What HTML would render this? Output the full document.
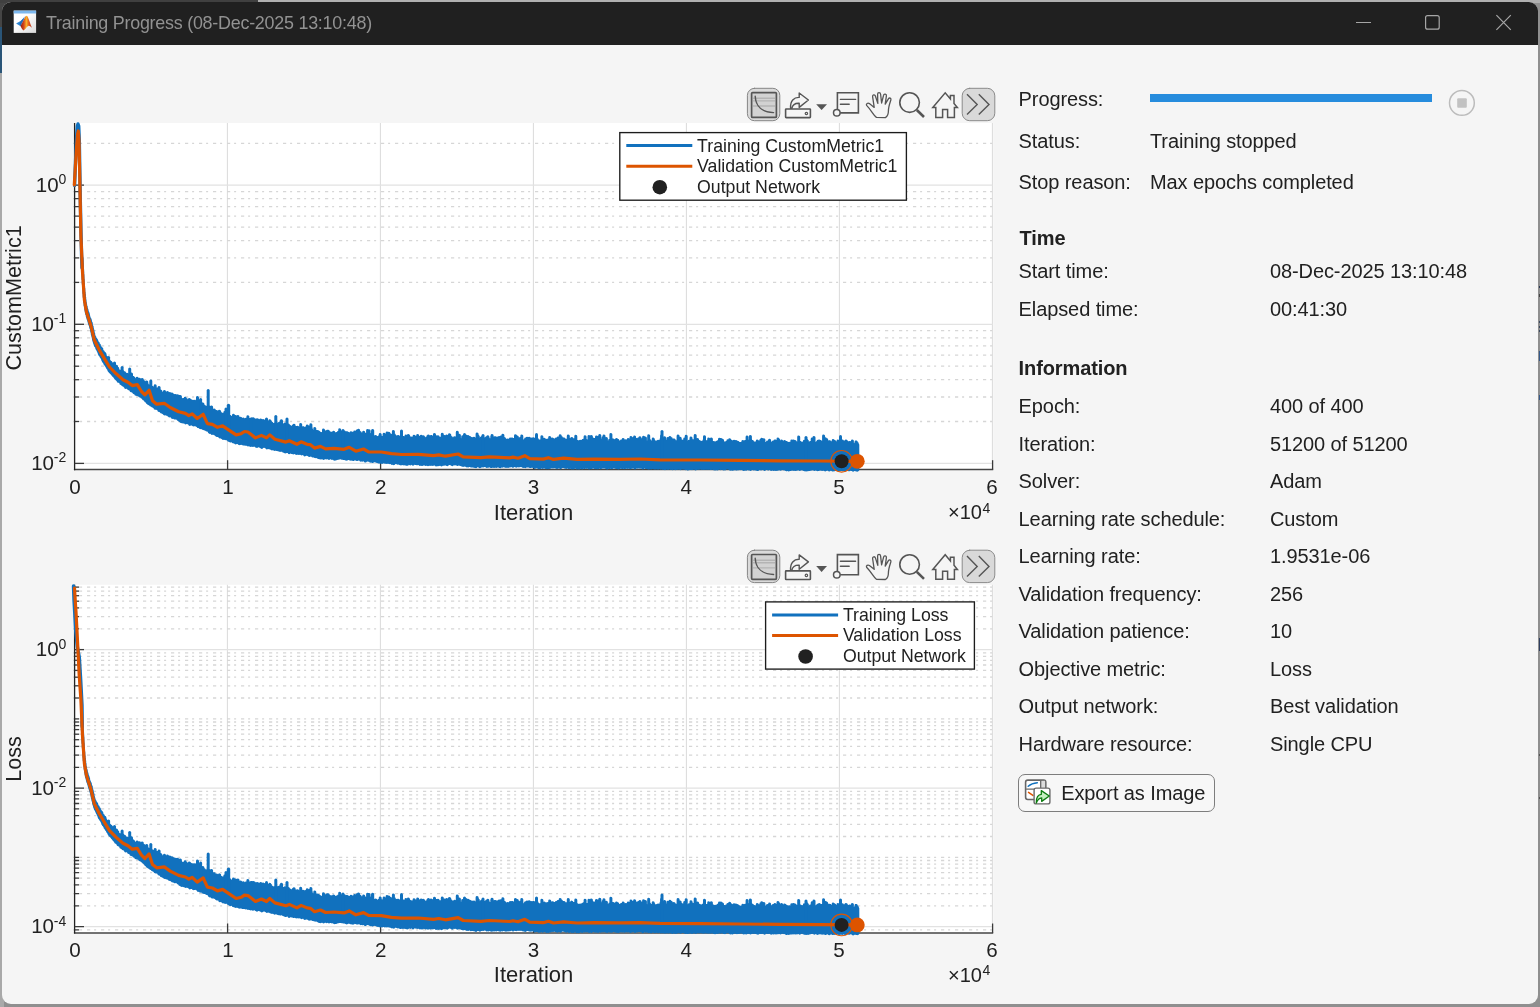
<!DOCTYPE html>
<html><head><meta charset="utf-8"><title>Training Progress</title>
<style>
html,body{margin:0;padding:0}
body{width:1540px;height:1007px;overflow:hidden;position:relative;background:#8f8f8f;font-family:"Liberation Sans",Arial,sans-serif;color:#212121}
.bgl{position:absolute;left:0;top:0;width:4px}
#win{position:absolute;left:2px;top:2px;width:1536px;height:1002px;border-radius:9px;background:#f5f5f5;overflow:hidden}
#tb{position:absolute;left:0;top:0;width:100%;height:42.8px;background:#202020}
#title{position:absolute;left:46px;top:13.3px;font-size:17.9px;letter-spacing:-0.24px;line-height:20px;color:#929292;white-space:pre}
.r{position:absolute;left:0;height:0;font-size:20px;letter-spacing:-0.1px;line-height:0;white-space:pre}
.r span{position:absolute;top:0;line-height:0}
.r .l{left:1018.6px}
.h{font-weight:700}
#bar{position:absolute;left:1150px;top:93.7px;width:282px;height:8.5px;background:#268cdd}
#stop{position:absolute;left:1449px;top:90px;width:23.6px;height:23.6px;border:1.5px solid #bdbdbd;border-radius:50%;box-sizing:content-box}
#stop i{position:absolute;left:7px;top:7px;width:9.6px;height:9.6px;background:#c3c3c3;border-radius:1px}
#btn{position:absolute;left:1018.3px;top:774.2px;width:195px;height:36px;border:1px solid #7d7d7d;border-radius:7px;background:#f7f7f7;box-sizing:content-box}
#btn span{position:absolute;left:41.9px;top:17.7px;line-height:0;font-size:20px;letter-spacing:-0.1px;white-space:pre}
</style></head><body>
<div class="bgl" style="top:0;height:27px;background:#454545"></div>
<div style="position:absolute;left:0;top:0;width:12px;height:12px;background:#454545"></div>
<div class="bgl" style="top:27px;height:46px;background:#2a5578"></div>
<div class="bgl" style="top:73px;height:940px;background:#a9a9a9"></div>
<div style="position:absolute;left:0;top:0;width:1540px;height:3px;background:#b0b0b0"></div>
<div style="position:absolute;left:0;top:0;width:258px;height:3px;background:#404040"></div>
<div id="win" style="left:2px;top:2px"><div style="position:absolute;left:-2px;top:-2px;width:1540px;height:1007px">
<div id="tb" style="left:2px;top:2px;width:1536px"></div>
<svg width="24" height="24" viewBox="0 0 24 24" style="position:absolute;left:13px;top:10px">
<defs><linearGradient id="mg" x1="0" y1="0" x2="1" y2="0"><stop offset="0" stop-color="#8e1a10"/><stop offset="0.3" stop-color="#d8481a"/><stop offset="0.52" stop-color="#f7b22a"/><stop offset="0.7" stop-color="#e8641a"/><stop offset="1" stop-color="#b4281a"/></linearGradient>
<linearGradient id="wg" x1="0" y1="0" x2="1" y2="1"><stop offset="0.4" stop-color="#ffffff"/><stop offset="1" stop-color="#d9d9d9"/></linearGradient></defs>
<rect x="0.7" y="0.6" width="22.4" height="22.3" fill="url(#wg)"/>
<rect x="0.7" y="0.6" width="22.4" height="2.9" fill="#7db8ee"/>
<path d="M3.1,13.5L8,10.8L11.8,6.6L10.6,10.4L8.6,13L7.6,16.2Z" fill="#2e86d2"/>
<path d="M8,10.8L10.4,8.4L9.6,12.4L7.6,16.2L6.6,13.4Z" fill="#1c5ca8" opacity="0.7"/>
<path d="M7.5,15.9L10.4,10.4L12.5,6.3L13.6,5.8L14.6,6.5C15.8,9 17,13.2 18.9,17.8C17.5,16.7 16.4,15.6 15.4,15.9C13.6,16.5 12.3,19.4 10.3,20.6C9.2,19.2 8.2,17.5 7.5,15.9Z" fill="url(#mg)"/>
<path d="M10.3,20.6C11.2,19.4 12,17.4 13.4,16.4L12,18.6Z" fill="#f7c12a"/>
</svg>
<div id="title">Training Progress (08-Dec-2025 13:10:48)</div>
<svg width="200" height="44" viewBox="1340 0 200 44" style="position:absolute;left:1340px;top:0" fill="none" stroke="#a6a6a6" stroke-width="1.2">
<path d="M1356,22.5h15"/><rect x="1425.6" y="15.6" width="13.6" height="13.6" rx="2"/><path d="M1496.4,15.2L1510.8,29.8M1510.8,15.2L1496.4,29.8"/>
</svg>
<svg width="1010" height="960" viewBox="0 46 1010 960" style="position:absolute;left:0;top:46px" font-family="Liberation Sans, Arial, sans-serif" fill="#212121">
<rect x="74.6" y="123.0" width="918.6" height="346.6" fill="#fff"/>
<path d="M227.4,123.0V469.6" stroke="#dcdcdc" stroke-width="1.05"/>
<path d="M380.4,123.0V469.6" stroke="#dcdcdc" stroke-width="1.05"/>
<path d="M533.4,123.0V469.6" stroke="#dcdcdc" stroke-width="1.05"/>
<path d="M686.4,123.0V469.6" stroke="#dcdcdc" stroke-width="1.05"/>
<path d="M839.4,123.0V469.6" stroke="#dcdcdc" stroke-width="1.05"/>
<path d="M992.4,123.0V469.6" stroke="#dcdcdc" stroke-width="1.05"/>
<path d="M74.6,185.2H992.6" stroke="#e2e2e2" stroke-width="1.3"/>
<path d="M74.6,324.3H992.6" stroke="#e2e2e2" stroke-width="1.3"/>
<path d="M74.6,463.4H992.6" stroke="#e2e2e2" stroke-width="1.3"/>
<path d="M73.0,421.5H992.6" stroke="#d6d6d6" stroke-width="1.3" stroke-dasharray="3.2 3.9 2 4.9"/>
<path d="M73.0,397.0H992.6" stroke="#d6d6d6" stroke-width="1.3" stroke-dasharray="3.2 3.9 2 4.9"/>
<path d="M73.0,379.7H992.6" stroke="#d6d6d6" stroke-width="1.3" stroke-dasharray="3.2 3.9 2 4.9"/>
<path d="M73.0,366.2H992.6" stroke="#d6d6d6" stroke-width="1.3" stroke-dasharray="3.2 3.9 2 4.9"/>
<path d="M73.0,355.2H992.6" stroke="#d6d6d6" stroke-width="1.3" stroke-dasharray="3.2 3.9 2 4.9"/>
<path d="M73.0,345.8H992.6" stroke="#d6d6d6" stroke-width="1.3" stroke-dasharray="3.2 3.9 2 4.9"/>
<path d="M73.0,337.8H992.6" stroke="#d6d6d6" stroke-width="1.3" stroke-dasharray="3.2 3.9 2 4.9"/>
<path d="M73.0,330.7H992.6" stroke="#d6d6d6" stroke-width="1.3" stroke-dasharray="3.2 3.9 2 4.9"/>
<path d="M73.0,282.4H992.6" stroke="#d6d6d6" stroke-width="1.3" stroke-dasharray="3.2 3.9 2 4.9"/>
<path d="M73.0,257.9H992.6" stroke="#d6d6d6" stroke-width="1.3" stroke-dasharray="3.2 3.9 2 4.9"/>
<path d="M73.0,240.6H992.6" stroke="#d6d6d6" stroke-width="1.3" stroke-dasharray="3.2 3.9 2 4.9"/>
<path d="M73.0,227.1H992.6" stroke="#d6d6d6" stroke-width="1.3" stroke-dasharray="3.2 3.9 2 4.9"/>
<path d="M73.0,216.1H992.6" stroke="#d6d6d6" stroke-width="1.3" stroke-dasharray="3.2 3.9 2 4.9"/>
<path d="M73.0,206.7H992.6" stroke="#d6d6d6" stroke-width="1.3" stroke-dasharray="3.2 3.9 2 4.9"/>
<path d="M73.0,198.7H992.6" stroke="#d6d6d6" stroke-width="1.3" stroke-dasharray="3.2 3.9 2 4.9"/>
<path d="M73.0,191.6H992.6" stroke="#d6d6d6" stroke-width="1.3" stroke-dasharray="3.2 3.9 2 4.9"/>
<path d="M73.0,143.3H992.6" stroke="#d6d6d6" stroke-width="1.3" stroke-dasharray="3.2 3.9 2 4.9"/>
<path d="M73.89999999999999,469.6H993.2" fill="none" stroke="#444" stroke-width="1.5"/><path d="M74.6,123.0V470.3" fill="none" stroke="#222" stroke-width="1.3"/>
<path d="M227.6,469.6v-9.4" stroke="#3a3a3a" stroke-width="1.3"/>
<path d="M380.6,469.6v-9.4" stroke="#3a3a3a" stroke-width="1.3"/>
<path d="M533.6,469.6v-9.4" stroke="#3a3a3a" stroke-width="1.3"/>
<path d="M686.6,469.6v-9.4" stroke="#3a3a3a" stroke-width="1.3"/>
<path d="M839.6,469.6v-9.4" stroke="#3a3a3a" stroke-width="1.3"/>
<path d="M992.6,469.6v-9.4" stroke="#3a3a3a" stroke-width="1.3"/>
<path d="M74.6,463.4h9.4" stroke="#3a3a3a" stroke-width="1.3"/>
<path d="M74.6,421.5h4.6" stroke="#3a3a3a" stroke-width="1.3"/>
<path d="M74.6,397.0h4.6" stroke="#3a3a3a" stroke-width="1.3"/>
<path d="M74.6,379.7h4.6" stroke="#3a3a3a" stroke-width="1.3"/>
<path d="M74.6,366.2h4.6" stroke="#3a3a3a" stroke-width="1.3"/>
<path d="M74.6,355.2h4.6" stroke="#3a3a3a" stroke-width="1.3"/>
<path d="M74.6,345.8h4.6" stroke="#3a3a3a" stroke-width="1.3"/>
<path d="M74.6,337.8h4.6" stroke="#3a3a3a" stroke-width="1.3"/>
<path d="M74.6,330.7h4.6" stroke="#3a3a3a" stroke-width="1.3"/>
<path d="M74.6,324.3h9.4" stroke="#3a3a3a" stroke-width="1.3"/>
<path d="M74.6,282.4h4.6" stroke="#3a3a3a" stroke-width="1.3"/>
<path d="M74.6,257.9h4.6" stroke="#3a3a3a" stroke-width="1.3"/>
<path d="M74.6,240.6h4.6" stroke="#3a3a3a" stroke-width="1.3"/>
<path d="M74.6,227.1h4.6" stroke="#3a3a3a" stroke-width="1.3"/>
<path d="M74.6,216.1h4.6" stroke="#3a3a3a" stroke-width="1.3"/>
<path d="M74.6,206.7h4.6" stroke="#3a3a3a" stroke-width="1.3"/>
<path d="M74.6,198.7h4.6" stroke="#3a3a3a" stroke-width="1.3"/>
<path d="M74.6,191.6h4.6" stroke="#3a3a3a" stroke-width="1.3"/>
<path d="M74.6,185.2h9.4" stroke="#3a3a3a" stroke-width="1.3"/>
<path d="M74.6,143.3h4.6" stroke="#3a3a3a" stroke-width="1.3"/>
<text x="75.1" y="493.8" text-anchor="middle" font-size="20.6">0</text>
<text x="227.9" y="493.8" text-anchor="middle" font-size="20.6">1</text>
<text x="380.7" y="493.8" text-anchor="middle" font-size="20.6">2</text>
<text x="533.5" y="493.8" text-anchor="middle" font-size="20.6">3</text>
<text x="686.3" y="493.8" text-anchor="middle" font-size="20.6">4</text>
<text x="839.1" y="493.8" text-anchor="middle" font-size="20.6">5</text>
<text x="991.9" y="493.8" text-anchor="middle" font-size="20.6">6</text>
<text x="533.6" y="519.9" text-anchor="middle" font-size="22">Iteration</text>
<text x="982.0" y="519.3" text-anchor="end" font-size="20">×10</text><text x="982.4" y="512.8" font-size="14">4</text>
<text x="58.6" y="192.0" text-anchor="end" font-size="20.5">10</text><text x="66.2" y="184.2" text-anchor="end" font-size="14">0</text>
<text x="54.0" y="331.1" text-anchor="end" font-size="20.5">10</text><text x="66.2" y="323.3" text-anchor="end" font-size="14">-1</text>
<text x="54.0" y="470.2" text-anchor="end" font-size="20.5">10</text><text x="66.2" y="462.4" text-anchor="end" font-size="14">-2</text>
<text transform="translate(21 297.9) rotate(-90)" text-anchor="middle" font-size="21.6">CustomMetric1</text>
<g clip-path="none"><path d="M74.6,185.5 75.2,170.0 76.0,150.0 76.8,134.0 77.4,126.0 78.0,124.0 78.7,126.0 79.3,140.0 79.8,170.0 80.4,205.0 81.0,232.0 81.6,256.0 82.0,268.0" fill="none" stroke="#1171be" stroke-width="3.4" stroke-linejoin="round" stroke-linecap="round"/>
<path d="M82.0,258.1 82.2,262.6 82.3,263.3 82.5,268.1 82.6,269.4 82.8,273.9 82.9,274.8 83.0,279.5 83.2,279.6 83.3,284.3 83.5,283.7 83.6,288.8 83.8,288.5 83.9,293.5 84.1,292.2 84.2,297.1 84.4,294.6 84.5,299.8 84.7,297.2 84.8,302.8 85.0,299.8 85.1,305.6 85.3,302.6 85.4,307.3 85.6,304.0 85.7,309.4 85.9,306.6 86.0,310.9 86.2,306.5 86.3,312.5 86.5,308.3 86.6,314.0 86.8,309.2 86.9,314.8 87.1,310.1 87.2,316.2 87.4,311.5 87.5,317.3 87.7,312.7 87.8,318.3 88.0,312.8 88.1,319.2 88.3,313.8 88.4,320.1 88.6,314.9 88.7,321.0 88.9,316.6 89.0,321.9 89.2,317.7 89.3,323.2 89.5,318.2 89.6,324.2 89.8,318.9 89.9,325.1 90.1,319.3 90.2,325.8 90.4,320.2 90.5,327.0 90.7,321.8 90.8,328.0 91.0,322.7 91.1,328.8 91.3,323.0 91.4,330.0 91.6,325.2 91.7,331.5 91.9,326.2 92.0,332.8 92.2,326.8 92.3,334.4 92.5,328.5 92.6,335.4 92.8,329.7 92.9,336.8 93.1,330.7 93.2,337.9 93.4,332.9 93.5,339.7 93.7,333.6 93.8,340.8 94.0,335.3 94.1,341.7 94.3,336.2 94.4,342.7 94.6,337.1 94.7,343.8 94.9,337.2 95.0,344.5 95.2,338.2 95.3,345.4 95.5,339.3 95.6,345.9 95.8,339.0 95.9,346.3 96.1,339.5 96.2,346.7 96.4,340.6 96.5,347.6 96.7,340.2 96.8,348.4 97.0,341.3 97.1,349.1 97.3,342.1 97.4,349.5 97.6,343.2 97.7,350.0 97.9,343.3 98.0,350.8 98.2,343.1 98.3,351.2 98.5,344.1 98.6,352.1 98.8,345.4 98.9,352.6 99.1,346.1 99.2,353.8 99.4,345.1 99.5,354.4 99.7,347.4 99.8,354.3 100.0,346.9 100.1,355.1 100.3,348.2 100.4,355.6 100.6,347.6 100.7,356.2 100.9,348.0 101.0,356.1 101.2,349.1 101.3,357.0 101.5,348.8 101.6,357.5 101.8,348.8 101.9,358.0 102.1,350.8 102.2,358.8 102.4,350.9 102.5,359.0 102.7,351.8 102.8,360.2 103.0,352.2 103.1,360.5 103.3,351.8 103.4,361.4 103.6,352.7 103.7,361.1 103.9,353.3 104.0,361.7 104.2,354.8 104.3,362.3 104.5,354.1 104.6,363.2 104.8,353.6 104.9,364.0 105.1,354.3 105.2,363.8 105.4,355.7 105.5,364.3 105.7,356.4 105.8,365.1 106.0,357.1 106.1,365.3 106.3,357.5 106.4,366.1 106.6,357.3 106.7,366.4 106.9,357.8 107.0,366.6 107.2,358.5 107.3,367.4 107.5,359.0 107.6,368.1 107.8,360.3 107.9,368.5 108.1,360.4 108.2,368.7 108.4,360.6 108.5,369.5 108.7,361.6 108.8,370.2 109.0,360.8 109.1,370.7 109.3,361.8 109.4,370.7 109.6,361.3 109.7,371.3 109.9,362.7 110.0,372.0 110.2,362.6 110.3,371.8 110.5,363.3 110.6,372.1 110.8,362.3 110.9,372.4 111.1,363.0 111.2,373.0 111.4,363.2 111.5,373.0 111.7,364.6 111.8,373.5 112.0,363.8 112.1,374.1 112.3,363.9 112.4,374.0 112.6,364.1 112.7,374.7 112.9,364.7 113.0,374.8 113.2,366.1 113.3,375.6 113.5,365.9 113.6,375.4 113.8,367.1 113.9,376.0 114.1,367.0 114.2,376.3 114.4,367.2 114.5,376.8 114.7,367.5 114.8,377.1 115.0,366.9 115.1,377.6 115.3,367.6 115.4,378.1 115.6,368.0 115.7,378.6 115.9,368.2 116.0,378.3 116.2,368.5 116.3,378.6 116.5,366.3 116.6,378.9 116.8,369.9 116.9,379.5 117.1,370.1 117.2,379.5 117.4,369.2 117.5,380.0 117.7,368.2 117.8,380.6 118.0,370.0 118.1,381.2 118.3,370.2 118.4,380.9 118.6,370.6 118.7,381.3 118.9,370.9 119.0,381.1 119.2,370.9 119.3,381.4 119.5,371.0 119.6,381.8 119.8,371.7 119.9,381.8 120.1,371.2 120.2,382.1 120.4,371.7 120.5,382.7 120.7,372.3 120.8,383.6 121.0,371.3 121.1,382.6 121.3,372.9 121.4,383.2 121.6,373.2 121.7,383.4 121.9,372.4 122.0,383.9 122.2,373.4 122.3,384.4 122.5,372.5 122.6,384.7 122.8,371.5 122.9,385.1 123.1,373.4 123.2,384.6 123.4,373.0 123.5,385.2 123.7,372.9 123.8,385.4 124.0,374.7 124.1,385.4 124.3,374.1 124.4,385.5 124.6,372.7 124.7,385.5 124.9,373.9 125.0,386.4 125.2,374.0 125.3,386.5 125.5,374.3 125.6,387.4 125.8,375.4 125.9,386.6 126.1,375.3 126.2,387.2 126.4,374.6 126.5,386.8 126.7,375.7 126.8,387.2 127.0,374.3 127.1,387.5 127.3,375.0 127.4,387.1 127.6,375.7 127.7,387.3 127.9,375.2 128.0,388.0 128.2,374.9 128.3,388.0 128.5,376.7 128.6,388.8 128.8,375.3 128.9,388.5 129.1,376.6 129.2,389.1 129.4,377.4 129.5,388.6 129.7,377.1 129.8,389.1 130.0,376.6 130.1,389.1 130.3,376.2 130.4,389.5 130.6,377.1 130.7,390.0 130.9,377.1 131.0,390.8 131.2,377.9 131.3,389.9 131.5,374.1 131.6,390.7 131.8,378.3 131.9,391.1 132.1,377.1 132.2,390.8 132.4,377.7 132.5,390.8 132.7,377.2 132.8,391.0 133.0,379.3 133.1,391.5 133.3,377.4 133.4,391.9 133.6,378.9 133.7,391.5 133.9,378.1 134.0,392.7 134.2,379.6 134.3,391.9 134.5,379.8 134.6,392.4 134.8,379.7 134.9,392.8 135.1,379.9 135.2,392.9 135.4,380.2 135.5,393.1 135.7,380.4 135.8,394.2 136.0,379.6 136.1,393.5 136.3,379.9 136.4,394.0 136.6,380.9 136.7,394.4 136.9,380.6 137.0,394.5 137.2,378.3 137.3,394.4 137.5,379.5 137.6,394.7 137.8,380.8 137.9,394.3 138.1,382.3 138.2,394.6 138.4,381.0 138.5,394.9 138.7,380.7 138.8,394.8 139.0,381.4 139.1,395.2 139.3,380.8 139.4,395.2 139.6,379.2 139.7,396.1 139.9,379.9 140.0,395.7 140.2,381.0 140.3,396.2 140.5,380.9 140.6,395.5 140.8,382.4 140.9,395.9 141.1,381.3 141.2,396.4 141.4,381.3 141.5,396.8 141.7,380.9 141.8,397.3 142.0,380.5 142.1,396.3 142.3,379.4 142.4,396.8 142.6,383.7 142.7,397.5 142.9,381.9 143.0,397.6 143.2,382.0 143.3,398.4 143.5,382.6 143.6,398.9 143.8,383.3 143.9,398.7 144.1,381.8 144.2,398.7 144.4,383.0 144.5,399.1 144.7,385.4 144.8,399.4 145.0,383.4 145.1,400.1 145.3,384.7 145.4,400.4 145.6,385.9 145.7,401.1 145.9,383.2 146.0,400.7 146.2,385.4 146.3,400.8 146.5,386.3 146.6,401.0 146.8,381.9 146.9,401.2 147.1,383.8 147.2,402.6 147.4,386.7 147.5,402.1 147.7,386.8 147.8,403.0 148.0,387.5 148.1,402.4 148.3,385.5 148.4,403.5 148.6,387.0 148.7,403.7 148.9,388.9 149.0,403.2 149.2,386.4 149.3,403.2 149.5,388.6 149.6,404.1 149.8,388.6 149.9,404.1 150.1,387.5 150.2,403.7 150.4,387.8 150.5,405.0 150.7,385.7 150.8,403.7 151.0,388.0 151.1,404.5 151.3,388.3 151.4,405.2 151.6,388.5 151.7,405.1 151.9,388.6 152.0,405.5 152.2,389.7 152.3,406.1 152.5,387.5 152.6,405.8 152.8,388.4 152.9,405.2 153.1,390.2 153.2,406.2 153.4,389.1 153.5,405.8 153.7,389.7 153.8,406.8 154.0,389.4 154.1,406.6 154.3,390.8 154.4,406.5 154.6,388.6 154.7,407.3 154.9,388.8 155.0,408.2 155.2,385.8 155.3,407.6 155.5,389.7 155.6,408.3 155.8,390.8 155.9,408.1 156.1,389.4 156.2,407.5 156.4,391.8 156.5,408.3 156.7,390.5 156.8,407.7 157.0,390.0 157.1,408.4 157.3,388.9 157.4,408.1 157.6,391.9 157.7,408.9 157.9,391.4 158.0,408.6 158.2,392.7 158.3,408.7 158.5,392.0 158.6,409.5 158.8,390.6 158.9,410.4 159.1,387.5 159.2,410.0 159.4,393.0 159.5,410.5 159.7,390.5 159.8,410.1 160.0,390.5 160.1,410.8 160.3,392.0 160.4,410.9 160.6,393.1 160.7,411.2 160.9,391.2 161.0,411.5 161.2,392.2 161.3,412.1 161.5,393.5 161.6,411.5 161.8,394.3 161.9,411.9 162.1,392.9 162.2,411.8 162.4,394.6 162.5,412.0 162.7,393.8 162.8,411.9 163.0,395.5 163.1,412.8 163.3,393.5 163.4,412.2 163.6,393.8 163.7,413.1 163.9,395.0 164.0,413.4 164.2,395.0 164.3,413.1 164.5,391.6 164.6,413.9 164.8,394.1 164.9,412.9 165.1,393.8 165.2,413.0 165.4,394.8 165.5,413.3 165.7,393.6 165.8,413.6 166.0,395.7 166.1,413.2 166.3,394.8 166.4,414.3 166.6,396.0 166.7,413.6 166.9,394.1 167.0,414.1 167.2,396.9 167.3,414.2 167.5,392.5 167.6,414.2 167.8,394.6 167.9,414.4 168.1,398.1 168.2,414.5 168.4,394.8 168.5,415.2 168.7,394.3 168.8,415.2 169.0,393.9 169.1,413.9 169.3,395.4 169.4,415.9 169.6,395.8 169.7,415.7 169.9,393.5 170.0,415.3 170.2,395.3 170.3,415.3 170.5,394.7 170.6,415.8 170.8,395.1 170.9,415.4 171.1,396.5 171.2,416.3 171.4,394.7 171.5,416.3 171.7,395.6 171.8,415.5 172.0,394.1 172.1,416.1 172.3,396.3 172.4,417.4 172.6,397.4 172.7,416.1 172.9,395.4 173.0,416.7 173.2,396.0 173.3,416.5 173.5,396.2 173.6,416.8 173.8,395.2 173.9,417.2 174.1,397.3 174.2,417.5 174.4,396.3 174.5,418.1 174.7,399.1 174.8,418.0 175.0,396.7 175.1,418.1 175.3,397.6 175.4,418.1 175.6,395.6 175.7,418.0 175.9,397.6 176.0,417.4 176.2,397.3 176.3,417.7 176.5,399.9 176.6,418.0 176.8,397.3 176.9,418.1 177.1,397.2 177.2,418.5 177.4,395.7 177.5,418.7 177.7,400.3 177.8,419.1 178.0,398.2 178.1,419.5 178.3,399.9 178.4,419.3 178.6,400.4 178.7,419.4 178.9,396.3 179.0,419.4 179.2,398.1 179.3,419.4 179.5,401.0 179.6,420.5 179.8,398.7 179.9,420.8 180.1,400.7 180.2,419.8 180.4,396.5 180.5,420.9 180.7,399.7 180.8,421.5 181.0,398.7 181.1,419.9 181.3,399.1 181.4,419.9 181.6,401.2 181.7,421.8 181.9,399.8 182.0,420.6 182.2,402.0 182.3,421.0 182.5,400.0 182.6,421.2 182.8,402.1 182.9,422.0 183.1,401.3 183.2,419.9 183.4,400.5 183.5,420.9 183.7,399.6 183.8,422.1 184.0,401.0 184.1,421.1 184.3,401.7 184.4,421.2 184.6,402.5 184.7,422.2 184.9,402.7 185.0,421.0 185.2,398.2 185.3,421.2 185.5,402.2 185.6,422.9 185.8,399.8 185.9,421.2 186.1,401.3 186.2,422.1 186.4,399.6 186.5,422.2 186.7,402.5 186.8,422.6 187.0,401.3 187.1,422.1 187.3,404.1 187.4,422.6 187.6,401.9 187.7,422.8 187.9,403.1 188.0,422.8 188.2,401.3 188.3,422.5 188.5,402.5 188.6,422.4 188.8,403.1 188.9,423.5 189.1,402.5 189.2,423.4 189.4,399.4 189.5,423.5 189.7,402.2 189.8,424.5 190.0,404.1 190.1,423.9 190.3,405.4 190.4,423.3 190.6,403.4 190.7,423.9 190.9,403.9 191.0,423.2 191.2,401.1 191.3,424.0 191.5,404.2 191.6,423.6 191.8,402.4 191.9,423.6 192.1,403.1 192.2,423.9 192.4,405.0 192.5,423.6 192.7,402.5 192.8,423.1 193.0,401.2 193.1,424.7 193.3,405.6 193.4,425.1 193.6,403.7 193.7,423.4 193.9,404.8 194.0,423.0 194.2,404.6 194.3,424.4 194.5,401.2 194.6,424.8 194.8,401.8 194.9,424.8 195.1,401.7 195.2,424.3 195.4,402.0 195.5,424.4 195.7,401.7 195.8,424.2 196.0,403.7 196.1,423.8 196.3,404.8 196.4,424.1 196.6,404.4 196.7,425.4 196.9,400.7 197.0,425.3 197.2,405.2 197.3,425.1 197.5,397.4 197.6,425.5 197.8,402.5 197.9,425.3 198.1,405.3 198.2,426.8 198.4,402.6 198.5,426.4 198.7,400.8 198.8,426.5 199.0,405.5 199.1,425.8 199.3,404.1 199.4,426.8 199.6,404.2 199.7,426.2 199.9,407.2 200.0,427.0 200.2,405.0 200.3,427.7 200.5,406.9 200.6,426.5 200.8,406.5 200.9,427.4 201.1,406.7 201.2,427.4 201.4,407.6 201.5,427.4 201.7,403.8 201.8,426.3 202.0,408.6 202.1,427.9 202.3,408.3 202.4,427.9 202.6,406.9 202.7,428.0 202.9,403.9 203.0,428.6 203.2,405.5 203.3,428.1 203.5,407.3 203.6,428.1 203.8,406.6 203.9,428.8 204.1,405.9 204.2,428.7 204.4,408.2 204.5,429.0 204.7,406.6 204.8,428.8 205.0,406.8 205.1,429.0 205.3,408.1 205.4,429.2 205.6,410.4 205.7,429.0 205.9,408.2 206.0,429.4 206.2,409.3 206.3,428.8 206.5,407.4 206.6,430.0 206.8,407.2 206.9,429.9 207.1,408.0 207.2,429.4 207.4,408.9 207.5,429.4 207.7,408.1 207.8,430.1 208.0,410.3 208.1,430.4 208.3,409.9 208.4,429.9 208.6,412.0 208.7,430.7 208.9,410.9 209.0,430.7 209.2,407.0 209.3,431.9 209.5,411.6 209.6,431.7 209.8,410.7 209.9,432.4 210.1,409.3 210.2,431.1 210.4,410.1 210.5,431.1 210.7,409.5 210.8,431.2 211.0,413.3 211.1,431.1 211.3,410.0 211.4,431.9 211.6,407.0 211.7,433.0 211.9,412.8 212.0,433.5 212.2,411.3 212.3,432.1 212.5,412.7 212.6,433.0 212.8,411.9 212.9,433.3 213.1,412.5 213.2,433.0 213.4,410.8 213.5,433.0 213.7,411.4 213.8,433.4 214.0,410.2 214.1,433.3 214.3,410.1 214.4,433.7 214.6,412.6 214.7,434.0 214.9,413.0 215.0,433.7 215.2,414.5 215.3,433.6 215.5,414.2 215.6,433.5 215.8,411.6 215.9,434.1 216.1,412.5 216.2,435.0 216.4,413.4 216.5,434.2 216.7,411.4 216.8,435.4 217.0,414.6 217.1,435.4 217.3,414.1 217.4,434.9 217.6,415.3 217.7,435.0 217.9,414.7 218.0,435.2 218.2,413.9 218.3,435.5 218.5,414.5 218.6,435.7 218.8,414.0 218.9,435.0 219.1,416.9 219.2,435.4 219.4,411.3 219.5,436.0 219.7,411.5 219.8,437.1 220.0,416.1 220.1,436.1 220.3,414.5 220.4,436.0 220.6,414.8 220.7,435.7 220.9,415.7 221.0,436.1 221.2,414.2 221.3,437.0 221.5,413.8 221.6,437.4 221.8,414.2 221.9,436.2 222.1,415.5 222.2,436.1 222.4,415.1 222.5,436.7 222.7,416.1 222.8,437.8 223.0,418.2 223.1,438.4 223.3,415.9 223.4,437.7 223.6,414.2 223.7,437.5 223.9,415.6 224.0,437.7 224.2,415.0 224.3,437.7 224.5,419.1 224.6,437.8 224.8,412.4 224.9,437.8 225.1,418.4 225.2,438.8 225.4,414.7 225.5,438.2 225.7,415.7 225.8,437.5 226.0,416.1 226.1,438.3 226.3,417.4 226.4,438.2 226.6,416.5 226.7,438.4 226.9,417.2 227.0,438.9 227.2,416.3 227.3,438.7 227.5,416.4 227.6,438.4 227.8,420.1 227.9,438.8 228.1,418.6 228.2,439.2 228.4,418.4 228.5,440.2 228.7,415.5 228.8,439.2 229.0,416.1 229.1,439.4 229.3,419.3 229.4,439.6 229.6,419.6 229.7,440.7 229.9,416.2 230.0,440.4 230.2,419.6 230.3,441.1 230.5,418.5 230.6,441.0 230.8,417.1 230.9,440.1 231.1,418.5 231.2,440.2 231.4,420.3 231.5,440.1 231.7,418.4 231.8,440.6 232.0,418.0 232.1,440.6 232.3,418.8 232.4,440.0 232.6,420.5 232.7,441.4 232.9,417.7 233.0,440.9 233.2,417.4 233.3,442.1 233.5,415.3 233.6,441.7 233.8,416.5 233.9,440.9 234.1,420.0 234.2,440.7 234.4,417.7 234.5,441.6 234.7,416.7 234.8,441.6 235.0,418.1 235.1,442.6 235.3,419.0 235.4,441.6 235.6,416.4 235.7,443.0 235.9,419.3 236.0,441.5 236.2,420.8 236.3,441.8 236.5,421.2 236.6,441.5 236.8,421.0 236.9,441.5 237.1,419.6 237.2,442.0 237.4,421.7 237.5,442.5 237.7,420.5 237.8,442.8 238.0,416.5 238.1,441.7 238.3,419.2 238.4,441.8 238.6,418.6 238.7,442.4 238.9,420.4 239.0,442.7 239.2,420.5 239.3,443.7 239.5,420.8 239.6,442.3 239.8,419.8 239.9,441.8 240.1,420.8 240.2,442.6 240.4,420.6 240.5,443.4 240.7,418.3 240.8,443.3 241.0,421.0 241.1,442.8 241.3,421.7 241.4,442.7 241.6,422.6 241.7,443.1 241.9,422.6 242.0,441.9 242.2,420.9 242.3,443.8 242.5,423.2 242.6,442.6 242.8,420.2 242.9,443.0 243.1,423.8 243.2,444.0 243.4,419.1 243.5,443.9 243.7,420.4 243.8,443.2 244.0,420.8 244.1,443.1 244.3,421.0 244.4,442.9 244.6,421.4 244.7,443.1 244.9,420.7 245.0,444.2 245.2,420.6 245.3,443.2 245.5,422.3 245.6,444.3 245.8,421.3 245.9,442.9 246.1,419.3 246.2,443.1 246.4,420.3 246.5,443.6 246.7,422.9 246.8,443.5 247.0,422.5 247.1,444.2 247.3,420.5 247.4,444.7 247.6,423.7 247.7,443.9 247.9,416.8 248.0,444.9 248.2,420.5 248.3,442.8 248.5,418.9 248.6,443.4 248.8,418.9 248.9,444.4 249.1,424.0 249.2,445.0 249.4,421.8 249.5,443.7 249.7,424.2 249.8,444.6 250.0,422.2 250.1,444.9 250.3,421.7 250.4,444.1 250.6,421.3 250.7,445.4 250.9,422.9 251.0,444.2 251.2,421.1 251.3,444.3 251.5,418.9 251.6,444.7 251.8,421.7 251.9,444.0 252.1,423.9 252.2,444.3 252.4,423.3 252.5,444.9 252.7,422.7 252.8,445.6 253.0,420.6 253.1,445.6 253.3,418.8 253.4,445.1 253.6,421.9 253.7,443.8 253.9,422.3 254.0,444.5 254.2,421.5 254.3,444.9 254.5,419.5 254.6,445.0 254.8,421.0 254.9,445.2 255.1,420.7 255.2,444.2 255.4,425.1 255.5,445.7 255.7,424.8 255.8,444.9 256.0,422.0 256.1,446.2 256.3,423.8 256.4,444.9 256.6,425.3 256.7,445.5 256.9,420.7 257.0,446.6 257.2,419.8 257.3,445.5 257.5,422.2 257.6,445.1 257.8,422.8 257.9,445.6 258.1,423.4 258.2,444.7 258.4,420.3 258.5,445.4 258.7,423.2 258.8,445.1 259.0,424.4 259.1,445.9 259.3,424.1 259.4,446.1 259.6,424.2 259.7,446.1 259.9,423.8 260.0,445.7 260.2,423.3 260.3,445.6 260.5,423.1 260.6,446.7 260.8,420.0 260.9,444.9 261.1,423.6 261.2,445.4 261.4,422.8 261.5,446.3 261.7,422.7 261.8,447.4 262.0,424.1 262.1,446.1 262.3,422.8 262.4,445.6 262.6,421.5 262.7,446.5 262.9,424.2 263.0,445.8 263.2,420.5 263.3,446.6 263.5,423.4 263.6,446.0 263.8,422.8 263.9,446.1 264.1,423.6 264.2,446.2 264.4,425.8 264.5,446.2 264.7,423.8 264.8,446.5 265.0,424.4 265.1,445.7 265.3,420.9 265.4,446.8 265.6,424.3 265.7,446.4 265.9,421.4 266.0,446.0 266.2,421.2 266.3,446.4 266.5,424.7 266.6,446.7 266.8,423.6 266.9,447.9 267.1,423.7 267.2,446.4 267.4,422.7 267.5,447.6 267.7,424.3 267.8,446.0 268.0,421.9 268.1,446.6 268.3,424.0 268.4,446.4 268.6,422.3 268.7,447.7 268.9,425.2 269.0,446.2 269.2,424.8 269.3,446.7 269.5,423.0 269.6,447.5 269.8,420.7 269.9,447.9 270.1,424.0 270.2,447.6 270.4,421.4 270.5,448.3 270.7,426.0 270.8,447.8 271.0,430.0 271.1,447.2 271.3,426.4 271.4,446.6 271.6,425.5 271.7,448.7 271.9,423.3 272.0,448.9 272.2,425.0 272.3,447.0 272.5,424.8 272.6,448.1 272.8,425.3 272.9,447.7 273.1,427.4 273.2,447.9 273.4,427.2 273.5,448.9 273.7,424.5 273.8,448.5 274.0,424.5 274.1,448.9 274.3,428.6 274.4,447.9 274.6,425.5 274.7,449.6 274.9,427.4 275.0,449.3 275.2,423.9 275.3,448.3 275.5,426.5 275.6,447.8 275.8,424.7 275.9,449.0 276.1,424.0 276.2,448.0 276.4,423.5 276.5,449.4 276.7,424.3 276.8,449.1 277.0,423.9 277.1,448.3 277.3,428.3 277.4,449.0 277.6,425.8 277.7,449.8 277.9,426.3 278.0,448.2 278.2,425.0 278.3,449.0 278.5,426.6 278.6,450.1 278.8,425.8 278.9,448.6 279.1,423.6 279.2,448.5 279.4,428.2 279.5,449.6 279.7,428.8 279.8,449.3 280.0,428.8 280.1,450.4 280.3,425.2 280.4,449.5 280.6,428.3 280.7,449.3 280.9,421.6 281.0,450.3 281.2,425.9 281.3,450.0 281.5,420.7 281.6,450.2 281.8,426.4 281.9,449.9 282.1,426.3 282.2,449.8 282.4,428.1 282.5,449.9 282.7,426.5 282.8,449.7 283.0,424.7 283.1,450.8 283.3,428.0 283.4,451.2 283.6,426.1 283.7,450.0 283.9,427.5 284.0,450.2 284.2,425.5 284.3,450.5 284.5,426.8 284.6,451.1 284.8,429.9 284.9,450.8 285.1,424.1 285.2,452.0 285.4,427.2 285.5,450.3 285.7,427.0 285.8,450.8 286.0,428.4 286.1,451.8 286.3,426.8 286.4,450.9 286.6,429.2 286.7,451.6 286.9,427.0 287.0,451.4 287.2,429.0 287.3,450.3 287.5,427.6 287.6,451.5 287.8,428.1 287.9,451.6 288.1,427.5 288.2,451.3 288.4,424.9 288.5,451.3 288.7,428.2 288.8,451.9 289.0,426.1 289.1,452.8 289.3,426.0 289.4,452.2 289.6,429.9 289.7,452.3 289.9,429.9 290.0,451.7 290.2,428.8 290.3,451.5 290.5,430.3 290.6,451.7 290.8,426.9 290.9,451.9 291.1,428.8 291.2,451.7 291.4,427.5 291.5,452.4 291.7,428.4 291.8,451.9 292.0,430.6 292.1,451.7 292.3,428.7 292.4,452.4 292.6,428.4 292.7,451.9 292.9,430.6 293.0,451.5 293.2,426.0 293.3,452.9 293.5,430.0 293.6,451.3 293.8,427.1 293.9,451.1 294.1,425.2 294.2,452.8 294.4,429.0 294.5,452.6 294.7,429.4 294.8,451.3 295.0,429.3 295.1,452.0 295.3,428.3 295.4,451.4 295.6,428.6 295.7,452.5 295.9,427.8 296.0,451.4 296.2,427.5 296.3,453.5 296.5,428.1 296.6,452.8 296.8,428.7 296.9,453.2 297.1,431.3 297.2,451.7 297.4,427.8 297.5,451.8 297.7,427.2 297.8,452.8 298.0,427.7 298.1,452.3 298.3,429.9 298.4,453.5 298.6,430.2 298.7,452.6 298.9,431.0 299.0,452.1 299.2,429.6 299.3,452.2 299.5,431.9 299.6,452.4 299.8,428.1 299.9,453.4 300.1,430.7 300.2,452.8 300.4,429.3 300.5,452.2 300.7,424.6 300.8,452.9 301.0,427.1 301.1,453.2 301.3,427.5 301.4,452.4 301.6,428.1 301.7,454.1 301.9,430.1 302.0,452.7 302.2,428.1 302.3,452.8 302.5,430.3 302.6,453.4 302.8,428.6 302.9,452.5 303.1,427.7 303.2,453.2 303.4,429.5 303.5,453.2 303.7,428.0 303.8,453.5 304.0,430.3 304.1,453.2 304.3,428.5 304.4,454.4 304.6,429.0 304.7,455.0 304.9,429.0 305.0,453.6 305.2,432.8 305.3,453.7 305.5,432.0 305.6,453.9 305.8,427.9 305.9,454.6 306.1,430.7 306.2,453.8 306.4,430.5 306.5,452.8 306.7,431.5 306.8,453.5 307.0,431.3 307.1,453.6 307.3,426.1 307.4,453.7 307.6,431.9 307.7,454.4 307.9,427.9 308.0,454.8 308.2,432.5 308.3,453.4 308.5,428.6 308.6,453.7 308.8,431.4 308.9,453.8 309.1,430.5 309.2,455.6 309.4,427.0 309.5,455.5 309.7,433.4 309.8,454.5 310.0,431.3 310.1,454.7 310.3,434.0 310.4,455.3 310.6,427.2 310.7,454.2 310.9,424.8 311.0,453.5 311.2,428.1 311.3,454.4 311.5,429.6 311.6,455.1 311.8,434.5 311.9,455.0 312.1,432.3 312.2,454.4 312.4,434.0 312.5,455.9 312.7,434.5 312.8,455.1 313.0,431.9 313.1,455.3 313.3,431.2 313.4,455.9 313.6,433.8 313.7,456.1 313.9,433.1 314.0,455.7 314.2,433.8 314.3,455.1 314.5,433.8 314.6,455.9 314.8,428.5 314.9,455.8 315.1,432.2 315.2,456.7 315.4,431.2 315.5,455.7 315.7,431.0 315.8,456.0 316.0,433.0 316.1,455.5 316.3,433.2 316.4,455.7 316.6,431.7 316.7,456.7 316.9,432.6 317.0,456.3 317.2,435.0 317.3,455.7 317.5,431.5 317.6,456.1 317.8,432.3 317.9,455.7 318.1,434.6 318.2,457.4 318.4,433.6 318.5,455.4 318.7,432.0 318.8,456.7 319.0,435.6 319.1,457.8 319.3,432.6 319.4,457.4 319.6,436.2 319.7,457.3 319.9,433.0 320.0,457.0 320.2,434.4 320.3,456.3 320.5,434.2 320.6,458.1 320.8,435.3 320.9,456.6 321.1,434.0 321.2,457.9 321.4,433.6 321.5,456.6 321.7,436.9 321.8,457.7 322.0,434.4 322.1,457.1 322.3,435.6 322.4,457.4 322.6,434.9 322.7,457.0 322.9,435.2 323.0,456.2 323.2,434.4 323.3,456.6 323.5,430.1 323.6,458.5 323.8,435.1 323.9,457.4 324.1,431.3 324.2,457.5 324.4,435.3 324.5,458.0 324.7,434.4 324.8,457.0 325.0,434.9 325.1,457.1 325.3,435.4 325.4,457.3 325.6,434.8 325.7,457.4 325.9,434.5 326.0,456.7 326.2,434.7 326.3,456.4 326.5,431.8 326.6,458.1 326.8,432.0 326.9,456.3 327.1,436.0 327.2,456.0 327.4,431.2 327.5,457.6 327.7,434.2 327.8,457.2 328.0,432.9 328.1,456.7 328.3,431.2 328.4,457.1 328.6,436.6 328.7,457.8 328.9,434.1 329.0,458.5 329.2,432.8 329.3,456.9 329.5,434.3 329.6,457.9 329.8,433.3 329.9,457.3 330.1,433.0 330.2,457.2 330.4,436.4 330.5,457.8 330.7,435.4 330.8,457.6 331.0,433.3 331.1,457.3 331.3,433.6 331.4,457.2 331.6,435.1 331.7,457.8 331.9,434.4 332.0,458.4 332.2,435.2 332.3,458.1 332.5,432.9 332.6,457.2 332.8,437.4 332.9,458.1 333.1,434.7 333.2,457.9 333.4,436.3 333.5,458.1 333.7,432.3 333.8,457.7 334.0,434.6 334.1,457.4 334.3,433.7 334.4,459.2 334.6,436.5 334.7,458.5 334.9,435.2 335.0,458.0 335.2,435.2 335.3,457.6 335.5,433.7 335.6,457.1 335.8,437.6 335.9,458.9 336.1,438.0 336.2,458.8 336.4,435.0 336.5,458.0 336.7,435.4 336.8,457.4 337.0,434.3 337.1,457.9 337.3,433.2 337.4,458.5 337.6,434.4 337.7,456.7 337.9,433.4 338.0,457.8 338.2,436.1 338.3,458.0 338.5,432.3 338.6,458.2 338.8,435.5 338.9,458.0 339.1,436.1 339.2,458.0 339.4,434.6 339.5,457.3 339.7,429.7 339.8,457.9 340.0,432.7 340.1,457.8 340.3,434.8 340.4,457.2 340.6,435.1 340.7,457.7 340.9,433.7 341.0,457.9 341.2,436.8 341.3,457.2 341.5,432.1 341.6,458.2 341.8,434.2 341.9,456.8 342.1,435.4 342.2,457.6 342.4,436.7 342.5,457.3 342.7,435.7 342.8,457.2 343.0,434.7 343.1,458.5 343.3,435.4 343.4,458.4 343.6,437.2 343.7,457.7 343.9,433.8 344.0,458.4 344.2,436.0 344.3,457.3 344.5,432.1 344.6,457.8 344.8,435.4 344.9,457.5 345.1,436.4 345.2,457.5 345.4,433.1 345.5,459.0 345.7,436.0 345.8,458.8 346.0,435.6 346.1,458.2 346.3,434.4 346.4,457.9 346.6,434.0 346.7,459.3 346.9,432.8 347.0,459.1 347.2,432.8 347.3,458.6 347.5,435.7 347.6,456.9 347.8,433.8 347.9,458.8 348.1,437.0 348.2,458.6 348.4,436.7 348.5,458.0 348.7,433.6 348.8,457.7 349.0,434.1 349.1,457.8 349.3,435.5 349.4,457.7 349.6,433.9 349.7,458.3 349.9,435.1 350.0,458.5 350.2,436.9 350.3,459.2 350.5,434.0 350.6,458.5 350.8,436.9 350.9,458.4 351.1,432.7 351.2,458.5 351.4,433.5 351.5,458.2 351.7,438.8 351.8,459.3 352.0,438.0 352.1,458.1 352.3,434.4 352.4,458.6 352.6,436.0 352.7,458.9 352.9,433.3 353.0,459.6 353.2,433.6 353.3,458.0 353.5,435.5 353.6,459.4 353.8,437.3 353.9,458.1 354.1,437.5 354.2,458.3 354.4,435.9 354.5,458.4 354.7,431.9 354.8,457.7 355.0,434.0 355.1,457.9 355.3,435.3 355.4,458.9 355.6,433.7 355.7,458.5 355.9,434.5 356.0,458.0 356.2,435.4 356.3,458.1 356.5,435.1 356.6,459.4 356.8,435.1 356.9,459.5 357.1,431.1 357.2,458.9 357.4,435.7 357.5,459.4 357.7,433.1 357.8,459.0 358.0,435.4 358.1,459.3 358.3,436.1 358.4,458.5 358.6,430.3 358.7,458.7 358.9,437.4 359.0,458.7 359.2,435.0 359.3,458.3 359.5,437.5 359.6,458.5 359.8,438.8 359.9,459.4 360.1,432.6 360.2,458.8 360.4,437.7 360.5,459.0 360.7,436.1 360.8,460.2 361.0,438.1 361.1,459.1 361.3,435.9 361.4,458.8 361.6,438.3 361.7,459.8 361.9,437.4 362.0,459.3 362.2,434.1 362.3,460.2 362.5,434.9 362.6,460.1 362.8,436.2 362.9,459.7 363.1,434.3 363.2,459.3 363.4,437.3 363.5,459.2 363.7,432.3 363.8,459.5 364.0,437.3 364.1,459.9 364.3,438.3 364.4,459.6 364.6,436.0 364.7,459.9 364.9,434.1 365.0,460.9 365.2,436.3 365.3,460.3 365.5,438.1 365.6,461.0 365.8,435.7 365.9,459.9 366.1,437.6 366.2,459.3 366.4,437.1 366.5,459.8 366.7,435.3 366.8,458.9 367.0,439.3 367.1,459.3 367.3,434.9 367.4,459.8 367.6,430.6 367.7,459.4 367.9,434.2 368.0,460.2 368.2,431.6 368.3,460.2 368.5,436.6 368.6,458.5 368.8,435.8 368.9,459.8 369.1,430.8 369.2,460.3 369.4,437.2 369.5,459.9 369.7,434.0 369.8,460.0 370.0,437.6 370.1,460.6 370.3,437.4 370.4,461.2 370.6,435.7 370.7,460.3 370.9,436.0 371.0,460.6 371.2,436.9 371.3,460.4 371.5,437.4 371.6,459.7 371.8,436.0 371.9,460.1 372.1,438.7 372.2,461.4 372.4,435.7 372.5,460.3 372.7,430.6 372.8,461.5 373.0,435.8 373.1,460.2 373.3,440.6 373.4,460.2 373.6,439.0 373.7,459.6 373.9,438.3 374.0,460.7 374.2,437.9 374.3,460.4 374.5,437.5 374.6,460.2 374.8,438.2 374.9,460.5 375.1,438.3 375.2,461.1 375.4,438.0 375.5,460.1 375.7,436.5 375.8,460.2 376.0,439.0 376.1,460.7 376.3,437.6 376.4,461.2 376.6,438.4 376.7,461.1 376.9,441.1 377.0,460.5 377.2,439.5 377.3,461.8 377.5,438.3 377.6,460.8 377.8,437.5 377.9,460.4 378.1,438.9 378.2,460.7 378.4,439.7 378.5,461.0 378.7,437.7 378.8,460.4 379.0,439.0 379.1,462.2 379.3,436.7 379.4,460.3 379.6,439.5 379.7,461.5 379.9,437.8 380.0,460.6 380.2,434.4 380.3,461.9 380.5,437.2 380.6,462.3 380.8,440.9 380.9,461.4 381.1,439.8 381.2,461.4 381.4,438.7 381.5,460.8 381.7,437.2 381.8,460.9 382.0,440.0 382.1,462.4 382.3,439.2 382.4,462.0 382.6,437.7 382.7,461.7 382.9,440.5 383.0,461.2 383.2,438.5 383.3,461.4 383.5,439.1 383.6,461.8 383.8,436.5 383.9,461.9 384.1,434.3 384.2,461.1 384.4,439.0 384.5,461.6 384.7,439.0 384.8,462.3 385.0,437.5 385.1,461.8 385.3,439.8 385.4,460.5 385.6,436.8 385.7,461.6 385.9,438.6 386.0,461.3 386.2,439.4 386.3,462.5 386.5,438.1 386.6,461.7 386.8,438.2 386.9,462.1 387.1,433.0 387.2,460.9 387.4,436.3 387.5,461.4 387.7,436.9 387.8,461.7 388.0,436.3 388.1,462.5 388.3,434.2 388.4,461.8 388.6,441.1 388.7,461.4 388.9,433.3 389.0,461.4 389.2,437.6 389.3,461.6 389.5,436.1 389.6,461.0 389.8,438.0 389.9,462.7 390.1,437.9 390.2,462.2 390.4,437.6 390.5,462.6 390.7,434.9 390.8,462.2 391.0,436.2 391.1,462.8 391.3,439.0 391.4,462.1 391.6,438.6 391.7,462.2 391.9,441.5 392.0,463.5 392.2,438.0 392.3,461.9 392.5,437.0 392.6,461.5 392.8,438.9 392.9,463.0 393.1,439.6 393.2,463.2 393.4,431.5 393.5,463.0 393.7,440.8 393.8,463.7 394.0,438.2 394.1,462.0 394.3,434.8 394.4,462.7 394.6,436.6 394.7,463.0 394.9,438.6 395.0,462.5 395.2,440.3 395.3,462.2 395.5,438.8 395.6,462.0 395.8,440.5 395.9,462.6 396.1,437.0 396.2,462.1 396.4,440.8 396.5,462.6 396.7,437.0 396.8,462.5 397.0,440.4 397.1,463.1 397.3,436.7 397.4,462.5 397.6,441.2 397.7,463.3 397.9,441.8 398.0,463.0 398.2,437.7 398.3,462.4 398.5,436.6 398.6,462.7 398.8,440.3 398.9,463.3 399.1,437.7 399.2,463.2 399.4,439.6 399.5,463.6 399.7,437.8 399.8,463.2 400.0,441.3 400.1,463.8 400.3,437.8 400.4,463.0 400.6,439.4 400.7,462.9 400.9,441.6 401.0,464.0 401.2,439.6 401.3,462.9 401.5,438.1 401.6,463.6 401.8,436.4 401.9,463.3 402.1,440.7 402.2,463.1 402.4,438.8 402.5,462.8 402.7,438.6 402.8,463.8 403.0,438.9 403.1,462.5 403.3,438.9 403.4,462.8 403.6,437.5 403.7,463.3 403.9,439.0 404.0,464.0 404.2,442.0 404.3,462.7 404.5,440.5 404.6,463.1 404.8,439.1 404.9,463.0 405.1,441.4 405.2,462.7 405.4,442.2 405.5,464.0 405.7,437.2 405.8,463.1 406.0,435.9 406.1,464.2 406.3,440.9 406.4,463.6 406.6,439.6 406.7,464.2 406.9,439.1 407.0,463.7 407.2,440.9 407.3,463.3 407.5,439.6 407.6,464.3 407.8,441.7 407.9,462.5 408.1,436.9 408.2,463.4 408.4,435.4 408.5,462.8 408.7,436.1 408.8,462.9 409.0,440.7 409.1,463.1 409.3,442.6 409.4,463.3 409.6,437.5 409.7,463.0 409.9,441.1 410.0,463.0 410.2,442.2 410.3,464.0 410.5,442.1 410.6,462.3 410.8,441.3 410.9,463.3 411.1,439.7 411.2,463.1 411.4,438.1 411.5,462.5 411.7,442.4 411.8,462.8 412.0,438.9 412.1,462.7 412.3,439.7 412.4,463.5 412.6,439.4 412.7,462.4 412.9,440.0 413.0,464.3 413.2,438.1 413.3,463.0 413.5,439.2 413.6,461.9 413.8,440.0 413.9,462.7 414.1,436.2 414.2,463.1 414.4,438.7 414.5,462.9 414.7,439.5 414.8,462.6 415.0,439.5 415.1,463.4 415.3,437.1 415.4,463.0 415.6,439.1 415.7,463.0 415.9,441.3 416.0,463.6 416.2,438.9 416.3,463.0 416.5,439.0 416.6,463.7 416.8,438.2 416.9,462.7 417.1,441.9 417.2,462.8 417.4,440.2 417.5,463.8 417.7,435.4 417.8,463.0 418.0,438.6 418.1,462.7 418.3,438.3 418.4,463.1 418.6,437.2 418.7,463.4 418.9,440.9 419.0,463.4 419.2,437.2 419.3,463.0 419.5,437.8 419.6,461.7 419.8,441.3 419.9,464.4 420.1,440.5 420.2,462.7 420.4,442.2 420.5,463.4 420.7,441.1 420.8,463.5 421.0,441.9 421.1,463.5 421.3,436.3 421.4,464.5 421.6,438.9 421.7,463.3 421.9,439.7 422.0,463.9 422.2,439.1 422.3,463.2 422.5,441.5 422.6,464.5 422.8,442.1 422.9,463.5 423.1,439.0 423.2,463.0 423.4,436.7 423.5,462.9 423.7,439.1 423.8,462.6 424.0,437.6 424.1,463.0 424.3,438.3 424.4,463.3 424.6,439.6 424.7,463.4 424.9,439.4 425.0,464.2 425.2,438.6 425.3,463.1 425.5,439.6 425.6,464.4 425.8,438.7 425.9,464.4 426.1,439.8 426.2,463.2 426.4,441.5 426.5,462.2 426.7,440.6 426.8,463.0 427.0,438.1 427.1,463.3 427.3,439.2 427.4,462.9 427.6,442.8 427.7,463.4 427.9,436.6 428.0,464.7 428.2,440.8 428.3,463.4 428.5,436.0 428.6,463.1 428.8,439.0 428.9,462.9 429.1,438.2 429.2,463.8 429.4,440.4 429.5,463.7 429.7,438.4 429.8,463.3 430.0,439.9 430.1,464.4 430.3,439.8 430.4,463.8 430.6,440.0 430.7,464.3 430.9,439.4 431.0,464.2 431.2,436.4 431.3,463.2 431.5,436.8 431.6,463.5 431.8,436.8 431.9,463.3 432.1,440.1 432.2,464.5 432.4,439.0 432.5,463.4 432.7,440.1 432.8,462.7 433.0,439.9 433.1,463.9 433.3,439.2 433.4,463.7 433.6,441.1 433.7,464.2 433.9,436.7 434.0,463.2 434.2,439.4 434.3,463.6 434.5,434.6 434.6,463.9 434.8,440.2 434.9,463.7 435.1,437.4 435.2,464.0 435.4,440.0 435.5,463.6 435.7,440.3 435.8,464.2 436.0,437.0 436.1,465.0 436.3,436.8 436.4,463.6 436.6,438.4 436.7,464.2 436.9,440.5 437.0,463.8 437.2,441.7 437.3,463.6 437.5,441.1 437.6,464.7 437.8,440.8 437.9,464.2 438.1,436.7 438.2,464.5 438.4,440.8 438.5,463.7 438.7,438.9 438.8,464.8 439.0,439.9 439.1,463.5 439.3,439.3 439.4,463.6 439.6,440.6 439.7,463.7 439.9,439.0 440.0,464.3 440.2,442.9 440.3,463.5 440.5,438.5 440.6,464.3 440.8,437.9 440.9,464.1 441.1,440.5 441.2,464.1 441.4,438.8 441.5,465.1 441.7,438.8 441.8,464.3 442.0,441.1 442.1,463.4 442.3,434.3 442.4,463.4 442.6,439.0 442.7,464.3 442.9,436.1 443.0,463.0 443.2,441.7 443.3,463.8 443.5,439.6 443.6,464.2 443.8,441.2 443.9,463.3 444.1,440.0 444.2,464.2 444.4,439.9 444.5,463.7 444.7,436.4 444.8,463.8 445.0,440.3 445.1,463.4 445.3,438.7 445.4,464.0 445.6,441.2 445.7,464.1 445.9,441.4 446.0,463.3 446.2,438.3 446.3,463.6 446.5,437.6 446.6,463.8 446.8,435.9 446.9,463.5 447.1,441.1 447.2,464.7 447.4,438.3 447.5,463.3 447.7,438.2 447.8,463.7 448.0,441.4 448.1,463.7 448.3,441.5 448.4,464.0 448.6,437.9 448.7,463.7 448.9,439.4 449.0,463.1 449.2,439.3 449.3,462.9 449.5,434.8 449.6,463.0 449.8,435.1 449.9,463.1 450.1,438.5 450.2,463.3 450.4,441.0 450.5,463.4 450.7,440.1 450.8,463.7 451.0,439.6 451.1,463.6 451.3,437.4 451.4,464.2 451.6,439.3 451.7,463.6 451.9,441.4 452.0,463.8 452.2,441.4 452.3,464.7 452.5,440.1 452.6,464.0 452.8,439.4 452.9,463.6 453.1,438.8 453.2,463.3 453.4,441.2 453.5,463.3 453.7,438.6 453.8,463.5 454.0,439.0 454.1,463.6 454.3,440.3 454.4,463.9 454.6,437.7 454.7,463.3 454.9,439.0 455.0,463.4 455.2,440.7 455.3,463.5 455.5,440.3 455.6,463.4 455.8,438.2 455.9,463.9 456.1,441.9 456.2,463.5 456.4,440.8 456.5,463.4 456.7,441.7 456.8,463.4 457.0,436.8 457.1,463.7 457.3,432.3 457.4,464.6 457.6,437.4 457.7,464.5 457.9,439.6 458.0,463.8 458.2,435.9 458.3,464.1 458.5,439.2 458.6,463.5 458.8,438.3 458.9,463.7 459.1,436.2 459.2,464.1 459.4,435.3 459.5,464.2 459.7,442.7 459.8,464.1 460.0,441.7 460.1,464.4 460.3,441.5 460.4,463.7 460.6,440.8 460.7,464.1 460.9,439.9 461.0,462.9 461.2,440.6 461.3,464.2 461.5,440.0 461.6,465.0 461.8,439.5 461.9,463.9 462.1,440.0 462.2,464.5 462.4,442.8 462.5,464.6 462.7,436.8 462.8,464.2 463.0,441.9 463.1,465.5 463.3,439.0 463.4,464.0 463.6,437.4 463.7,464.4 463.9,442.2 464.0,463.9 464.2,441.7 464.3,464.6 464.5,440.8 464.6,464.3 464.8,436.1 464.9,465.2 465.1,442.1 465.2,465.2 465.4,438.3 465.5,464.3 465.7,442.7 465.8,464.3 466.0,435.9 466.1,464.9 466.3,438.9 466.4,464.9 466.6,440.1 466.7,465.1 466.9,440.7 467.0,466.0 467.2,440.8 467.3,465.0 467.5,440.2 467.6,464.4 467.8,438.7 467.9,464.9 468.1,436.6 468.2,465.9 468.4,440.9 468.5,465.3 468.7,443.6 468.8,464.9 469.0,443.2 469.1,464.7 469.3,438.9 469.4,464.9 469.6,443.4 469.7,465.4 469.9,437.6 470.0,465.0 470.2,439.2 470.3,465.0 470.5,443.2 470.6,465.6 470.8,442.8 470.9,466.1 471.1,441.1 471.2,464.8 471.4,439.9 471.5,464.9 471.7,440.4 471.8,466.0 472.0,438.4 472.1,465.3 472.3,441.1 472.4,464.8 472.6,442.2 472.7,466.0 472.9,441.9 473.0,465.5 473.2,441.6 473.3,465.0 473.5,441.5 473.6,466.2 473.8,440.3 473.9,466.2 474.1,438.3 474.2,465.4 474.4,442.6 474.5,465.7 474.7,445.4 474.8,466.4 475.0,441.7 475.1,464.9 475.3,444.2 475.4,466.0 475.6,443.2 475.7,465.7 475.9,444.0 476.0,466.8 476.2,440.6 476.3,466.3 476.5,440.8 476.6,465.3 476.8,439.8 476.9,465.9 477.1,434.0 477.2,465.7 477.4,440.5 477.5,465.8 477.7,435.7 477.8,465.6 478.0,444.6 478.1,465.8 478.3,436.5 478.4,464.5 478.6,440.4 478.7,465.5 478.9,442.9 479.0,466.2 479.2,442.1 479.3,466.0 479.5,441.9 479.6,466.4 479.8,445.7 479.9,466.7 480.1,440.1 480.2,466.1 480.4,445.3 480.5,465.6 480.7,442.9 480.8,465.8 481.0,439.1 481.1,465.7 481.3,438.0 481.4,465.9 481.6,441.9 481.7,464.9 481.9,438.6 482.0,464.8 482.2,437.5 482.3,466.0 482.5,441.1 482.6,465.6 482.8,439.2 482.9,465.5 483.1,439.4 483.2,465.3 483.4,439.8 483.5,465.9 483.7,438.4 483.8,465.0 484.0,440.3 484.1,465.5 484.3,444.9 484.4,465.1 484.6,443.9 484.7,464.9 484.9,444.4 485.0,465.5 485.2,439.6 485.3,465.2 485.5,442.7 485.6,465.7 485.8,443.0 485.9,465.5 486.1,438.6 486.2,465.2 486.4,438.0 486.5,465.8 486.7,443.4 486.8,466.5 487.0,437.4 487.1,465.2 487.3,439.8 487.4,465.7 487.6,438.8 487.7,465.3 487.9,436.7 488.0,465.0 488.2,441.9 488.3,466.3 488.5,438.6 488.6,465.2 488.8,441.5 488.9,465.4 489.1,439.9 489.2,465.1 489.4,442.3 489.5,464.9 489.7,443.0 489.8,465.6 490.0,442.9 490.1,464.9 490.3,440.0 490.4,465.6 490.6,441.9 490.7,466.4 490.9,439.7 491.0,465.6 491.2,439.6 491.3,465.4 491.5,440.8 491.6,466.6 491.8,436.4 491.9,465.3 492.1,435.6 492.2,465.1 492.4,440.6 492.5,466.2 492.7,439.5 492.8,465.0 493.0,442.5 493.1,466.4 493.3,442.5 493.4,464.5 493.6,440.0 493.7,465.3 493.9,441.7 494.0,465.9 494.2,439.2 494.3,466.5 494.5,439.3 494.6,465.9 494.8,437.8 494.9,465.2 495.1,441.2 495.2,465.3 495.4,439.2 495.5,466.2 495.7,437.8 495.8,465.9 496.0,442.4 496.1,465.6 496.3,442.1 496.4,466.5 496.6,441.4 496.7,465.8 496.9,441.2 497.0,465.8 497.2,441.3 497.3,465.5 497.5,440.4 497.6,465.6 497.8,441.7 497.9,466.0 498.1,442.5 498.2,464.8 498.4,437.8 498.5,465.6 498.7,440.2 498.8,465.3 499.0,441.4 499.1,466.3 499.3,437.5 499.4,466.5 499.6,442.3 499.7,464.7 499.9,440.7 500.0,465.4 500.2,440.8 500.3,466.7 500.5,439.8 500.6,464.8 500.8,441.4 500.9,466.2 501.1,437.1 501.2,465.5 501.4,437.8 501.5,465.4 501.7,442.6 501.8,465.3 502.0,437.3 502.1,465.2 502.3,439.0 502.4,466.3 502.6,437.4 502.7,465.9 502.9,435.2 503.0,465.2 503.2,438.8 503.3,465.0 503.5,439.2 503.6,465.1 503.8,439.0 503.9,465.2 504.1,443.5 504.2,466.1 504.4,438.6 504.5,466.1 504.7,443.1 504.8,465.5 505.0,442.0 505.1,465.9 505.3,443.2 505.4,465.3 505.6,441.9 505.7,465.5 505.9,442.1 506.0,466.6 506.2,440.3 506.3,465.9 506.5,443.1 506.6,465.9 506.8,442.5 506.9,465.7 507.1,442.0 507.2,465.7 507.4,441.2 507.5,465.5 507.7,439.9 507.8,466.3 508.0,441.5 508.1,466.5 508.3,443.3 508.4,465.7 508.6,440.5 508.7,465.6 508.9,442.2 509.0,465.8 509.2,441.5 509.3,466.0 509.5,439.9 509.6,466.1 509.8,441.7 509.9,465.3 510.1,442.2 510.2,466.1 510.4,439.0 510.5,465.6 510.7,443.8 510.8,465.2 511.0,441.9 511.1,465.3 511.3,443.9 511.4,465.6 511.6,440.8 511.7,465.5 511.9,438.9 512.0,465.1 512.2,442.5 512.3,465.4 512.5,441.5 512.6,466.2 512.8,439.2 512.9,466.3 513.1,442.8 513.2,466.3 513.4,439.5 513.5,464.9 513.7,440.6 513.8,465.2 514.0,445.5 514.1,465.0 514.3,439.8 514.4,465.2 514.6,440.8 514.7,465.5 514.9,440.2 515.0,464.9 515.2,442.7 515.3,465.8 515.5,435.8 515.6,465.0 515.8,440.3 515.9,464.6 516.1,441.8 516.2,466.2 516.4,440.9 516.5,465.4 516.7,442.6 516.8,464.2 517.0,439.1 517.1,465.8 517.3,436.9 517.4,465.4 517.6,437.9 517.7,465.7 517.9,440.8 518.0,465.7 518.2,439.6 518.3,465.2 518.5,439.0 518.6,465.5 518.8,442.1 518.9,466.0 519.1,444.2 519.2,465.4 519.4,441.2 519.5,465.2 519.7,440.3 519.8,465.7 520.0,441.6 520.1,465.8 520.3,440.1 520.4,465.2 520.6,438.3 520.7,465.0 520.9,440.4 521.0,465.2 521.2,442.4 521.3,464.6 521.5,440.9 521.6,465.7 521.8,436.0 521.9,465.1 522.1,443.6 522.2,465.5 522.4,441.8 522.5,466.1 522.7,441.2 522.8,465.8 523.0,442.6 523.1,466.4 523.3,441.9 523.4,466.4 523.6,444.4 523.7,466.0 523.9,444.8 524.0,465.8 524.2,442.7 524.3,464.5 524.5,440.8 524.6,465.1 524.8,443.8 524.9,465.2 525.1,440.0 525.2,466.8 525.4,442.0 525.5,464.8 525.7,439.1 525.8,465.5 526.0,443.2 526.1,465.2 526.3,442.0 526.4,465.7 526.6,441.7 526.7,466.1 526.9,439.4 527.0,465.5 527.2,438.3 527.3,465.7 527.5,442.2 527.6,466.0 527.8,444.2 527.9,466.0 528.1,441.8 528.2,465.5 528.4,441.8 528.5,465.8 528.7,441.5 528.8,465.6 529.0,443.4 529.1,466.3 529.3,438.2 529.4,465.5 529.6,438.5 529.7,466.4 529.9,441.2 530.0,465.5 530.2,441.1 530.3,466.6 530.5,443.9 530.6,466.3 530.8,439.6 530.9,466.4 531.1,440.4 531.2,465.7 531.4,442.2 531.5,465.9 531.7,439.5 531.8,466.3 532.0,439.0 532.1,466.4 532.3,439.4 532.4,465.8 532.6,443.9 532.7,465.5 532.9,442.1 533.0,466.0 533.2,441.3 533.3,466.5 533.5,438.8 533.6,466.2 533.8,439.0 533.9,465.6 534.1,445.3 534.2,466.1 534.4,441.7 534.5,466.7 534.7,440.7 534.8,467.4 535.0,444.0 535.1,466.4 535.3,440.6 535.4,465.8 535.6,442.3 535.7,467.0 535.9,439.0 536.0,466.6 536.2,444.2 536.3,466.4 536.5,438.2 536.6,466.8 536.8,440.8 536.9,466.9 537.1,438.9 537.2,466.3 537.4,442.0 537.5,466.5 537.7,444.7 537.8,466.7 538.0,440.3 538.1,466.9 538.3,440.6 538.4,466.2 538.6,441.4 538.7,467.7 538.9,443.5 539.0,466.7 539.2,441.1 539.3,465.8 539.5,443.4 539.6,466.8 539.8,443.2 539.9,467.7 540.1,443.1 540.2,466.3 540.4,444.6 540.5,466.6 540.7,443.3 540.8,466.8 541.0,440.8 541.1,466.3 541.3,442.9 541.4,465.8 541.6,442.3 541.7,466.5 541.9,436.7 542.0,467.2 542.2,442.1 542.3,465.7 542.5,442.0 542.6,467.6 542.8,444.8 542.9,467.2 543.1,441.0 543.2,467.1 543.4,443.4 543.5,466.8 543.7,442.5 543.8,467.1 544.0,443.4 544.1,466.4 544.3,439.3 544.4,466.9 544.6,443.4 544.7,467.0 544.9,443.7 545.0,467.0 545.2,444.6 545.3,467.1 545.5,443.2 545.6,467.4 545.8,445.2 545.9,467.0 546.1,442.7 546.2,466.1 546.4,440.2 546.5,466.5 546.7,441.4 546.8,467.8 547.0,441.3 547.1,466.8 547.3,444.0 547.4,466.2 547.6,442.4 547.7,466.7 547.9,440.9 548.0,466.7 548.2,439.9 548.3,467.8 548.5,442.7 548.6,466.5 548.8,442.4 548.9,466.6 549.1,443.2 549.2,466.7 549.4,440.8 549.5,467.4 549.7,437.4 549.8,466.1 550.0,444.3 550.1,467.0 550.3,446.4 550.4,466.3 550.6,443.5 550.7,467.3 550.9,441.1 551.0,465.8 551.2,442.4 551.3,466.3 551.5,441.4 551.6,466.4 551.8,442.7 551.9,466.4 552.1,439.6 552.2,466.1 552.4,439.1 552.5,467.0 552.7,443.3 552.8,466.7 553.0,443.6 553.1,466.5 553.3,439.5 553.4,467.0 553.6,441.8 553.7,466.4 553.9,440.2 554.0,466.5 554.2,441.2 554.3,466.5 554.5,445.2 554.6,466.0 554.8,440.9 554.9,466.5 555.1,442.6 555.2,467.0 555.4,439.7 555.5,466.8 555.7,440.3 555.8,466.9 556.0,442.8 556.1,466.8 556.3,439.0 556.4,466.0 556.6,442.4 556.7,467.4 556.9,442.2 557.0,466.8 557.2,444.8 557.3,467.6 557.5,443.2 557.6,466.8 557.8,440.5 557.9,466.9 558.1,438.0 558.2,466.7 558.4,442.9 558.5,467.1 558.7,438.5 558.8,465.9 559.0,445.0 559.1,466.9 559.3,442.2 559.4,466.6 559.6,440.8 559.7,466.1 559.9,444.6 560.0,466.2 560.2,435.8 560.3,466.2 560.5,438.4 560.6,467.7 560.8,437.7 560.9,467.2 561.1,441.3 561.2,467.0 561.4,437.4 561.5,466.9 561.7,443.3 561.8,466.7 562.0,445.8 562.1,466.5 562.3,443.0 562.4,466.3 562.6,441.6 562.7,466.4 562.9,443.4 563.0,466.4 563.2,443.1 563.3,466.6 563.5,440.4 563.6,466.2 563.8,439.0 563.9,466.3 564.1,439.0 564.2,465.8 564.4,443.2 564.5,467.0 564.7,441.3 564.8,466.3 565.0,443.3 565.1,467.2 565.3,440.3 565.4,466.5 565.6,442.4 565.7,466.9 565.9,444.7 566.0,467.1 566.2,440.2 566.3,467.6 566.5,441.0 566.6,465.8 566.8,442.3 566.9,466.9 567.1,444.5 567.2,466.6 567.4,442.5 567.5,466.8 567.7,440.0 567.8,466.6 568.0,441.6 568.1,466.3 568.3,436.0 568.4,466.6 568.6,442.1 568.7,467.4 568.9,440.5 569.0,467.8 569.2,442.1 569.3,466.0 569.5,440.9 569.6,467.1 569.8,443.1 569.9,466.7 570.1,440.0 570.2,467.2 570.4,441.6 570.5,466.2 570.7,443.4 570.8,467.0 571.0,443.1 571.1,466.9 571.3,441.4 571.4,466.7 571.6,438.7 571.7,467.9 571.9,438.6 572.0,467.9 572.2,443.2 572.3,466.1 572.5,440.7 572.6,466.5 572.8,442.1 572.9,466.3 573.1,442.5 573.2,467.1 573.4,441.8 573.5,467.9 573.7,442.7 573.8,466.4 574.0,444.8 574.1,467.2 574.3,443.6 574.4,466.1 574.6,439.6 574.7,467.2 574.9,440.3 575.0,466.7 575.2,439.7 575.3,466.9 575.5,441.4 575.6,466.9 575.8,436.3 575.9,467.2 576.1,441.5 576.2,466.8 576.4,444.2 576.5,467.8 576.7,444.7 576.8,468.1 577.0,441.2 577.1,466.6 577.3,442.5 577.4,467.1 577.6,442.6 577.7,467.0 577.9,441.4 578.0,467.2 578.2,444.8 578.3,466.6 578.5,442.5 578.6,468.1 578.8,442.4 578.9,466.4 579.1,443.6 579.2,466.3 579.4,446.0 579.5,467.9 579.7,442.0 579.8,467.6 580.0,442.8 580.1,467.1 580.3,441.3 580.4,467.2 580.6,444.5 580.7,466.4 580.9,447.8 581.0,467.2 581.2,443.5 581.3,466.9 581.5,441.5 581.6,466.4 581.8,441.6 581.9,467.3 582.1,444.4 582.2,467.9 582.4,441.0 582.5,467.0 582.7,440.9 582.8,467.3 583.0,443.3 583.1,467.5 583.3,440.3 583.4,466.3 583.6,441.1 583.7,466.7 583.9,444.4 584.0,467.2 584.2,439.9 584.3,467.4 584.5,442.8 584.6,467.0 584.8,442.8 584.9,467.5 585.1,436.7 585.2,466.8 585.4,443.0 585.5,467.0 585.7,444.3 585.8,466.7 586.0,445.6 586.1,466.2 586.3,441.2 586.4,467.1 586.6,441.6 586.7,467.5 586.9,441.1 587.0,467.3 587.2,440.9 587.3,467.2 587.5,442.7 587.6,466.8 587.8,441.0 587.9,466.3 588.1,443.9 588.2,466.2 588.4,441.8 588.5,467.1 588.7,442.4 588.8,465.9 589.0,436.6 589.1,467.9 589.3,445.3 589.4,466.7 589.6,443.7 589.7,467.3 589.9,439.4 590.0,467.4 590.2,440.9 590.3,466.8 590.5,444.9 590.6,466.9 590.8,444.0 590.9,466.3 591.1,443.0 591.2,467.2 591.4,436.5 591.5,467.8 591.7,443.7 591.8,466.6 592.0,441.4 592.1,466.9 592.3,443.6 592.4,466.5 592.6,439.1 592.7,467.0 592.9,443.1 593.0,466.4 593.2,446.2 593.3,466.9 593.5,439.3 593.6,466.9 593.8,445.9 593.9,467.2 594.1,441.3 594.2,466.2 594.4,444.5 594.5,467.4 594.7,439.4 594.8,466.6 595.0,442.1 595.1,466.9 595.3,444.9 595.4,466.9 595.6,442.9 595.7,467.3 595.9,439.3 596.0,467.7 596.2,444.3 596.3,467.0 596.5,437.0 596.6,466.3 596.8,441.0 596.9,466.8 597.1,440.0 597.2,466.7 597.4,440.8 597.5,467.7 597.7,441.8 597.8,467.1 598.0,442.3 598.1,467.8 598.3,437.3 598.4,467.6 598.6,443.1 598.7,466.3 598.9,442.0 599.0,466.4 599.2,439.6 599.3,467.1 599.5,439.6 599.6,466.6 599.8,435.6 599.9,466.9 600.1,439.5 600.2,467.4 600.4,443.7 600.5,466.6 600.7,443.9 600.8,467.7 601.0,442.7 601.1,466.6 601.3,442.3 601.4,466.5 601.6,446.1 601.7,466.7 601.9,439.9 602.0,466.2 602.2,441.9 602.3,466.9 602.5,439.9 602.6,467.1 602.8,443.7 602.9,467.3 603.1,437.8 603.2,466.8 603.4,442.0 603.5,466.6 603.7,445.6 603.8,467.1 604.0,436.1 604.1,466.5 604.3,443.8 604.4,467.1 604.6,441.7 604.7,466.9 604.9,442.2 605.0,467.2 605.2,441.3 605.3,466.7 605.5,441.2 605.6,467.2 605.8,442.2 605.9,467.6 606.1,443.9 606.2,467.3 606.4,438.6 606.5,467.7 606.7,442.3 606.8,466.6 607.0,442.2 607.1,467.0 607.3,441.4 607.4,468.0 607.6,444.7 607.7,467.0 607.9,445.9 608.0,466.5 608.2,443.9 608.3,466.9 608.5,443.9 608.6,467.1 608.8,445.1 608.9,467.0 609.1,447.6 609.2,467.5 609.4,442.0 609.5,466.8 609.7,440.3 609.8,467.0 610.0,444.8 610.1,467.6 610.3,443.0 610.4,466.6 610.6,444.5 610.7,466.9 610.9,434.6 611.0,466.7 611.2,442.0 611.3,466.5 611.5,439.3 611.6,466.8 611.8,443.7 611.9,467.7 612.1,444.3 612.2,467.1 612.4,443.4 612.5,466.8 612.7,442.5 612.8,466.9 613.0,443.6 613.1,466.7 613.3,440.0 613.4,466.9 613.6,442.6 613.7,466.9 613.9,445.4 614.0,466.7 614.2,442.8 614.3,466.9 614.5,441.5 614.6,466.9 614.8,444.1 614.9,467.3 615.1,440.7 615.2,467.2 615.4,441.8 615.5,466.4 615.7,442.1 615.8,467.4 616.0,442.5 616.1,467.6 616.3,440.7 616.4,467.3 616.6,439.5 616.7,467.6 616.9,443.0 617.0,467.1 617.2,444.3 617.3,466.5 617.5,444.7 617.6,466.3 617.8,440.2 617.9,467.8 618.1,443.8 618.2,466.9 618.4,445.1 618.5,467.9 618.7,441.8 618.8,466.6 619.0,443.7 619.1,467.1 619.3,442.5 619.4,466.8 619.6,444.7 619.7,467.4 619.9,443.0 620.0,466.8 620.2,442.8 620.3,467.3 620.5,441.7 620.6,467.1 620.8,444.3 620.9,467.2 621.1,443.4 621.2,466.5 621.4,440.9 621.5,466.7 621.7,442.4 621.8,467.4 622.0,444.1 622.1,467.3 622.3,441.0 622.4,467.4 622.6,443.0 622.7,467.5 622.9,441.8 623.0,466.7 623.2,439.5 623.3,467.2 623.5,442.5 623.6,467.2 623.8,442.6 623.9,466.2 624.1,443.3 624.2,466.5 624.4,441.5 624.5,467.7 624.7,443.8 624.8,466.5 625.0,444.2 625.1,467.1 625.3,444.3 625.4,467.5 625.6,441.3 625.7,466.7 625.9,440.8 626.0,466.6 626.2,441.4 626.3,466.3 626.5,442.9 626.6,467.1 626.8,441.8 626.9,467.1 627.1,444.2 627.2,467.3 627.4,441.7 627.5,467.4 627.7,441.0 627.8,466.9 628.0,444.3 628.1,465.9 628.3,439.5 628.4,466.9 628.6,442.5 628.7,466.1 628.9,442.4 629.0,467.3 629.2,443.6 629.3,466.9 629.5,441.8 629.6,467.4 629.8,440.8 629.9,466.8 630.1,440.0 630.2,467.4 630.4,445.0 630.5,467.8 630.7,442.3 630.8,467.5 631.0,437.5 631.1,466.4 631.3,443.8 631.4,466.5 631.6,444.3 631.7,466.9 631.9,441.4 632.0,467.3 632.2,443.9 632.3,467.3 632.5,441.6 632.6,466.9 632.8,438.8 632.9,466.6 633.1,440.7 633.2,466.0 633.4,439.8 633.5,467.1 633.7,443.0 633.8,466.2 634.0,441.0 634.1,466.9 634.3,443.2 634.4,466.7 634.6,437.1 634.7,466.7 634.9,441.3 635.0,468.0 635.2,439.0 635.3,467.8 635.5,439.8 635.6,467.6 635.8,442.4 635.9,467.3 636.1,441.1 636.2,467.1 636.4,441.4 636.5,467.1 636.7,439.6 636.8,466.2 637.0,442.2 637.1,466.8 637.3,440.7 637.4,466.8 637.6,445.2 637.7,467.3 637.9,443.0 638.0,466.3 638.2,443.5 638.3,466.2 638.5,439.0 638.6,466.8 638.8,443.5 638.9,465.8 639.1,444.4 639.2,466.8 639.4,440.7 639.5,466.8 639.7,442.2 639.8,467.2 640.0,437.8 640.1,467.2 640.3,439.9 640.4,467.2 640.6,441.6 640.7,466.7 640.9,441.8 641.0,466.9 641.2,442.6 641.3,467.0 641.5,444.3 641.6,467.3 641.8,444.6 641.9,466.7 642.1,439.7 642.2,467.3 642.4,441.7 642.5,467.7 642.7,440.3 642.8,468.1 643.0,445.4 643.1,467.2 643.3,440.1 643.4,467.0 643.6,437.2 643.7,466.9 643.9,439.6 644.0,467.1 644.2,441.7 644.3,467.0 644.5,442.6 644.6,466.4 644.8,437.9 644.9,466.6 645.1,441.7 645.2,467.0 645.4,437.9 645.5,467.6 645.7,444.8 645.8,467.6 646.0,441.7 646.1,467.3 646.3,441.8 646.4,467.0 646.6,443.7 646.7,467.4 646.9,443.7 647.0,466.7 647.2,441.8 647.3,467.4 647.5,444.4 647.6,466.8 647.8,443.0 647.9,466.8 648.1,442.1 648.2,467.9 648.4,443.7 648.5,467.2 648.7,435.7 648.8,466.8 649.0,441.9 649.1,467.9 649.3,439.9 649.4,467.6 649.6,440.5 649.7,466.7 649.9,441.0 650.0,467.1 650.2,444.6 650.3,466.7 650.5,443.0 650.6,467.2 650.8,443.7 650.9,468.1 651.1,444.0 651.2,466.7 651.4,444.3 651.5,468.1 651.7,443.8 651.8,466.7 652.0,441.7 652.1,467.5 652.3,443.9 652.4,467.0 652.6,443.0 652.7,467.1 652.9,442.4 653.0,467.0 653.2,439.1 653.3,467.7 653.5,441.2 653.6,467.2 653.8,440.6 653.9,467.5 654.1,441.3 654.2,468.0 654.4,444.3 654.5,467.8 654.7,444.9 654.8,467.1 655.0,443.3 655.1,468.1 655.3,442.6 655.4,466.6 655.6,443.3 655.7,467.1 655.9,445.4 656.0,468.0 656.2,442.1 656.3,467.2 656.5,443.6 656.6,467.3 656.8,443.5 656.9,467.2 657.1,446.1 657.2,467.5 657.4,442.5 657.5,467.8 657.7,441.7 657.8,467.3 658.0,445.6 658.1,468.2 658.3,441.3 658.4,467.9 658.6,445.6 658.7,467.4 658.9,444.7 659.0,467.0 659.2,443.9 659.3,467.3 659.5,443.5 659.6,467.7 659.8,441.6 659.9,467.3 660.1,441.3 660.2,467.9 660.4,442.6 660.5,467.6 660.7,446.0 660.8,468.3 661.0,439.5 661.1,467.3 661.3,441.2 661.4,467.6 661.6,435.9 661.7,467.3 661.9,443.7 662.0,467.8 662.2,442.1 662.3,467.8 662.5,443.6 662.6,467.6 662.8,441.8 662.9,468.5 663.1,445.2 663.2,467.1 663.4,439.9 663.5,467.8 663.7,445.0 663.8,467.7 664.0,441.5 664.1,467.9 664.3,444.2 664.4,467.0 664.6,437.8 664.7,468.2 664.9,444.1 665.0,468.7 665.2,444.2 665.3,467.9 665.5,443.2 665.6,467.9 665.8,441.2 665.9,467.5 666.1,441.7 666.2,468.0 666.4,444.2 666.5,467.7 666.7,442.6 666.8,468.3 667.0,442.6 667.1,467.7 667.3,441.1 667.4,467.2 667.6,443.9 667.7,467.8 667.9,438.6 668.0,468.4 668.2,441.6 668.3,468.5 668.5,446.3 668.6,468.3 668.8,443.6 668.9,467.4 669.1,445.2 669.2,467.8 669.4,442.7 669.5,468.0 669.7,441.9 669.8,467.3 670.0,437.6 670.1,468.2 670.3,444.5 670.4,468.1 670.6,443.1 670.7,468.4 670.9,442.7 671.0,468.0 671.2,438.6 671.3,467.6 671.5,444.5 671.6,467.7 671.8,444.1 671.9,467.5 672.1,442.8 672.2,468.6 672.4,447.0 672.5,468.8 672.7,444.5 672.8,467.8 673.0,443.1 673.1,467.5 673.3,442.3 673.4,467.3 673.6,445.5 673.7,467.7 673.9,440.0 674.0,467.9 674.2,440.1 674.3,467.7 674.5,441.0 674.6,467.0 674.8,443.6 674.9,467.4 675.1,443.6 675.2,468.8 675.4,444.8 675.5,467.8 675.7,444.4 675.8,467.5 676.0,444.6 676.1,468.6 676.3,441.7 676.4,468.6 676.6,442.0 676.7,467.8 676.9,443.4 677.0,468.3 677.2,448.5 677.3,467.8 677.5,443.5 677.6,467.5 677.8,448.2 677.9,468.4 678.1,435.9 678.2,468.0 678.4,442.2 678.5,467.3 678.7,442.6 678.8,467.3 679.0,444.5 679.1,467.5 679.3,443.6 679.4,468.0 679.6,440.6 679.7,468.1 679.9,442.6 680.0,467.6 680.2,438.3 680.3,468.7 680.5,441.2 680.6,468.0 680.8,442.3 680.9,467.2 681.1,440.4 681.2,468.3 681.4,443.3 681.5,466.7 681.7,444.5 681.8,468.0 682.0,443.2 682.1,467.9 682.3,441.7 682.4,467.4 682.6,443.7 682.7,466.8 682.9,441.3 683.0,467.2 683.2,442.7 683.3,467.7 683.5,444.7 683.6,468.2 683.8,446.1 683.9,467.7 684.1,444.2 684.2,467.6 684.4,443.4 684.5,467.5 684.7,439.0 684.8,466.9 685.0,442.2 685.1,467.9 685.3,444.3 685.4,468.8 685.6,440.0 685.7,467.7 685.9,446.0 686.0,467.2 686.2,436.2 686.3,466.8 686.5,441.3 686.6,467.8 686.8,443.8 686.9,467.2 687.1,443.1 687.2,467.8 687.4,443.9 687.5,468.9 687.7,444.6 687.8,468.3 688.0,447.0 688.1,468.9 688.3,443.9 688.4,468.3 688.6,444.0 688.7,467.9 688.9,443.5 689.0,468.0 689.2,441.2 689.3,467.6 689.5,443.8 689.6,467.6 689.8,444.2 689.9,468.7 690.1,443.9 690.2,466.9 690.4,444.6 690.5,467.9 690.7,443.9 690.8,467.1 691.0,438.1 691.1,468.0 691.3,439.4 691.4,467.1 691.6,446.2 691.7,467.6 691.9,445.5 692.0,468.8 692.2,440.4 692.3,467.7 692.5,448.7 692.6,468.0 692.8,445.6 692.9,468.6 693.1,446.1 693.2,467.7 693.4,444.4 693.5,468.3 693.7,444.9 693.8,467.7 694.0,443.6 694.1,467.7 694.3,441.3 694.4,467.6 694.6,440.3 694.7,467.4 694.9,444.7 695.0,467.2 695.2,435.4 695.3,468.2 695.5,443.0 695.6,468.9 695.8,444.6 695.9,468.1 696.1,444.5 696.2,467.5 696.4,445.1 696.5,467.5 696.7,444.3 696.8,467.2 697.0,443.7 697.1,468.5 697.3,441.1 697.4,468.0 697.6,439.5 697.7,467.9 697.9,443.6 698.0,467.0 698.2,443.6 698.3,467.8 698.5,447.3 698.6,467.6 698.8,443.9 698.9,468.4 699.1,443.7 699.2,468.3 699.4,441.6 699.5,468.1 699.7,445.3 699.8,468.1 700.0,444.1 700.1,467.5 700.3,444.2 700.4,467.2 700.6,442.8 700.7,468.1 700.9,442.7 701.0,468.2 701.2,442.2 701.3,467.7 701.5,443.3 701.6,467.2 701.8,444.7 701.9,468.4 702.1,444.1 702.2,468.2 702.4,442.3 702.5,468.0 702.7,443.2 702.8,467.2 703.0,442.6 703.1,468.0 703.3,441.7 703.4,468.6 703.6,447.4 703.7,467.8 703.9,445.8 704.0,467.5 704.2,440.0 704.3,467.5 704.5,436.7 704.6,467.3 704.8,443.3 704.9,468.4 705.1,445.9 705.2,468.3 705.4,442.8 705.5,468.1 705.7,442.7 705.8,467.5 706.0,441.6 706.1,467.4 706.3,442.6 706.4,468.2 706.6,442.3 706.7,468.2 706.9,446.9 707.0,468.6 707.2,441.8 707.3,467.8 707.5,441.8 707.6,467.6 707.8,441.8 707.9,468.0 708.1,444.5 708.2,468.3 708.4,443.6 708.5,467.8 708.7,439.1 708.8,468.6 709.0,443.6 709.1,467.3 709.3,442.3 709.4,468.0 709.6,444.5 709.7,468.0 709.9,442.6 710.0,467.3 710.2,444.7 710.3,468.6 710.5,443.4 710.6,466.9 710.8,444.9 710.9,468.3 711.1,444.7 711.2,468.4 711.4,439.1 711.5,468.4 711.7,442.7 711.8,468.1 712.0,446.7 712.1,468.3 712.3,444.2 712.4,467.6 712.6,445.8 712.7,468.2 712.9,446.9 713.0,468.2 713.2,444.6 713.3,468.6 713.5,442.4 713.6,467.3 713.8,445.6 713.9,467.4 714.1,443.9 714.2,469.1 714.4,444.6 714.5,468.4 714.7,442.9 714.8,467.7 715.0,444.3 715.1,467.5 715.3,444.1 715.4,469.1 715.6,445.7 715.7,468.0 715.9,442.7 716.0,467.8 716.2,443.6 716.3,467.6 716.5,444.7 716.6,467.1 716.8,443.2 716.9,468.3 717.1,444.0 717.2,467.2 717.4,442.1 717.5,469.0 717.7,444.4 717.8,468.3 718.0,442.8 718.1,468.4 718.3,441.4 718.4,468.6 718.6,443.1 718.7,467.8 718.9,443.5 719.0,468.3 719.2,444.5 719.3,468.3 719.5,439.3 719.6,468.2 719.8,445.5 719.9,467.7 720.1,446.0 720.2,468.2 720.4,444.6 720.5,468.3 720.7,441.4 720.8,468.7 721.0,439.4 721.1,468.4 721.3,442.3 721.4,468.1 721.6,442.1 721.7,468.0 721.9,444.5 722.0,468.2 722.2,445.5 722.3,468.1 722.5,440.3 722.6,468.1 722.8,443.6 722.9,467.8 723.1,445.0 723.2,468.2 723.4,446.3 723.5,469.0 723.7,442.7 723.8,467.7 724.0,444.1 724.1,468.1 724.3,445.2 724.4,468.4 724.6,443.0 724.7,467.8 724.9,446.0 725.0,469.1 725.2,445.1 725.3,468.5 725.5,444.7 725.6,467.6 725.8,445.2 725.9,468.2 726.1,447.0 726.2,468.3 726.4,443.6 726.5,467.3 726.7,442.2 726.8,467.7 727.0,444.7 727.1,468.1 727.3,444.2 727.4,468.1 727.6,442.2 727.7,468.0 727.9,440.8 728.0,467.8 728.2,442.6 728.3,468.1 728.5,445.4 728.6,467.6 728.8,442.2 728.9,467.7 729.1,444.5 729.2,468.5 729.4,444.3 729.5,467.4 729.7,439.7 729.8,468.9 730.0,445.2 730.1,468.2 730.3,441.5 730.4,469.3 730.6,445.0 730.7,468.2 730.9,445.5 731.0,467.9 731.2,444.1 731.3,467.9 731.5,441.3 731.6,467.5 731.8,446.2 731.9,468.4 732.1,444.4 732.2,469.3 732.4,444.5 732.5,469.3 732.7,443.1 732.8,467.8 733.0,444.6 733.1,468.1 733.3,445.8 733.4,468.1 733.6,442.5 733.7,469.0 733.9,442.3 734.0,468.3 734.2,441.2 734.3,468.3 734.5,444.5 734.6,468.2 734.8,444.7 734.9,468.1 735.1,442.5 735.2,468.7 735.4,444.6 735.5,468.6 735.7,446.7 735.8,468.1 736.0,441.4 736.1,468.9 736.3,444.4 736.4,468.0 736.6,446.0 736.7,468.3 736.9,447.0 737.0,469.1 737.2,446.8 737.3,468.1 737.5,442.2 737.6,468.1 737.8,443.4 737.9,468.2 738.1,442.4 738.2,468.0 738.4,444.1 738.5,468.8 738.7,445.6 738.8,468.0 739.0,446.2 739.1,468.8 739.3,445.5 739.4,467.9 739.6,445.0 739.7,467.5 739.9,443.4 740.0,467.8 740.2,445.2 740.3,468.0 740.5,444.5 740.6,467.9 740.8,446.7 740.9,468.7 741.1,445.2 741.2,468.1 741.4,444.0 741.5,467.9 741.7,443.3 741.8,467.7 742.0,443.3 742.1,468.4 742.3,443.1 742.4,468.7 742.6,443.1 742.7,468.2 742.9,441.6 743.0,468.9 743.2,442.7 743.3,467.3 743.5,444.9 743.6,469.4 743.8,445.1 743.9,469.2 744.1,446.1 744.2,467.9 744.4,441.8 744.5,468.7 744.7,444.3 744.8,468.2 745.0,442.5 745.1,469.2 745.3,441.6 745.4,467.5 745.6,442.7 745.7,467.4 745.9,443.4 746.0,467.9 746.2,444.8 746.3,469.3 746.5,445.9 746.6,467.8 746.8,449.0 746.9,468.7 747.1,436.9 747.2,468.6 747.4,442.8 747.5,468.4 747.7,445.4 747.8,468.3 748.0,445.8 748.1,468.5 748.3,440.9 748.4,468.5 748.6,443.0 748.7,468.9 748.9,442.8 749.0,468.2 749.2,441.6 749.3,468.5 749.5,446.1 749.6,468.5 749.8,444.3 749.9,468.4 750.1,443.9 750.2,467.9 750.4,436.4 750.5,469.4 750.7,440.0 750.8,468.6 751.0,444.7 751.1,468.7 751.3,445.1 751.4,468.3 751.6,442.6 751.7,468.8 751.9,444.6 752.0,468.3 752.2,444.1 752.3,468.5 752.5,441.6 752.6,467.9 752.8,443.6 752.9,468.1 753.1,443.9 753.2,468.0 753.4,443.2 753.5,468.9 753.7,442.7 753.8,468.1 754.0,444.0 754.1,468.6 754.3,444.5 754.4,468.3 754.6,447.8 754.7,467.7 754.9,443.3 755.0,468.9 755.2,443.1 755.3,468.5 755.5,444.8 755.6,467.9 755.8,446.1 755.9,468.9 756.1,444.6 756.2,468.5 756.4,444.8 756.5,468.5 756.7,444.4 756.8,467.5 757.0,444.5 757.1,469.5 757.3,440.9 757.4,468.2 757.6,443.1 757.7,468.5 757.9,443.5 758.0,469.6 758.2,441.9 758.3,468.4 758.5,445.0 758.6,468.2 758.8,446.0 758.9,467.9 759.1,443.8 759.2,468.7 759.4,443.7 759.5,467.6 759.7,441.8 759.8,467.7 760.0,443.6 760.1,468.6 760.3,442.3 760.4,468.8 760.6,446.2 760.7,467.9 760.9,440.2 761.0,468.9 761.2,443.4 761.3,468.7 761.5,444.8 761.6,468.4 761.8,439.2 761.9,468.8 762.1,446.3 762.2,468.4 762.4,443.7 762.5,468.3 762.7,444.7 762.8,467.8 763.0,441.9 763.1,468.6 763.3,444.9 763.4,468.5 763.6,442.8 763.7,468.2 763.9,439.8 764.0,468.0 764.2,446.3 764.3,468.7 764.5,446.3 764.6,469.6 764.8,444.1 764.9,467.8 765.1,444.2 765.2,468.2 765.4,445.0 765.5,468.3 765.7,443.4 765.8,467.7 766.0,445.3 766.1,468.5 766.3,443.2 766.4,468.0 766.6,443.8 766.7,468.4 766.9,445.3 767.0,468.0 767.2,442.7 767.3,468.8 767.5,441.9 767.6,468.3 767.8,444.1 767.9,468.0 768.1,444.3 768.2,469.0 768.4,442.5 768.5,469.0 768.7,444.2 768.8,468.5 769.0,443.3 769.1,468.6 769.3,443.9 769.4,468.3 769.6,440.3 769.7,468.2 769.9,445.2 770.0,468.4 770.2,446.6 770.3,468.8 770.5,442.8 770.6,468.7 770.8,443.5 770.9,468.5 771.1,443.9 771.2,469.6 771.4,445.1 771.5,468.0 771.7,442.9 771.8,468.5 772.0,444.8 772.1,468.4 772.3,443.7 772.4,467.7 772.6,446.0 772.7,468.8 772.9,442.4 773.0,468.8 773.2,442.0 773.3,469.3 773.5,445.3 773.6,469.5 773.8,443.7 773.9,469.1 774.1,441.7 774.2,468.5 774.4,443.9 774.5,467.8 774.7,444.8 774.8,468.3 775.0,441.0 775.1,468.2 775.3,443.9 775.4,469.0 775.6,441.3 775.7,469.5 775.9,445.3 776.0,468.5 776.2,443.9 776.3,468.2 776.5,444.2 776.6,468.3 776.8,445.2 776.9,469.5 777.1,446.5 777.2,468.6 777.4,443.7 777.5,468.8 777.7,443.5 777.8,469.0 778.0,439.0 778.1,468.3 778.3,444.9 778.4,468.5 778.6,439.8 778.7,469.1 778.9,444.5 779.0,468.7 779.2,443.3 779.3,468.4 779.5,443.7 779.6,468.6 779.8,443.9 779.9,468.7 780.1,445.5 780.2,468.8 780.4,445.3 780.5,469.3 780.7,446.8 780.8,468.5 781.0,445.5 781.1,468.8 781.3,447.4 781.4,468.7 781.6,440.9 781.7,468.6 781.9,446.3 782.0,468.7 782.2,445.8 782.3,468.0 782.5,443.3 782.6,468.6 782.8,444.7 782.9,468.5 783.1,444.5 783.2,468.7 783.4,444.6 783.5,468.4 783.7,445.5 783.8,468.4 784.0,444.8 784.1,469.1 784.3,445.9 784.4,468.7 784.6,441.4 784.7,468.7 784.9,444.6 785.0,468.6 785.2,446.1 785.3,468.2 785.5,445.0 785.6,468.7 785.8,442.3 785.9,469.4 786.1,442.4 786.2,469.8 786.4,444.7 786.5,468.5 786.7,445.6 786.8,469.8 787.0,442.8 787.1,468.4 787.3,447.9 787.4,468.4 787.6,444.7 787.7,468.7 787.9,445.6 788.0,468.4 788.2,445.1 788.3,468.9 788.5,445.6 788.6,469.9 788.8,445.1 788.9,467.8 789.1,444.1 789.2,468.4 789.4,443.2 789.5,469.7 789.7,444.0 789.8,468.9 790.0,445.8 790.1,468.6 790.3,444.5 790.4,467.8 790.6,445.4 790.7,469.4 790.9,445.2 791.0,469.1 791.2,445.0 791.3,468.5 791.5,442.9 791.6,469.3 791.8,441.1 791.9,468.9 792.1,444.7 792.2,469.0 792.4,444.9 792.5,469.1 792.7,443.5 792.8,469.3 793.0,447.1 793.1,469.0 793.3,443.9 793.4,469.0 793.6,441.0 793.7,468.7 793.9,446.8 794.0,469.4 794.2,442.8 794.3,468.5 794.5,443.9 794.6,468.2 794.8,449.1 794.9,468.7 795.1,441.5 795.2,468.4 795.4,443.9 795.5,469.4 795.7,448.0 795.8,469.4 796.0,442.4 796.1,469.0 796.3,445.6 796.4,468.7 796.6,444.8 796.7,468.9 796.9,444.6 797.0,469.3 797.2,442.9 797.3,468.6 797.5,443.6 797.6,467.9 797.8,445.9 797.9,467.9 798.1,446.0 798.2,468.7 798.4,445.5 798.5,468.2 798.7,436.9 798.8,468.6 799.0,448.3 799.1,468.1 799.3,446.2 799.4,469.3 799.6,447.0 799.7,469.6 799.9,444.0 800.0,469.3 800.2,446.8 800.3,468.4 800.5,442.5 800.6,468.9 800.8,445.4 800.9,468.9 801.1,446.4 801.2,467.7 801.4,444.2 801.5,468.3 801.7,446.6 801.8,468.7 802.0,443.6 802.1,468.7 802.3,446.4 802.4,468.4 802.6,446.3 802.7,468.5 802.9,444.5 803.0,468.7 803.2,447.5 803.3,468.6 803.5,442.7 803.6,469.5 803.8,446.5 803.9,468.8 804.1,445.2 804.2,469.4 804.4,441.2 804.5,469.1 804.7,446.1 804.8,468.7 805.0,441.6 805.1,469.9 805.3,442.6 805.4,468.4 805.6,444.2 805.7,468.5 805.9,445.9 806.0,469.6 806.2,444.9 806.3,468.5 806.5,439.9 806.6,470.0 806.8,448.0 806.9,469.5 807.1,444.3 807.2,469.7 807.4,441.0 807.5,469.0 807.7,444.3 807.8,468.9 808.0,446.7 808.1,469.8 808.3,447.6 808.4,468.4 808.6,443.4 808.7,469.5 808.9,447.1 809.0,468.6 809.2,444.5 809.3,468.8 809.5,445.0 809.6,469.4 809.8,446.2 809.9,468.4 810.1,445.1 810.2,468.7 810.4,442.4 810.5,469.0 810.7,444.3 810.8,469.2 811.0,443.4 811.1,468.5 811.3,443.6 811.4,469.0 811.6,443.9 811.7,468.8 811.9,443.8 812.0,469.0 812.2,439.1 812.3,468.7 812.5,445.7 812.6,468.6 812.8,446.9 812.9,468.7 813.1,445.9 813.2,468.6 813.4,445.0 813.5,468.4 813.7,446.0 813.8,468.8 814.0,437.5 814.1,468.7 814.3,444.4 814.4,469.6 814.6,446.5 814.7,468.5 814.9,443.7 815.0,468.4 815.2,443.1 815.3,468.4 815.5,443.0 815.6,468.9 815.8,446.5 815.9,468.4 816.1,445.4 816.2,468.9 816.4,443.7 816.5,468.9 816.7,443.7 816.8,468.8 817.0,445.7 817.1,469.4 817.3,444.4 817.4,469.8 817.6,441.9 817.7,468.8 817.9,444.4 818.0,468.7 818.2,441.3 818.3,469.3 818.5,444.2 818.6,468.3 818.8,448.9 818.9,469.5 819.1,444.0 819.2,468.6 819.4,440.9 819.5,469.2 819.7,448.8 819.8,468.5 820.0,446.1 820.1,468.9 820.3,443.9 820.4,468.7 820.6,441.6 820.7,468.6 820.9,446.9 821.0,469.3 821.2,441.9 821.3,469.1 821.5,443.4 821.6,468.8 821.8,445.7 821.9,468.8 822.1,447.2 822.2,469.6 822.4,443.2 822.5,469.1 822.7,445.0 822.8,469.0 823.0,442.8 823.1,468.8 823.3,445.0 823.4,469.0 823.6,436.1 823.7,469.3 823.9,444.6 824.0,469.2 824.2,443.3 824.3,468.8 824.5,445.7 824.6,468.4 824.8,444.5 824.9,468.7 825.1,444.7 825.2,470.0 825.4,438.8 825.5,468.6 825.7,447.2 825.8,469.8 826.0,445.8 826.1,468.7 826.3,447.1 826.4,468.9 826.6,439.5 826.7,468.6 826.9,440.2 827.0,468.3 827.2,444.4 827.3,468.3 827.5,444.3 827.6,469.2 827.8,444.8 827.9,469.3 828.1,444.9 828.2,468.1 828.4,444.2 828.5,469.3 828.7,445.1 828.8,469.5 829.0,443.4 829.1,470.1 829.3,442.7 829.4,470.1 829.6,441.7 829.7,469.0 829.9,445.1 830.0,469.6 830.2,441.9 830.3,468.8 830.5,443.9 830.6,468.6 830.8,444.3 830.9,468.7 831.1,445.4 831.2,468.8 831.4,443.1 831.5,469.1 831.7,444.1 831.8,468.1 832.0,447.3 832.1,469.2 832.3,446.3 832.4,469.9 832.6,442.7 832.7,468.2 832.9,445.1 833.0,469.4 833.2,440.5 833.3,470.0 833.5,442.2 833.6,469.3 833.8,444.8 833.9,468.8 834.1,443.2 834.2,469.0 834.4,444.0 834.5,469.1 834.7,441.5 834.8,469.8 835.0,447.8 835.1,468.4 835.3,443.8 835.4,469.2 835.6,443.1 835.7,469.1 835.9,446.8 836.0,469.2 836.2,446.4 836.3,468.5 836.5,443.0 836.6,469.2 836.8,443.6 836.9,468.8 837.1,445.4 837.2,468.9 837.4,443.3 837.5,469.2 837.7,446.2 837.8,469.2 838.0,440.9 838.1,469.5 838.3,446.5 838.4,470.0 838.6,443.5 838.7,468.4 838.9,443.2 839.0,468.7 839.2,446.1 839.3,468.7 839.5,444.5 839.6,470.0 839.8,443.2 839.9,469.3 840.1,443.2 840.2,468.8 840.4,447.9 840.5,468.8 840.7,445.9 840.8,468.5 841.0,445.7 841.1,469.6 841.3,447.9 841.4,468.9 841.6,446.1 841.7,468.9 841.9,444.7 842.0,469.1 842.2,445.6 842.3,469.8 842.5,441.1 842.6,469.5 842.8,445.4 842.9,469.1 843.1,447.2 843.2,469.1 843.4,444.6 843.5,469.5 843.7,444.6 843.8,469.3 844.0,445.2 844.1,469.4 844.3,443.4 844.4,469.0 844.6,444.5 844.7,468.9 844.9,443.7 845.0,468.6 845.2,445.2 845.3,470.1 845.5,441.4 845.6,468.2 845.8,441.6 845.9,468.5 846.1,441.0 846.2,468.4 846.4,441.2 846.5,469.0 846.7,445.9 846.8,468.6 847.0,446.3 847.1,469.2 847.3,442.3 847.4,468.9 847.6,447.0 847.7,468.9 847.9,445.9 848.0,468.4 848.2,448.7 848.3,468.8 848.5,445.1 848.6,469.7 848.8,445.6 848.9,469.4 849.1,444.2 849.2,469.5 849.4,444.2 849.5,469.7 849.7,442.4 849.8,469.5 850.0,447.0 850.1,468.6 850.3,443.6 850.4,469.2 850.6,442.7 850.7,469.2 850.9,444.4 851.0,468.9 851.2,447.1 851.3,469.4 851.5,446.0 851.6,469.3 851.8,444.9 851.9,469.2 852.1,444.6 852.2,468.7 852.4,441.0 852.5,469.3 852.7,445.1 852.8,469.5 853.0,445.9 853.1,470.3 853.3,448.6 853.4,469.4 853.6,448.5 853.7,469.3 853.9,446.1 854.0,469.5 854.2,444.6 854.3,469.5 854.5,445.3 854.6,469.6 854.8,445.5 854.9,469.3 855.1,445.9 855.2,469.2 855.4,443.9 855.5,468.8 855.7,444.0 855.8,468.8 856.0,442.0 856.1,469.9 856.3,441.9 856.4,468.5 856.6,445.1 856.7,469.3 856.9,443.3 857.0,468.9 857.2,443.2 857.3,470.2 857.5,445.2 857.6,468.7 857.8,444.7 857.9,469.8" fill="none" stroke="#1171be" stroke-width="3" stroke-linejoin="round" stroke-linecap="round"/>
<path d="M108.6,365.6V357.5" stroke="#1171be" stroke-width="3" stroke-linecap="round"/>
<path d="M114.5,372.1V363.0" stroke="#1171be" stroke-width="3" stroke-linecap="round"/>
<path d="M122.1,378.9V367.5" stroke="#1171be" stroke-width="3" stroke-linecap="round"/>
<path d="M129.7,383.5V369.0" stroke="#1171be" stroke-width="3" stroke-linecap="round"/>
<path d="M150.8,395.5V381.0" stroke="#1171be" stroke-width="3" stroke-linecap="round"/>
<path d="M208.2,423.7V390.5" stroke="#1171be" stroke-width="3" stroke-linecap="round"/>
<path d="M200.6,416.1V399.5" stroke="#1171be" stroke-width="3" stroke-linecap="round"/>
<path d="M190.5,414.7V400.5" stroke="#1171be" stroke-width="3" stroke-linecap="round"/>
<path d="M228.5,429.8V405.5" stroke="#1171be" stroke-width="3.4" stroke-linecap="round"/>
<path d="M226.0,428.1V409.0" stroke="#1171be" stroke-width="3" stroke-linecap="round"/>
<path d="M251.3,434.7V419.0" stroke="#1171be" stroke-width="3" stroke-linecap="round"/>
<path d="M266.5,437.9V419.0" stroke="#1171be" stroke-width="3" stroke-linecap="round"/>
<path d="M275.8,439.5V416.5" stroke="#1171be" stroke-width="3" stroke-linecap="round"/>
<path d="M287.0,441.7V419.0" stroke="#1171be" stroke-width="3" stroke-linecap="round"/>
<path d="M343.0,449.2V430.5" stroke="#1171be" stroke-width="3" stroke-linecap="round"/>
<path d="M401.5,454.5V431.0" stroke="#1171be" stroke-width="3" stroke-linecap="round"/>
<path d="M372.5,451.9V431.5" stroke="#1171be" stroke-width="3" stroke-linecap="round"/>
<path d="M662.0,459.8V431.5" stroke="#1171be" stroke-width="3" stroke-linecap="round"/>
<path d="M840.5,461.2V436.5" stroke="#1171be" stroke-width="3" stroke-linecap="round"/>
<path d="M806.0,460.9V437.5" stroke="#1171be" stroke-width="3" stroke-linecap="round"/>
<path d="M464.5,457.0V434.5" stroke="#1171be" stroke-width="3" stroke-linecap="round"/>
<path d="M483.0,457.5V435.5" stroke="#1171be" stroke-width="3" stroke-linecap="round"/>
<path d="M536.5,458.8V434.5" stroke="#1171be" stroke-width="3" stroke-linecap="round"/>
<path d="M74.3,185.0 75.3,168.0 76.5,148.0 77.6,134.0 78.3,131.0 79.0,140.0 80.0,190.0 80.9,236.0 82.5,272.0 84.4,300.0 86.5,312.0 91.0,326.0 94.3,340.0 99.3,350.1 104.4,358.6 109.5,367.0 116.2,373.8 123.0,379.7 128.0,382.2 132.2,385.6 137.3,384.7 141.5,391.5 144.9,394.9 149.1,390.3 152.5,400.8 156.7,404.2 164.3,403.3 170.2,407.5 178.7,411.8 185.4,413.4 188.8,415.6 192.2,413.8 197.2,418.5 203.2,414.3 207.4,423.6 212.4,424.4 217.5,427.3 222.6,425.8 229.3,430.3 236.1,434.9 241.1,433.7 244.5,431.5 247.9,432.0 255.5,437.9 261.4,435.4 266.5,437.9 269.8,434.9 274.9,439.3 285.9,442.1 289.3,440.8 296.9,444.3 301.1,441.8 307.0,444.3 310.4,444.7 314.6,448.1 320.5,446.4 325.6,448.9 334.0,448.4 344.1,449.3 349.2,447.3 355.9,451.2 363.5,449.0 368.6,451.8 381.3,452.0 391.4,453.7 401.5,454.5 418.4,454.4 433.6,455.7 438.7,454.9 445.4,456.2 458.1,454.0 463.2,456.9 480.9,457.7 489.3,456.9 509.6,457.9 513.0,457.1 518.0,458.2 524.8,455.7 529.8,458.6 543.4,459.1 548.4,457.7 553.5,459.4 563.6,458.2 577.1,459.4 594.0,459.1 620.0,459.3 640.0,459.0 660.0,459.8 700.0,460.0 740.0,460.4 780.0,460.8 820.0,461.0 857.4,461.3" fill="none" stroke="#dd5400" stroke-width="3.2" stroke-linejoin="round" stroke-linecap="round"/>
<circle cx="841.6" cy="461.3" r="10.8" fill="none" stroke="#dd5400" stroke-width="1.1"/><circle cx="857.3" cy="461.3" r="7.4" fill="#dd5400"/><circle cx="841.6" cy="461.3" r="7" fill="#212121"/>
</g><rect x="619.8" y="132.6" width="286.6" height="67.6" fill="#fff" stroke="#1c1c1c" stroke-width="1.35"/>
<path d="M626.3,145.6h66" stroke="#1171be" stroke-width="3"/><path d="M626.3,166.2h66" stroke="#dd5400" stroke-width="3"/><circle cx="659.8" cy="187.2" r="7.3" fill="#212121"/>
<text x="697.0999999999999" y="151.7" font-size="17.7">Training CustomMetric1</text>
<text x="697.0999999999999" y="172.1" font-size="17.7">Validation CustomMetric1</text>
<text x="697.0999999999999" y="192.5" font-size="17.7">Output Network</text>
<g transform="translate(0 0)" fill="none" stroke="#555" stroke-width="1.5" stroke-linejoin="round" stroke-linecap="round">
<rect x="747.4" y="88.3" width="32.4" height="32.4" rx="7" fill="#dadada" stroke="#858585" stroke-width="1"/><rect x="751.6" y="92.6" width="24.8" height="24.8" rx="1" fill="#d2d2d2" stroke-width="1.7" stroke-linejoin="miter"/><path d="M753,98.3h22M753,100.9h22M753,106h22" stroke="#b4b4b4" stroke-width="1.4" stroke-linecap="butt"/><path d="M755.2,96.3C755.6,106 762,112.2 773.6,112.6" stroke-width="1.4"/><rect x="785.6" y="109" width="24.8" height="8.6" rx="0.6" stroke-width="1.6"/><circle cx="806.4" cy="113.5" r="1.2" stroke-width="1.2"/><path d="M790.6,108.4C790,101 794,97.2 799.2,97.4V93L808.4,100L799.2,107.4V103.2C795.4,103 792.6,104.6 791.8,108.4" stroke-width="1.4"/><path d="M816.2,104.2h10.8l-5.4,5.8z" fill="#555" stroke="none"/><path d="M837.4,109V92.7h21v20.2H840.6" stroke-width="1.6" stroke-linejoin="miter"/><circle cx="836.8" cy="112.8" r="3.3" fill="#f5f5f5" stroke-width="1.5"/><path d="M840.4,99.4h15.2M840.4,104.3h8.8" stroke-width="1.4"/><path d="M876.4,117.4C873.6,115.4 871.6,110.6 866.6,105.4C865.8,103.8 867.8,102.6 869.4,103.6L874.2,107.4L872.6,96.6C872.4,94.6 874.8,94.2 875.4,96L877.8,103.4L877.6,94.2C877.6,92 880.4,92 880.6,94.2L881.6,103L883.6,95.2C884,93.4 886.6,93.8 886.4,95.8L885.2,104.2L888.4,98.8C889.4,97.2 891.6,98.2 890.8,100.2C889.4,104.4 888.4,107.2 888.4,111C888.4,114 887.6,116.4 885.4,117.6Z" stroke-width="1.3"/><circle cx="909.6" cy="102.6" r="9.8" stroke-width="1.6"/><path d="M916.8,110L924,117" stroke-width="2.6" stroke-linecap="butt"/><path d="M932.8,107.6L945.2,92.8L950.4,99V95.4H954V103.4L957.4,107.6H954.4V117.4H947.6V109.4H942.6V117.4H935.8V107.6Z" stroke-width="1.5" stroke-linejoin="miter"/><rect x="962.2" y="88.3" width="32.6" height="32.4" rx="7.5" fill="#d9d9d9" stroke="#8a8a8a" stroke-width="1"/><path d="M967,94.2L977.2,104.5L967,114.6M978.8,94.2L989,104.5L978.8,114.6" stroke-width="1.4" stroke-linejoin="miter" stroke-linecap="butt"/></g>
<rect x="74.6" y="584.8" width="918.6" height="348.1" fill="#fff"/>
<path d="M227.4,584.8V932.9" stroke="#dcdcdc" stroke-width="1.05"/>
<path d="M380.4,584.8V932.9" stroke="#dcdcdc" stroke-width="1.05"/>
<path d="M533.4,584.8V932.9" stroke="#dcdcdc" stroke-width="1.05"/>
<path d="M686.4,584.8V932.9" stroke="#dcdcdc" stroke-width="1.05"/>
<path d="M839.4,584.8V932.9" stroke="#dcdcdc" stroke-width="1.05"/>
<path d="M992.4,584.8V932.9" stroke="#dcdcdc" stroke-width="1.05"/>
<path d="M74.6,649.6H992.6" stroke="#e2e2e2" stroke-width="1.3"/>
<path d="M74.6,788.1H992.6" stroke="#e2e2e2" stroke-width="1.3"/>
<path d="M74.6,926.6H992.6" stroke="#e2e2e2" stroke-width="1.3"/>
<path d="M73.0,929.8H992.6" stroke="#d6d6d6" stroke-width="1.3" stroke-dasharray="3.2 3.9 2 4.9"/>
<path d="M73.0,905.8H992.6" stroke="#d6d6d6" stroke-width="1.3" stroke-dasharray="3.2 3.9 2 4.9"/>
<path d="M73.0,893.6H992.6" stroke="#d6d6d6" stroke-width="1.3" stroke-dasharray="3.2 3.9 2 4.9"/>
<path d="M73.0,884.9H992.6" stroke="#d6d6d6" stroke-width="1.3" stroke-dasharray="3.2 3.9 2 4.9"/>
<path d="M73.0,878.2H992.6" stroke="#d6d6d6" stroke-width="1.3" stroke-dasharray="3.2 3.9 2 4.9"/>
<path d="M73.0,872.7H992.6" stroke="#d6d6d6" stroke-width="1.3" stroke-dasharray="3.2 3.9 2 4.9"/>
<path d="M73.0,868.1H992.6" stroke="#d6d6d6" stroke-width="1.3" stroke-dasharray="3.2 3.9 2 4.9"/>
<path d="M73.0,864.1H992.6" stroke="#d6d6d6" stroke-width="1.3" stroke-dasharray="3.2 3.9 2 4.9"/>
<path d="M73.0,860.5H992.6" stroke="#d6d6d6" stroke-width="1.3" stroke-dasharray="3.2 3.9 2 4.9"/>
<path d="M73.0,836.5H992.6" stroke="#d6d6d6" stroke-width="1.3" stroke-dasharray="3.2 3.9 2 4.9"/>
<path d="M73.0,824.3H992.6" stroke="#d6d6d6" stroke-width="1.3" stroke-dasharray="3.2 3.9 2 4.9"/>
<path d="M73.0,815.7H992.6" stroke="#d6d6d6" stroke-width="1.3" stroke-dasharray="3.2 3.9 2 4.9"/>
<path d="M73.0,808.9H992.6" stroke="#d6d6d6" stroke-width="1.3" stroke-dasharray="3.2 3.9 2 4.9"/>
<path d="M73.0,803.5H992.6" stroke="#d6d6d6" stroke-width="1.3" stroke-dasharray="3.2 3.9 2 4.9"/>
<path d="M73.0,798.8H992.6" stroke="#d6d6d6" stroke-width="1.3" stroke-dasharray="3.2 3.9 2 4.9"/>
<path d="M73.0,794.8H992.6" stroke="#d6d6d6" stroke-width="1.3" stroke-dasharray="3.2 3.9 2 4.9"/>
<path d="M73.0,791.3H992.6" stroke="#d6d6d6" stroke-width="1.3" stroke-dasharray="3.2 3.9 2 4.9"/>
<path d="M73.0,857.4H992.6" stroke="#d6d6d6" stroke-width="1.3" stroke-dasharray="3.2 3.9 2 4.9"/>
<path d="M73.0,767.3H992.6" stroke="#d6d6d6" stroke-width="1.3" stroke-dasharray="3.2 3.9 2 4.9"/>
<path d="M73.0,755.1H992.6" stroke="#d6d6d6" stroke-width="1.3" stroke-dasharray="3.2 3.9 2 4.9"/>
<path d="M73.0,746.4H992.6" stroke="#d6d6d6" stroke-width="1.3" stroke-dasharray="3.2 3.9 2 4.9"/>
<path d="M73.0,739.7H992.6" stroke="#d6d6d6" stroke-width="1.3" stroke-dasharray="3.2 3.9 2 4.9"/>
<path d="M73.0,734.2H992.6" stroke="#d6d6d6" stroke-width="1.3" stroke-dasharray="3.2 3.9 2 4.9"/>
<path d="M73.0,729.6H992.6" stroke="#d6d6d6" stroke-width="1.3" stroke-dasharray="3.2 3.9 2 4.9"/>
<path d="M73.0,725.6H992.6" stroke="#d6d6d6" stroke-width="1.3" stroke-dasharray="3.2 3.9 2 4.9"/>
<path d="M73.0,722.0H992.6" stroke="#d6d6d6" stroke-width="1.3" stroke-dasharray="3.2 3.9 2 4.9"/>
<path d="M73.0,698.0H992.6" stroke="#d6d6d6" stroke-width="1.3" stroke-dasharray="3.2 3.9 2 4.9"/>
<path d="M73.0,685.8H992.6" stroke="#d6d6d6" stroke-width="1.3" stroke-dasharray="3.2 3.9 2 4.9"/>
<path d="M73.0,677.2H992.6" stroke="#d6d6d6" stroke-width="1.3" stroke-dasharray="3.2 3.9 2 4.9"/>
<path d="M73.0,670.4H992.6" stroke="#d6d6d6" stroke-width="1.3" stroke-dasharray="3.2 3.9 2 4.9"/>
<path d="M73.0,665.0H992.6" stroke="#d6d6d6" stroke-width="1.3" stroke-dasharray="3.2 3.9 2 4.9"/>
<path d="M73.0,660.3H992.6" stroke="#d6d6d6" stroke-width="1.3" stroke-dasharray="3.2 3.9 2 4.9"/>
<path d="M73.0,656.3H992.6" stroke="#d6d6d6" stroke-width="1.3" stroke-dasharray="3.2 3.9 2 4.9"/>
<path d="M73.0,652.8H992.6" stroke="#d6d6d6" stroke-width="1.3" stroke-dasharray="3.2 3.9 2 4.9"/>
<path d="M73.0,718.9H992.6" stroke="#d6d6d6" stroke-width="1.3" stroke-dasharray="3.2 3.9 2 4.9"/>
<path d="M73.0,628.8H992.6" stroke="#d6d6d6" stroke-width="1.3" stroke-dasharray="3.2 3.9 2 4.9"/>
<path d="M73.0,616.6H992.6" stroke="#d6d6d6" stroke-width="1.3" stroke-dasharray="3.2 3.9 2 4.9"/>
<path d="M73.0,607.9H992.6" stroke="#d6d6d6" stroke-width="1.3" stroke-dasharray="3.2 3.9 2 4.9"/>
<path d="M73.0,601.2H992.6" stroke="#d6d6d6" stroke-width="1.3" stroke-dasharray="3.2 3.9 2 4.9"/>
<path d="M73.0,595.7H992.6" stroke="#d6d6d6" stroke-width="1.3" stroke-dasharray="3.2 3.9 2 4.9"/>
<path d="M73.0,591.1H992.6" stroke="#d6d6d6" stroke-width="1.3" stroke-dasharray="3.2 3.9 2 4.9"/>
<path d="M73.0,587.1H992.6" stroke="#d6d6d6" stroke-width="1.3" stroke-dasharray="3.2 3.9 2 4.9"/>
<path d="M73.89999999999999,932.9H993.2" fill="none" stroke="#444" stroke-width="1.5"/><path d="M74.6,584.8V933.6" fill="none" stroke="#222" stroke-width="1.3"/>
<path d="M227.6,932.9v-9.4" stroke="#3a3a3a" stroke-width="1.3"/>
<path d="M380.6,932.9v-9.4" stroke="#3a3a3a" stroke-width="1.3"/>
<path d="M533.6,932.9v-9.4" stroke="#3a3a3a" stroke-width="1.3"/>
<path d="M686.6,932.9v-9.4" stroke="#3a3a3a" stroke-width="1.3"/>
<path d="M839.6,932.9v-9.4" stroke="#3a3a3a" stroke-width="1.3"/>
<path d="M992.6,932.9v-9.4" stroke="#3a3a3a" stroke-width="1.3"/>
<path d="M74.6,929.8h4.6" stroke="#3a3a3a" stroke-width="1.3"/>
<path d="M74.6,926.6h9.4" stroke="#3a3a3a" stroke-width="1.3"/>
<path d="M74.6,905.8h4.6" stroke="#3a3a3a" stroke-width="1.3"/>
<path d="M74.6,893.6h4.6" stroke="#3a3a3a" stroke-width="1.3"/>
<path d="M74.6,884.9h4.6" stroke="#3a3a3a" stroke-width="1.3"/>
<path d="M74.6,878.2h4.6" stroke="#3a3a3a" stroke-width="1.3"/>
<path d="M74.6,872.7h4.6" stroke="#3a3a3a" stroke-width="1.3"/>
<path d="M74.6,868.1h4.6" stroke="#3a3a3a" stroke-width="1.3"/>
<path d="M74.6,864.1h4.6" stroke="#3a3a3a" stroke-width="1.3"/>
<path d="M74.6,860.5h4.6" stroke="#3a3a3a" stroke-width="1.3"/>
<path d="M74.6,857.4h4.6" stroke="#3a3a3a" stroke-width="1.3"/>
<path d="M74.6,836.5h4.6" stroke="#3a3a3a" stroke-width="1.3"/>
<path d="M74.6,824.3h4.6" stroke="#3a3a3a" stroke-width="1.3"/>
<path d="M74.6,815.7h4.6" stroke="#3a3a3a" stroke-width="1.3"/>
<path d="M74.6,808.9h4.6" stroke="#3a3a3a" stroke-width="1.3"/>
<path d="M74.6,803.5h4.6" stroke="#3a3a3a" stroke-width="1.3"/>
<path d="M74.6,798.8h4.6" stroke="#3a3a3a" stroke-width="1.3"/>
<path d="M74.6,794.8h4.6" stroke="#3a3a3a" stroke-width="1.3"/>
<path d="M74.6,791.3h4.6" stroke="#3a3a3a" stroke-width="1.3"/>
<path d="M74.6,788.1h9.4" stroke="#3a3a3a" stroke-width="1.3"/>
<path d="M74.6,767.3h4.6" stroke="#3a3a3a" stroke-width="1.3"/>
<path d="M74.6,755.1h4.6" stroke="#3a3a3a" stroke-width="1.3"/>
<path d="M74.6,746.4h4.6" stroke="#3a3a3a" stroke-width="1.3"/>
<path d="M74.6,739.7h4.6" stroke="#3a3a3a" stroke-width="1.3"/>
<path d="M74.6,734.2h4.6" stroke="#3a3a3a" stroke-width="1.3"/>
<path d="M74.6,729.6h4.6" stroke="#3a3a3a" stroke-width="1.3"/>
<path d="M74.6,725.6h4.6" stroke="#3a3a3a" stroke-width="1.3"/>
<path d="M74.6,722.0h4.6" stroke="#3a3a3a" stroke-width="1.3"/>
<path d="M74.6,718.9h4.6" stroke="#3a3a3a" stroke-width="1.3"/>
<path d="M74.6,698.0h4.6" stroke="#3a3a3a" stroke-width="1.3"/>
<path d="M74.6,685.8h4.6" stroke="#3a3a3a" stroke-width="1.3"/>
<path d="M74.6,677.2h4.6" stroke="#3a3a3a" stroke-width="1.3"/>
<path d="M74.6,670.4h4.6" stroke="#3a3a3a" stroke-width="1.3"/>
<path d="M74.6,665.0h4.6" stroke="#3a3a3a" stroke-width="1.3"/>
<path d="M74.6,660.3h4.6" stroke="#3a3a3a" stroke-width="1.3"/>
<path d="M74.6,656.3h4.6" stroke="#3a3a3a" stroke-width="1.3"/>
<path d="M74.6,652.8h4.6" stroke="#3a3a3a" stroke-width="1.3"/>
<path d="M74.6,649.6h9.4" stroke="#3a3a3a" stroke-width="1.3"/>
<path d="M74.6,628.8h4.6" stroke="#3a3a3a" stroke-width="1.3"/>
<path d="M74.6,616.6h4.6" stroke="#3a3a3a" stroke-width="1.3"/>
<path d="M74.6,607.9h4.6" stroke="#3a3a3a" stroke-width="1.3"/>
<path d="M74.6,601.2h4.6" stroke="#3a3a3a" stroke-width="1.3"/>
<path d="M74.6,595.7h4.6" stroke="#3a3a3a" stroke-width="1.3"/>
<path d="M74.6,591.1h4.6" stroke="#3a3a3a" stroke-width="1.3"/>
<path d="M74.6,587.1h4.6" stroke="#3a3a3a" stroke-width="1.3"/>
<text x="75.1" y="957.1" text-anchor="middle" font-size="20.6">0</text>
<text x="227.9" y="957.1" text-anchor="middle" font-size="20.6">1</text>
<text x="380.7" y="957.1" text-anchor="middle" font-size="20.6">2</text>
<text x="533.5" y="957.1" text-anchor="middle" font-size="20.6">3</text>
<text x="686.3" y="957.1" text-anchor="middle" font-size="20.6">4</text>
<text x="839.1" y="957.1" text-anchor="middle" font-size="20.6">5</text>
<text x="991.9" y="957.1" text-anchor="middle" font-size="20.6">6</text>
<text x="533.6" y="982.3" text-anchor="middle" font-size="22">Iteration</text>
<text x="982.0" y="981.7" text-anchor="end" font-size="20">×10</text><text x="982.4" y="975.2" font-size="14">4</text>
<text x="58.6" y="656.4" text-anchor="end" font-size="20.5">10</text><text x="66.2" y="648.6" text-anchor="end" font-size="14">0</text>
<text x="54.0" y="794.9" text-anchor="end" font-size="20.5">10</text><text x="66.2" y="787.1" text-anchor="end" font-size="14">-2</text>
<text x="54.0" y="933.4" text-anchor="end" font-size="20.5">10</text><text x="66.2" y="925.6" text-anchor="end" font-size="14">-4</text>
<text transform="translate(21 759) rotate(-90)" text-anchor="middle" font-size="21.6">Loss</text>
<path d="M73.5,586.0 74.0,600.0 74.7,612.0 75.7,631.0 77.4,647.0 79.3,657.0 80.7,680.0 82.0,705.0 82.3,727.0" fill="none" stroke="#1171be" stroke-width="3.4" stroke-linejoin="round" stroke-linecap="round"/>
<path d="M82.0,721.7 82.2,726.2 82.3,726.9 82.5,731.7 82.6,733.0 82.8,737.5 82.9,738.4 83.0,743.1 83.2,743.2 83.3,747.9 83.5,747.3 83.6,752.4 83.8,752.1 83.9,757.1 84.1,755.8 84.2,760.7 84.4,758.2 84.5,763.4 84.7,760.8 84.8,766.4 85.0,763.4 85.1,769.2 85.3,766.2 85.4,770.9 85.6,767.6 85.7,773.0 85.9,770.2 86.0,774.5 86.2,770.1 86.3,776.1 86.5,771.9 86.6,777.6 86.8,772.8 86.9,778.4 87.1,773.7 87.2,779.8 87.4,775.1 87.5,780.9 87.7,776.3 87.8,781.9 88.0,776.4 88.1,782.8 88.3,777.4 88.4,783.7 88.6,778.5 88.7,784.6 88.9,780.2 89.0,785.5 89.2,781.3 89.3,786.8 89.5,781.8 89.6,787.8 89.8,782.5 89.9,788.7 90.1,782.9 90.2,789.4 90.4,783.8 90.5,790.6 90.7,785.4 90.8,791.6 91.0,786.3 91.1,792.4 91.3,786.6 91.4,793.6 91.6,788.8 91.7,795.1 91.9,789.8 92.0,796.4 92.2,790.4 92.3,798.0 92.5,792.1 92.6,799.0 92.8,793.3 92.9,800.4 93.1,794.3 93.2,801.5 93.4,796.5 93.5,803.3 93.7,797.2 93.8,804.4 94.0,798.9 94.1,805.3 94.3,799.8 94.4,806.3 94.6,800.7 94.7,807.4 94.9,800.8 95.0,808.1 95.2,801.8 95.3,809.0 95.5,802.9 95.6,809.5 95.8,802.6 95.9,809.9 96.1,803.1 96.2,810.3 96.4,804.2 96.5,811.2 96.7,803.8 96.8,812.0 97.0,804.9 97.1,812.7 97.3,805.7 97.4,813.1 97.6,806.8 97.7,813.6 97.9,806.9 98.0,814.4 98.2,806.7 98.3,814.8 98.5,807.7 98.6,815.7 98.8,809.0 98.9,816.2 99.1,809.7 99.2,817.4 99.4,808.7 99.5,818.0 99.7,811.0 99.8,817.9 100.0,810.5 100.1,818.7 100.3,811.8 100.4,819.2 100.6,811.2 100.7,819.8 100.9,811.6 101.0,819.7 101.2,812.7 101.3,820.6 101.5,812.4 101.6,821.1 101.8,812.4 101.9,821.6 102.1,814.4 102.2,822.4 102.4,814.5 102.5,822.6 102.7,815.4 102.8,823.8 103.0,815.8 103.1,824.1 103.3,815.4 103.4,825.0 103.6,816.3 103.7,824.7 103.9,816.9 104.0,825.3 104.2,818.4 104.3,825.9 104.5,817.7 104.6,826.8 104.8,817.2 104.9,827.6 105.1,817.9 105.2,827.4 105.4,819.3 105.5,827.9 105.7,820.0 105.8,828.7 106.0,820.7 106.1,828.9 106.3,821.1 106.4,829.7 106.6,820.9 106.7,830.0 106.9,821.4 107.0,830.2 107.2,822.1 107.3,831.0 107.5,822.6 107.6,831.7 107.8,823.9 107.9,832.1 108.1,824.0 108.2,832.3 108.4,824.2 108.5,833.1 108.7,825.2 108.8,833.8 109.0,824.4 109.1,834.3 109.3,825.4 109.4,834.3 109.6,824.9 109.7,834.9 109.9,826.3 110.0,835.6 110.2,826.2 110.3,835.4 110.5,826.9 110.6,835.7 110.8,825.9 110.9,836.0 111.1,826.6 111.2,836.6 111.4,826.8 111.5,836.6 111.7,828.2 111.8,837.1 112.0,827.4 112.1,837.7 112.3,827.5 112.4,837.6 112.6,827.7 112.7,838.3 112.9,828.3 113.0,838.4 113.2,829.7 113.3,839.2 113.5,829.5 113.6,839.0 113.8,830.7 113.9,839.6 114.1,830.6 114.2,839.9 114.4,830.8 114.5,840.4 114.7,831.1 114.8,840.7 115.0,830.5 115.1,841.2 115.3,831.2 115.4,841.7 115.6,831.6 115.7,842.2 115.9,831.8 116.0,841.9 116.2,832.1 116.3,842.2 116.5,829.9 116.6,842.5 116.8,833.5 116.9,843.1 117.1,833.7 117.2,843.1 117.4,832.8 117.5,843.6 117.7,831.8 117.8,844.2 118.0,833.6 118.1,844.8 118.3,833.8 118.4,844.5 118.6,834.2 118.7,844.9 118.9,834.5 119.0,844.7 119.2,834.5 119.3,845.0 119.5,834.6 119.6,845.4 119.8,835.3 119.9,845.4 120.1,834.8 120.2,845.7 120.4,835.3 120.5,846.3 120.7,835.9 120.8,847.2 121.0,834.9 121.1,846.2 121.3,836.5 121.4,846.8 121.6,836.8 121.7,847.0 121.9,836.0 122.0,847.5 122.2,837.0 122.3,848.0 122.5,836.1 122.6,848.3 122.8,835.1 122.9,848.7 123.1,837.0 123.2,848.2 123.4,836.6 123.5,848.8 123.7,836.5 123.8,849.0 124.0,838.3 124.1,849.0 124.3,837.7 124.4,849.1 124.6,836.3 124.7,849.1 124.9,837.5 125.0,850.0 125.2,837.6 125.3,850.1 125.5,837.9 125.6,851.0 125.8,839.0 125.9,850.2 126.1,838.9 126.2,850.8 126.4,838.2 126.5,850.4 126.7,839.3 126.8,850.8 127.0,837.9 127.1,851.1 127.3,838.6 127.4,850.7 127.6,839.3 127.7,850.9 127.9,838.8 128.0,851.6 128.2,838.5 128.3,851.6 128.5,840.3 128.6,852.4 128.8,838.9 128.9,852.1 129.1,840.2 129.2,852.7 129.4,841.0 129.5,852.2 129.7,840.7 129.8,852.7 130.0,840.2 130.1,852.7 130.3,839.8 130.4,853.1 130.6,840.7 130.7,853.6 130.9,840.7 131.0,854.4 131.2,841.5 131.3,853.5 131.5,837.7 131.6,854.3 131.8,841.9 131.9,854.7 132.1,840.7 132.2,854.4 132.4,841.3 132.5,854.4 132.7,840.8 132.8,854.6 133.0,842.9 133.1,855.1 133.3,841.0 133.4,855.5 133.6,842.5 133.7,855.1 133.9,841.7 134.0,856.3 134.2,843.2 134.3,855.5 134.5,843.4 134.6,856.0 134.8,843.3 134.9,856.4 135.1,843.5 135.2,856.5 135.4,843.8 135.5,856.7 135.7,844.0 135.8,857.8 136.0,843.2 136.1,857.1 136.3,843.5 136.4,857.6 136.6,844.5 136.7,858.0 136.9,844.2 137.0,858.1 137.2,841.9 137.3,858.0 137.5,843.1 137.6,858.3 137.8,844.4 137.9,857.9 138.1,845.9 138.2,858.2 138.4,844.6 138.5,858.5 138.7,844.3 138.8,858.4 139.0,845.0 139.1,858.8 139.3,844.4 139.4,858.8 139.6,842.8 139.7,859.7 139.9,843.5 140.0,859.3 140.2,844.6 140.3,859.8 140.5,844.5 140.6,859.1 140.8,846.0 140.9,859.5 141.1,844.9 141.2,860.0 141.4,844.9 141.5,860.4 141.7,844.5 141.8,860.9 142.0,844.1 142.1,859.9 142.3,843.0 142.4,860.4 142.6,847.3 142.7,861.1 142.9,845.5 143.0,861.2 143.2,845.6 143.3,862.0 143.5,846.2 143.6,862.5 143.8,846.9 143.9,862.3 144.1,845.4 144.2,862.3 144.4,846.6 144.5,862.7 144.7,849.0 144.8,863.0 145.0,847.0 145.1,863.7 145.3,848.3 145.4,864.0 145.6,849.5 145.7,864.7 145.9,846.8 146.0,864.3 146.2,849.0 146.3,864.4 146.5,849.9 146.6,864.6 146.8,845.5 146.9,864.8 147.1,847.4 147.2,866.2 147.4,850.3 147.5,865.7 147.7,850.4 147.8,866.6 148.0,851.1 148.1,866.0 148.3,849.1 148.4,867.1 148.6,850.6 148.7,867.3 148.9,852.5 149.0,866.8 149.2,850.0 149.3,866.8 149.5,852.2 149.6,867.7 149.8,852.2 149.9,867.7 150.1,851.1 150.2,867.3 150.4,851.4 150.5,868.6 150.7,849.3 150.8,867.3 151.0,851.6 151.1,868.1 151.3,851.9 151.4,868.8 151.6,852.1 151.7,868.7 151.9,852.2 152.0,869.1 152.2,853.3 152.3,869.7 152.5,851.1 152.6,869.4 152.8,852.0 152.9,868.8 153.1,853.8 153.2,869.8 153.4,852.7 153.5,869.4 153.7,853.3 153.8,870.4 154.0,853.0 154.1,870.2 154.3,854.4 154.4,870.1 154.6,852.2 154.7,870.9 154.9,852.4 155.0,871.8 155.2,849.4 155.3,871.2 155.5,853.3 155.6,871.9 155.8,854.4 155.9,871.7 156.1,853.0 156.2,871.1 156.4,855.4 156.5,871.9 156.7,854.1 156.8,871.3 157.0,853.6 157.1,872.0 157.3,852.5 157.4,871.7 157.6,855.5 157.7,872.5 157.9,855.0 158.0,872.2 158.2,856.3 158.3,872.3 158.5,855.6 158.6,873.1 158.8,854.2 158.9,874.0 159.1,851.1 159.2,873.6 159.4,856.6 159.5,874.1 159.7,854.1 159.8,873.7 160.0,854.1 160.1,874.4 160.3,855.6 160.4,874.5 160.6,856.7 160.7,874.8 160.9,854.8 161.0,875.1 161.2,855.8 161.3,875.7 161.5,857.1 161.6,875.1 161.8,857.9 161.9,875.5 162.1,856.5 162.2,875.4 162.4,858.2 162.5,875.6 162.7,857.4 162.8,875.5 163.0,859.1 163.1,876.4 163.3,857.1 163.4,875.8 163.6,857.4 163.7,876.7 163.9,858.6 164.0,877.0 164.2,858.6 164.3,876.7 164.5,855.2 164.6,877.5 164.8,857.7 164.9,876.5 165.1,857.4 165.2,876.6 165.4,858.4 165.5,876.9 165.7,857.2 165.8,877.2 166.0,859.3 166.1,876.8 166.3,858.4 166.4,877.9 166.6,859.6 166.7,877.2 166.9,857.7 167.0,877.7 167.2,860.5 167.3,877.8 167.5,856.1 167.6,877.8 167.8,858.2 167.9,878.0 168.1,861.7 168.2,878.1 168.4,858.4 168.5,878.8 168.7,857.9 168.8,878.8 169.0,857.5 169.1,877.5 169.3,859.0 169.4,879.5 169.6,859.4 169.7,879.3 169.9,857.1 170.0,878.9 170.2,858.9 170.3,878.9 170.5,858.3 170.6,879.4 170.8,858.7 170.9,879.0 171.1,860.1 171.2,879.9 171.4,858.3 171.5,879.9 171.7,859.2 171.8,879.1 172.0,857.7 172.1,879.7 172.3,859.9 172.4,881.0 172.6,861.0 172.7,879.7 172.9,859.0 173.0,880.3 173.2,859.6 173.3,880.1 173.5,859.8 173.6,880.4 173.8,858.8 173.9,880.8 174.1,860.9 174.2,881.1 174.4,859.9 174.5,881.7 174.7,862.7 174.8,881.6 175.0,860.3 175.1,881.7 175.3,861.2 175.4,881.7 175.6,859.2 175.7,881.6 175.9,861.2 176.0,881.0 176.2,860.9 176.3,881.3 176.5,863.5 176.6,881.6 176.8,860.9 176.9,881.7 177.1,860.8 177.2,882.1 177.4,859.3 177.5,882.3 177.7,863.9 177.8,882.7 178.0,861.8 178.1,883.1 178.3,863.5 178.4,882.9 178.6,864.0 178.7,883.0 178.9,859.9 179.0,883.0 179.2,861.7 179.3,883.0 179.5,864.6 179.6,884.1 179.8,862.3 179.9,884.4 180.1,864.3 180.2,883.4 180.4,860.1 180.5,884.5 180.7,863.3 180.8,885.1 181.0,862.3 181.1,883.5 181.3,862.7 181.4,883.5 181.6,864.8 181.7,885.4 181.9,863.4 182.0,884.2 182.2,865.6 182.3,884.6 182.5,863.6 182.6,884.8 182.8,865.7 182.9,885.6 183.1,864.9 183.2,883.5 183.4,864.1 183.5,884.5 183.7,863.2 183.8,885.7 184.0,864.6 184.1,884.7 184.3,865.3 184.4,884.8 184.6,866.1 184.7,885.8 184.9,866.3 185.0,884.6 185.2,861.8 185.3,884.8 185.5,865.8 185.6,886.5 185.8,863.4 185.9,884.8 186.1,864.9 186.2,885.7 186.4,863.2 186.5,885.8 186.7,866.1 186.8,886.2 187.0,864.9 187.1,885.7 187.3,867.7 187.4,886.2 187.6,865.5 187.7,886.4 187.9,866.7 188.0,886.4 188.2,864.9 188.3,886.1 188.5,866.1 188.6,886.0 188.8,866.7 188.9,887.1 189.1,866.1 189.2,887.0 189.4,863.0 189.5,887.1 189.7,865.8 189.8,888.1 190.0,867.7 190.1,887.5 190.3,869.0 190.4,886.9 190.6,867.0 190.7,887.5 190.9,867.5 191.0,886.8 191.2,864.7 191.3,887.6 191.5,867.8 191.6,887.2 191.8,866.0 191.9,887.2 192.1,866.7 192.2,887.5 192.4,868.6 192.5,887.2 192.7,866.1 192.8,886.7 193.0,864.8 193.1,888.3 193.3,869.2 193.4,888.7 193.6,867.3 193.7,887.0 193.9,868.4 194.0,886.6 194.2,868.2 194.3,888.0 194.5,864.8 194.6,888.4 194.8,865.4 194.9,888.4 195.1,865.3 195.2,887.9 195.4,865.6 195.5,888.0 195.7,865.3 195.8,887.8 196.0,867.3 196.1,887.4 196.3,868.4 196.4,887.7 196.6,868.0 196.7,889.0 196.9,864.3 197.0,888.9 197.2,868.8 197.3,888.7 197.5,861.0 197.6,889.1 197.8,866.1 197.9,888.9 198.1,868.9 198.2,890.4 198.4,866.2 198.5,890.0 198.7,864.4 198.8,890.1 199.0,869.1 199.1,889.4 199.3,867.7 199.4,890.4 199.6,867.8 199.7,889.8 199.9,870.8 200.0,890.6 200.2,868.6 200.3,891.3 200.5,870.5 200.6,890.1 200.8,870.1 200.9,891.0 201.1,870.3 201.2,891.0 201.4,871.2 201.5,891.0 201.7,867.4 201.8,889.9 202.0,872.2 202.1,891.5 202.3,871.9 202.4,891.5 202.6,870.5 202.7,891.6 202.9,867.5 203.0,892.2 203.2,869.1 203.3,891.7 203.5,870.9 203.6,891.7 203.8,870.2 203.9,892.4 204.1,869.5 204.2,892.3 204.4,871.8 204.5,892.6 204.7,870.2 204.8,892.4 205.0,870.4 205.1,892.6 205.3,871.7 205.4,892.8 205.6,874.0 205.7,892.6 205.9,871.8 206.0,893.0 206.2,872.9 206.3,892.4 206.5,871.0 206.6,893.6 206.8,870.8 206.9,893.5 207.1,871.6 207.2,893.0 207.4,872.5 207.5,893.0 207.7,871.7 207.8,893.7 208.0,873.9 208.1,894.0 208.3,873.5 208.4,893.5 208.6,875.6 208.7,894.3 208.9,874.5 209.0,894.3 209.2,870.6 209.3,895.5 209.5,875.2 209.6,895.3 209.8,874.3 209.9,896.0 210.1,872.9 210.2,894.7 210.4,873.7 210.5,894.7 210.7,873.1 210.8,894.8 211.0,876.9 211.1,894.7 211.3,873.6 211.4,895.5 211.6,870.6 211.7,896.6 211.9,876.4 212.0,897.1 212.2,874.9 212.3,895.7 212.5,876.3 212.6,896.6 212.8,875.5 212.9,896.9 213.1,876.1 213.2,896.6 213.4,874.4 213.5,896.6 213.7,875.0 213.8,897.0 214.0,873.8 214.1,896.9 214.3,873.7 214.4,897.3 214.6,876.2 214.7,897.6 214.9,876.6 215.0,897.3 215.2,878.1 215.3,897.2 215.5,877.8 215.6,897.1 215.8,875.2 215.9,897.7 216.1,876.1 216.2,898.6 216.4,877.0 216.5,897.8 216.7,875.0 216.8,899.0 217.0,878.2 217.1,899.0 217.3,877.7 217.4,898.5 217.6,878.9 217.7,898.6 217.9,878.3 218.0,898.8 218.2,877.5 218.3,899.1 218.5,878.1 218.6,899.3 218.8,877.6 218.9,898.6 219.1,880.5 219.2,899.0 219.4,874.9 219.5,899.6 219.7,875.1 219.8,900.7 220.0,879.7 220.1,899.7 220.3,878.1 220.4,899.6 220.6,878.4 220.7,899.3 220.9,879.3 221.0,899.7 221.2,877.8 221.3,900.6 221.5,877.4 221.6,901.0 221.8,877.8 221.9,899.8 222.1,879.1 222.2,899.7 222.4,878.7 222.5,900.3 222.7,879.7 222.8,901.4 223.0,881.8 223.1,902.0 223.3,879.5 223.4,901.3 223.6,877.8 223.7,901.1 223.9,879.2 224.0,901.3 224.2,878.6 224.3,901.3 224.5,882.7 224.6,901.4 224.8,876.0 224.9,901.4 225.1,882.0 225.2,902.4 225.4,878.3 225.5,901.8 225.7,879.3 225.8,901.1 226.0,879.7 226.1,901.9 226.3,881.0 226.4,901.8 226.6,880.1 226.7,902.0 226.9,880.8 227.0,902.5 227.2,879.9 227.3,902.3 227.5,880.0 227.6,902.0 227.8,883.7 227.9,902.4 228.1,882.2 228.2,902.8 228.4,882.0 228.5,903.8 228.7,879.1 228.8,902.8 229.0,879.7 229.1,903.0 229.3,882.9 229.4,903.2 229.6,883.2 229.7,904.3 229.9,879.8 230.0,904.0 230.2,883.2 230.3,904.7 230.5,882.1 230.6,904.6 230.8,880.7 230.9,903.7 231.1,882.1 231.2,903.8 231.4,883.9 231.5,903.7 231.7,882.0 231.8,904.2 232.0,881.6 232.1,904.2 232.3,882.4 232.4,903.6 232.6,884.1 232.7,905.0 232.9,881.3 233.0,904.5 233.2,881.0 233.3,905.7 233.5,878.9 233.6,905.3 233.8,880.1 233.9,904.5 234.1,883.6 234.2,904.3 234.4,881.3 234.5,905.2 234.7,880.3 234.8,905.2 235.0,881.7 235.1,906.2 235.3,882.6 235.4,905.2 235.6,880.0 235.7,906.6 235.9,882.9 236.0,905.1 236.2,884.4 236.3,905.4 236.5,884.8 236.6,905.1 236.8,884.6 236.9,905.1 237.1,883.2 237.2,905.6 237.4,885.3 237.5,906.1 237.7,884.1 237.8,906.4 238.0,880.1 238.1,905.3 238.3,882.8 238.4,905.4 238.6,882.2 238.7,906.0 238.9,884.0 239.0,906.3 239.2,884.1 239.3,907.3 239.5,884.4 239.6,905.9 239.8,883.4 239.9,905.4 240.1,884.4 240.2,906.2 240.4,884.2 240.5,907.0 240.7,881.9 240.8,906.9 241.0,884.6 241.1,906.4 241.3,885.3 241.4,906.3 241.6,886.2 241.7,906.7 241.9,886.2 242.0,905.5 242.2,884.5 242.3,907.4 242.5,886.8 242.6,906.2 242.8,883.8 242.9,906.6 243.1,887.4 243.2,907.6 243.4,882.7 243.5,907.5 243.7,884.0 243.8,906.8 244.0,884.4 244.1,906.7 244.3,884.6 244.4,906.5 244.6,885.0 244.7,906.7 244.9,884.3 245.0,907.8 245.2,884.2 245.3,906.8 245.5,885.9 245.6,907.9 245.8,884.9 245.9,906.5 246.1,882.9 246.2,906.7 246.4,883.9 246.5,907.2 246.7,886.5 246.8,907.1 247.0,886.1 247.1,907.8 247.3,884.1 247.4,908.3 247.6,887.3 247.7,907.5 247.9,880.4 248.0,908.5 248.2,884.1 248.3,906.4 248.5,882.5 248.6,907.0 248.8,882.5 248.9,908.0 249.1,887.6 249.2,908.6 249.4,885.4 249.5,907.3 249.7,887.8 249.8,908.2 250.0,885.8 250.1,908.5 250.3,885.3 250.4,907.7 250.6,884.9 250.7,909.0 250.9,886.5 251.0,907.8 251.2,884.7 251.3,907.9 251.5,882.5 251.6,908.3 251.8,885.3 251.9,907.6 252.1,887.5 252.2,907.9 252.4,886.9 252.5,908.5 252.7,886.3 252.8,909.2 253.0,884.2 253.1,909.2 253.3,882.4 253.4,908.7 253.6,885.5 253.7,907.4 253.9,885.9 254.0,908.1 254.2,885.1 254.3,908.5 254.5,883.1 254.6,908.6 254.8,884.6 254.9,908.8 255.1,884.3 255.2,907.8 255.4,888.7 255.5,909.3 255.7,888.4 255.8,908.5 256.0,885.6 256.1,909.8 256.3,887.4 256.4,908.5 256.6,888.9 256.7,909.1 256.9,884.3 257.0,910.2 257.2,883.4 257.3,909.1 257.5,885.8 257.6,908.7 257.8,886.4 257.9,909.2 258.1,887.0 258.2,908.3 258.4,883.9 258.5,909.0 258.7,886.8 258.8,908.7 259.0,888.0 259.1,909.5 259.3,887.7 259.4,909.7 259.6,887.8 259.7,909.7 259.9,887.4 260.0,909.3 260.2,886.9 260.3,909.2 260.5,886.7 260.6,910.3 260.8,883.6 260.9,908.5 261.1,887.2 261.2,909.0 261.4,886.4 261.5,909.9 261.7,886.3 261.8,911.0 262.0,887.7 262.1,909.7 262.3,886.4 262.4,909.2 262.6,885.1 262.7,910.1 262.9,887.8 263.0,909.4 263.2,884.1 263.3,910.2 263.5,887.0 263.6,909.6 263.8,886.4 263.9,909.7 264.1,887.2 264.2,909.8 264.4,889.4 264.5,909.8 264.7,887.4 264.8,910.1 265.0,888.0 265.1,909.3 265.3,884.5 265.4,910.4 265.6,887.9 265.7,910.0 265.9,885.0 266.0,909.6 266.2,884.8 266.3,910.0 266.5,888.3 266.6,910.3 266.8,887.2 266.9,911.5 267.1,887.3 267.2,910.0 267.4,886.3 267.5,911.2 267.7,887.9 267.8,909.6 268.0,885.5 268.1,910.2 268.3,887.6 268.4,910.0 268.6,885.9 268.7,911.3 268.9,888.8 269.0,909.8 269.2,888.4 269.3,910.3 269.5,886.6 269.6,911.1 269.8,884.3 269.9,911.5 270.1,887.6 270.2,911.2 270.4,885.0 270.5,911.9 270.7,889.6 270.8,911.4 271.0,893.6 271.1,910.8 271.3,890.0 271.4,910.2 271.6,889.1 271.7,912.3 271.9,886.9 272.0,912.5 272.2,888.6 272.3,910.6 272.5,888.4 272.6,911.7 272.8,888.9 272.9,911.3 273.1,891.0 273.2,911.5 273.4,890.8 273.5,912.5 273.7,888.1 273.8,912.1 274.0,888.1 274.1,912.5 274.3,892.2 274.4,911.5 274.6,889.1 274.7,913.2 274.9,891.0 275.0,912.9 275.2,887.5 275.3,911.9 275.5,890.1 275.6,911.4 275.8,888.3 275.9,912.6 276.1,887.6 276.2,911.6 276.4,887.1 276.5,913.0 276.7,887.9 276.8,912.7 277.0,887.5 277.1,911.9 277.3,891.9 277.4,912.6 277.6,889.4 277.7,913.4 277.9,889.9 278.0,911.8 278.2,888.6 278.3,912.6 278.5,890.2 278.6,913.7 278.8,889.4 278.9,912.2 279.1,887.2 279.2,912.1 279.4,891.8 279.5,913.2 279.7,892.4 279.8,912.9 280.0,892.4 280.1,914.0 280.3,888.8 280.4,913.1 280.6,891.9 280.7,912.9 280.9,885.2 281.0,913.9 281.2,889.5 281.3,913.6 281.5,884.3 281.6,913.8 281.8,890.0 281.9,913.5 282.1,889.9 282.2,913.4 282.4,891.7 282.5,913.5 282.7,890.1 282.8,913.3 283.0,888.3 283.1,914.4 283.3,891.6 283.4,914.8 283.6,889.7 283.7,913.6 283.9,891.1 284.0,913.8 284.2,889.1 284.3,914.1 284.5,890.4 284.6,914.7 284.8,893.5 284.9,914.4 285.1,887.7 285.2,915.6 285.4,890.8 285.5,913.9 285.7,890.6 285.8,914.4 286.0,892.0 286.1,915.4 286.3,890.4 286.4,914.5 286.6,892.8 286.7,915.2 286.9,890.6 287.0,915.0 287.2,892.6 287.3,913.9 287.5,891.2 287.6,915.1 287.8,891.7 287.9,915.2 288.1,891.1 288.2,914.9 288.4,888.5 288.5,914.9 288.7,891.8 288.8,915.5 289.0,889.7 289.1,916.4 289.3,889.6 289.4,915.8 289.6,893.5 289.7,915.9 289.9,893.5 290.0,915.3 290.2,892.4 290.3,915.1 290.5,893.9 290.6,915.3 290.8,890.5 290.9,915.5 291.1,892.4 291.2,915.3 291.4,891.1 291.5,916.0 291.7,892.0 291.8,915.5 292.0,894.2 292.1,915.3 292.3,892.3 292.4,916.0 292.6,892.0 292.7,915.5 292.9,894.2 293.0,915.1 293.2,889.6 293.3,916.5 293.5,893.6 293.6,914.9 293.8,890.7 293.9,914.7 294.1,888.8 294.2,916.4 294.4,892.6 294.5,916.2 294.7,893.0 294.8,914.9 295.0,892.9 295.1,915.6 295.3,891.9 295.4,915.0 295.6,892.2 295.7,916.1 295.9,891.4 296.0,915.0 296.2,891.1 296.3,917.1 296.5,891.7 296.6,916.4 296.8,892.3 296.9,916.8 297.1,894.9 297.2,915.3 297.4,891.4 297.5,915.4 297.7,890.8 297.8,916.4 298.0,891.3 298.1,915.9 298.3,893.5 298.4,917.1 298.6,893.8 298.7,916.2 298.9,894.6 299.0,915.7 299.2,893.2 299.3,915.8 299.5,895.5 299.6,916.0 299.8,891.7 299.9,917.0 300.1,894.3 300.2,916.4 300.4,892.9 300.5,915.8 300.7,888.2 300.8,916.5 301.0,890.7 301.1,916.8 301.3,891.1 301.4,916.0 301.6,891.7 301.7,917.7 301.9,893.7 302.0,916.3 302.2,891.7 302.3,916.4 302.5,893.9 302.6,917.0 302.8,892.2 302.9,916.1 303.1,891.3 303.2,916.8 303.4,893.1 303.5,916.8 303.7,891.6 303.8,917.1 304.0,893.9 304.1,916.8 304.3,892.1 304.4,918.0 304.6,892.6 304.7,918.6 304.9,892.6 305.0,917.2 305.2,896.4 305.3,917.3 305.5,895.6 305.6,917.5 305.8,891.5 305.9,918.2 306.1,894.3 306.2,917.4 306.4,894.1 306.5,916.4 306.7,895.1 306.8,917.1 307.0,894.9 307.1,917.2 307.3,889.7 307.4,917.3 307.6,895.5 307.7,918.0 307.9,891.5 308.0,918.4 308.2,896.1 308.3,917.0 308.5,892.2 308.6,917.3 308.8,895.0 308.9,917.4 309.1,894.1 309.2,919.2 309.4,890.6 309.5,919.1 309.7,897.0 309.8,918.1 310.0,894.9 310.1,918.3 310.3,897.6 310.4,918.9 310.6,890.8 310.7,917.8 310.9,888.4 311.0,917.1 311.2,891.7 311.3,918.0 311.5,893.2 311.6,918.7 311.8,898.1 311.9,918.6 312.1,895.9 312.2,918.0 312.4,897.6 312.5,919.5 312.7,898.1 312.8,918.7 313.0,895.5 313.1,918.9 313.3,894.8 313.4,919.5 313.6,897.4 313.7,919.7 313.9,896.7 314.0,919.3 314.2,897.4 314.3,918.7 314.5,897.4 314.6,919.5 314.8,892.1 314.9,919.4 315.1,895.8 315.2,920.3 315.4,894.8 315.5,919.3 315.7,894.6 315.8,919.6 316.0,896.6 316.1,919.1 316.3,896.8 316.4,919.3 316.6,895.3 316.7,920.3 316.9,896.2 317.0,919.9 317.2,898.6 317.3,919.3 317.5,895.1 317.6,919.7 317.8,895.9 317.9,919.3 318.1,898.2 318.2,921.0 318.4,897.2 318.5,919.0 318.7,895.6 318.8,920.3 319.0,899.2 319.1,921.4 319.3,896.2 319.4,921.0 319.6,899.8 319.7,920.9 319.9,896.6 320.0,920.6 320.2,898.0 320.3,919.9 320.5,897.8 320.6,921.7 320.8,898.9 320.9,920.2 321.1,897.6 321.2,921.5 321.4,897.2 321.5,920.2 321.7,900.5 321.8,921.3 322.0,898.0 322.1,920.7 322.3,899.2 322.4,921.0 322.6,898.5 322.7,920.6 322.9,898.8 323.0,919.8 323.2,898.0 323.3,920.2 323.5,893.7 323.6,922.1 323.8,898.7 323.9,921.0 324.1,894.9 324.2,921.1 324.4,898.9 324.5,921.6 324.7,898.0 324.8,920.6 325.0,898.5 325.1,920.7 325.3,899.0 325.4,920.9 325.6,898.4 325.7,921.0 325.9,898.1 326.0,920.3 326.2,898.3 326.3,920.0 326.5,895.4 326.6,921.7 326.8,895.6 326.9,919.9 327.1,899.6 327.2,919.6 327.4,894.8 327.5,921.2 327.7,897.8 327.8,920.8 328.0,896.5 328.1,920.3 328.3,894.8 328.4,920.7 328.6,900.2 328.7,921.4 328.9,897.7 329.0,922.1 329.2,896.4 329.3,920.5 329.5,897.9 329.6,921.5 329.8,896.9 329.9,920.9 330.1,896.6 330.2,920.8 330.4,900.0 330.5,921.4 330.7,899.0 330.8,921.2 331.0,896.9 331.1,920.9 331.3,897.2 331.4,920.8 331.6,898.7 331.7,921.4 331.9,898.0 332.0,922.0 332.2,898.8 332.3,921.7 332.5,896.5 332.6,920.8 332.8,901.0 332.9,921.7 333.1,898.3 333.2,921.5 333.4,899.9 333.5,921.7 333.7,895.9 333.8,921.3 334.0,898.2 334.1,921.0 334.3,897.3 334.4,922.8 334.6,900.1 334.7,922.1 334.9,898.8 335.0,921.6 335.2,898.8 335.3,921.2 335.5,897.3 335.6,920.7 335.8,901.2 335.9,922.5 336.1,901.6 336.2,922.4 336.4,898.6 336.5,921.6 336.7,899.0 336.8,921.0 337.0,897.9 337.1,921.5 337.3,896.8 337.4,922.1 337.6,898.0 337.7,920.3 337.9,897.0 338.0,921.4 338.2,899.7 338.3,921.6 338.5,895.9 338.6,921.8 338.8,899.1 338.9,921.6 339.1,899.7 339.2,921.6 339.4,898.2 339.5,920.9 339.7,893.3 339.8,921.5 340.0,896.3 340.1,921.4 340.3,898.4 340.4,920.8 340.6,898.7 340.7,921.3 340.9,897.3 341.0,921.5 341.2,900.4 341.3,920.8 341.5,895.7 341.6,921.8 341.8,897.8 341.9,920.4 342.1,899.0 342.2,921.2 342.4,900.3 342.5,920.9 342.7,899.3 342.8,920.8 343.0,898.3 343.1,922.1 343.3,899.0 343.4,922.0 343.6,900.8 343.7,921.3 343.9,897.4 344.0,922.0 344.2,899.6 344.3,920.9 344.5,895.7 344.6,921.4 344.8,899.0 344.9,921.1 345.1,900.0 345.2,921.1 345.4,896.7 345.5,922.6 345.7,899.6 345.8,922.4 346.0,899.2 346.1,921.8 346.3,898.0 346.4,921.5 346.6,897.6 346.7,922.9 346.9,896.4 347.0,922.7 347.2,896.4 347.3,922.2 347.5,899.3 347.6,920.5 347.8,897.4 347.9,922.4 348.1,900.6 348.2,922.2 348.4,900.3 348.5,921.6 348.7,897.2 348.8,921.3 349.0,897.7 349.1,921.4 349.3,899.1 349.4,921.3 349.6,897.5 349.7,921.9 349.9,898.7 350.0,922.1 350.2,900.5 350.3,922.8 350.5,897.6 350.6,922.1 350.8,900.5 350.9,922.0 351.1,896.3 351.2,922.1 351.4,897.1 351.5,921.8 351.7,902.4 351.8,922.9 352.0,901.6 352.1,921.7 352.3,898.0 352.4,922.2 352.6,899.6 352.7,922.5 352.9,896.9 353.0,923.2 353.2,897.2 353.3,921.6 353.5,899.1 353.6,923.0 353.8,900.9 353.9,921.7 354.1,901.1 354.2,921.9 354.4,899.5 354.5,922.0 354.7,895.5 354.8,921.3 355.0,897.6 355.1,921.5 355.3,898.9 355.4,922.5 355.6,897.3 355.7,922.1 355.9,898.1 356.0,921.6 356.2,899.0 356.3,921.7 356.5,898.7 356.6,923.0 356.8,898.7 356.9,923.1 357.1,894.7 357.2,922.5 357.4,899.3 357.5,923.0 357.7,896.7 357.8,922.6 358.0,899.0 358.1,922.9 358.3,899.7 358.4,922.1 358.6,893.9 358.7,922.3 358.9,901.0 359.0,922.3 359.2,898.6 359.3,921.9 359.5,901.1 359.6,922.1 359.8,902.4 359.9,923.0 360.1,896.2 360.2,922.4 360.4,901.3 360.5,922.6 360.7,899.7 360.8,923.8 361.0,901.7 361.1,922.7 361.3,899.5 361.4,922.4 361.6,901.9 361.7,923.4 361.9,901.0 362.0,922.9 362.2,897.7 362.3,923.8 362.5,898.5 362.6,923.7 362.8,899.8 362.9,923.3 363.1,897.9 363.2,922.9 363.4,900.9 363.5,922.8 363.7,895.9 363.8,923.1 364.0,900.9 364.1,923.5 364.3,901.9 364.4,923.2 364.6,899.6 364.7,923.5 364.9,897.7 365.0,924.5 365.2,899.9 365.3,923.9 365.5,901.7 365.6,924.6 365.8,899.3 365.9,923.5 366.1,901.2 366.2,922.9 366.4,900.7 366.5,923.4 366.7,898.9 366.8,922.5 367.0,902.9 367.1,922.9 367.3,898.5 367.4,923.4 367.6,894.2 367.7,923.0 367.9,897.8 368.0,923.8 368.2,895.2 368.3,923.8 368.5,900.2 368.6,922.1 368.8,899.4 368.9,923.4 369.1,894.4 369.2,923.9 369.4,900.8 369.5,923.5 369.7,897.6 369.8,923.6 370.0,901.2 370.1,924.2 370.3,901.0 370.4,924.8 370.6,899.3 370.7,923.9 370.9,899.6 371.0,924.2 371.2,900.5 371.3,924.0 371.5,901.0 371.6,923.3 371.8,899.6 371.9,923.7 372.1,902.3 372.2,925.0 372.4,899.3 372.5,923.9 372.7,894.2 372.8,925.1 373.0,899.4 373.1,923.8 373.3,904.2 373.4,923.8 373.6,902.6 373.7,923.2 373.9,901.9 374.0,924.3 374.2,901.5 374.3,924.0 374.5,901.1 374.6,923.8 374.8,901.8 374.9,924.1 375.1,901.9 375.2,924.7 375.4,901.6 375.5,923.7 375.7,900.1 375.8,923.8 376.0,902.6 376.1,924.3 376.3,901.2 376.4,924.8 376.6,902.0 376.7,924.7 376.9,904.7 377.0,924.1 377.2,903.1 377.3,925.4 377.5,901.9 377.6,924.4 377.8,901.1 377.9,924.0 378.1,902.5 378.2,924.3 378.4,903.3 378.5,924.6 378.7,901.3 378.8,924.0 379.0,902.6 379.1,925.8 379.3,900.3 379.4,923.9 379.6,903.1 379.7,925.1 379.9,901.4 380.0,924.2 380.2,898.0 380.3,925.5 380.5,900.8 380.6,925.9 380.8,904.5 380.9,925.0 381.1,903.4 381.2,925.0 381.4,902.3 381.5,924.4 381.7,900.8 381.8,924.5 382.0,903.6 382.1,926.0 382.3,902.8 382.4,925.6 382.6,901.3 382.7,925.3 382.9,904.1 383.0,924.8 383.2,902.1 383.3,925.0 383.5,902.7 383.6,925.4 383.8,900.1 383.9,925.5 384.1,897.9 384.2,924.7 384.4,902.6 384.5,925.2 384.7,902.6 384.8,925.9 385.0,901.1 385.1,925.4 385.3,903.4 385.4,924.1 385.6,900.4 385.7,925.2 385.9,902.2 386.0,924.9 386.2,903.0 386.3,926.1 386.5,901.7 386.6,925.3 386.8,901.8 386.9,925.7 387.1,896.6 387.2,924.5 387.4,899.9 387.5,925.0 387.7,900.5 387.8,925.3 388.0,899.9 388.1,926.1 388.3,897.8 388.4,925.4 388.6,904.7 388.7,925.0 388.9,896.9 389.0,925.0 389.2,901.2 389.3,925.2 389.5,899.7 389.6,924.6 389.8,901.6 389.9,926.3 390.1,901.5 390.2,925.8 390.4,901.2 390.5,926.2 390.7,898.5 390.8,925.8 391.0,899.8 391.1,926.4 391.3,902.6 391.4,925.7 391.6,902.2 391.7,925.8 391.9,905.1 392.0,927.1 392.2,901.6 392.3,925.5 392.5,900.6 392.6,925.1 392.8,902.5 392.9,926.6 393.1,903.2 393.2,926.8 393.4,895.1 393.5,926.6 393.7,904.4 393.8,927.3 394.0,901.8 394.1,925.6 394.3,898.4 394.4,926.3 394.6,900.2 394.7,926.6 394.9,902.2 395.0,926.1 395.2,903.9 395.3,925.8 395.5,902.4 395.6,925.6 395.8,904.1 395.9,926.2 396.1,900.6 396.2,925.7 396.4,904.4 396.5,926.2 396.7,900.6 396.8,926.1 397.0,904.0 397.1,926.7 397.3,900.3 397.4,926.1 397.6,904.8 397.7,926.9 397.9,905.4 398.0,926.6 398.2,901.3 398.3,926.0 398.5,900.2 398.6,926.3 398.8,903.9 398.9,926.9 399.1,901.3 399.2,926.8 399.4,903.2 399.5,927.2 399.7,901.4 399.8,926.8 400.0,904.9 400.1,927.4 400.3,901.4 400.4,926.6 400.6,903.0 400.7,926.5 400.9,905.2 401.0,927.6 401.2,903.2 401.3,926.5 401.5,901.7 401.6,927.2 401.8,900.0 401.9,926.9 402.1,904.3 402.2,926.7 402.4,902.4 402.5,926.4 402.7,902.2 402.8,927.4 403.0,902.5 403.1,926.1 403.3,902.5 403.4,926.4 403.6,901.1 403.7,926.9 403.9,902.6 404.0,927.6 404.2,905.6 404.3,926.3 404.5,904.1 404.6,926.7 404.8,902.7 404.9,926.6 405.1,905.0 405.2,926.3 405.4,905.8 405.5,927.6 405.7,900.8 405.8,926.7 406.0,899.5 406.1,927.8 406.3,904.5 406.4,927.2 406.6,903.2 406.7,927.8 406.9,902.7 407.0,927.3 407.2,904.5 407.3,926.9 407.5,903.2 407.6,927.9 407.8,905.3 407.9,926.1 408.1,900.5 408.2,927.0 408.4,899.0 408.5,926.4 408.7,899.7 408.8,926.5 409.0,904.3 409.1,926.7 409.3,906.2 409.4,926.9 409.6,901.1 409.7,926.6 409.9,904.7 410.0,926.6 410.2,905.8 410.3,927.6 410.5,905.7 410.6,925.9 410.8,904.9 410.9,926.9 411.1,903.3 411.2,926.7 411.4,901.7 411.5,926.1 411.7,906.0 411.8,926.4 412.0,902.5 412.1,926.3 412.3,903.3 412.4,927.1 412.6,903.0 412.7,926.0 412.9,903.6 413.0,927.9 413.2,901.7 413.3,926.6 413.5,902.8 413.6,925.5 413.8,903.6 413.9,926.3 414.1,899.8 414.2,926.7 414.4,902.3 414.5,926.5 414.7,903.1 414.8,926.2 415.0,903.1 415.1,927.0 415.3,900.7 415.4,926.6 415.6,902.7 415.7,926.6 415.9,904.9 416.0,927.2 416.2,902.5 416.3,926.6 416.5,902.6 416.6,927.3 416.8,901.8 416.9,926.3 417.1,905.5 417.2,926.4 417.4,903.8 417.5,927.4 417.7,899.0 417.8,926.6 418.0,902.2 418.1,926.3 418.3,901.9 418.4,926.7 418.6,900.8 418.7,927.0 418.9,904.5 419.0,927.0 419.2,900.8 419.3,926.6 419.5,901.4 419.6,925.3 419.8,904.9 419.9,928.0 420.1,904.1 420.2,926.3 420.4,905.8 420.5,927.0 420.7,904.7 420.8,927.1 421.0,905.5 421.1,927.1 421.3,899.9 421.4,928.1 421.6,902.5 421.7,926.9 421.9,903.3 422.0,927.5 422.2,902.7 422.3,926.8 422.5,905.1 422.6,928.1 422.8,905.7 422.9,927.1 423.1,902.6 423.2,926.6 423.4,900.3 423.5,926.5 423.7,902.7 423.8,926.2 424.0,901.2 424.1,926.6 424.3,901.9 424.4,926.9 424.6,903.2 424.7,927.0 424.9,903.0 425.0,927.8 425.2,902.2 425.3,926.7 425.5,903.2 425.6,928.0 425.8,902.3 425.9,928.0 426.1,903.4 426.2,926.8 426.4,905.1 426.5,925.8 426.7,904.2 426.8,926.6 427.0,901.7 427.1,926.9 427.3,902.8 427.4,926.5 427.6,906.4 427.7,927.0 427.9,900.2 428.0,928.3 428.2,904.4 428.3,927.0 428.5,899.6 428.6,926.7 428.8,902.6 428.9,926.5 429.1,901.8 429.2,927.4 429.4,904.0 429.5,927.3 429.7,902.0 429.8,926.9 430.0,903.5 430.1,928.0 430.3,903.4 430.4,927.4 430.6,903.6 430.7,927.9 430.9,903.0 431.0,927.8 431.2,900.0 431.3,926.8 431.5,900.4 431.6,927.1 431.8,900.4 431.9,926.9 432.1,903.7 432.2,928.1 432.4,902.6 432.5,927.0 432.7,903.7 432.8,926.3 433.0,903.5 433.1,927.5 433.3,902.8 433.4,927.3 433.6,904.7 433.7,927.8 433.9,900.3 434.0,926.8 434.2,903.0 434.3,927.2 434.5,898.2 434.6,927.5 434.8,903.8 434.9,927.3 435.1,901.0 435.2,927.6 435.4,903.6 435.5,927.2 435.7,903.9 435.8,927.8 436.0,900.6 436.1,928.6 436.3,900.4 436.4,927.2 436.6,902.0 436.7,927.8 436.9,904.1 437.0,927.4 437.2,905.3 437.3,927.2 437.5,904.7 437.6,928.3 437.8,904.4 437.9,927.8 438.1,900.3 438.2,928.1 438.4,904.4 438.5,927.3 438.7,902.5 438.8,928.4 439.0,903.5 439.1,927.1 439.3,902.9 439.4,927.2 439.6,904.2 439.7,927.3 439.9,902.6 440.0,927.9 440.2,906.5 440.3,927.1 440.5,902.1 440.6,927.9 440.8,901.5 440.9,927.7 441.1,904.1 441.2,927.7 441.4,902.4 441.5,928.7 441.7,902.4 441.8,927.9 442.0,904.7 442.1,927.0 442.3,897.9 442.4,927.0 442.6,902.6 442.7,927.9 442.9,899.7 443.0,926.6 443.2,905.3 443.3,927.4 443.5,903.2 443.6,927.8 443.8,904.8 443.9,926.9 444.1,903.6 444.2,927.8 444.4,903.5 444.5,927.3 444.7,900.0 444.8,927.4 445.0,903.9 445.1,927.0 445.3,902.3 445.4,927.6 445.6,904.8 445.7,927.7 445.9,905.0 446.0,926.9 446.2,901.9 446.3,927.2 446.5,901.2 446.6,927.4 446.8,899.5 446.9,927.1 447.1,904.7 447.2,928.3 447.4,901.9 447.5,926.9 447.7,901.8 447.8,927.3 448.0,905.0 448.1,927.3 448.3,905.1 448.4,927.6 448.6,901.5 448.7,927.3 448.9,903.0 449.0,926.7 449.2,902.9 449.3,926.5 449.5,898.4 449.6,926.6 449.8,898.7 449.9,926.7 450.1,902.1 450.2,926.9 450.4,904.6 450.5,927.0 450.7,903.7 450.8,927.3 451.0,903.2 451.1,927.2 451.3,901.0 451.4,927.8 451.6,902.9 451.7,927.2 451.9,905.0 452.0,927.4 452.2,905.0 452.3,928.3 452.5,903.7 452.6,927.6 452.8,903.0 452.9,927.2 453.1,902.4 453.2,926.9 453.4,904.8 453.5,926.9 453.7,902.2 453.8,927.1 454.0,902.6 454.1,927.2 454.3,903.9 454.4,927.5 454.6,901.3 454.7,926.9 454.9,902.6 455.0,927.0 455.2,904.3 455.3,927.1 455.5,903.9 455.6,927.0 455.8,901.8 455.9,927.5 456.1,905.5 456.2,927.1 456.4,904.4 456.5,927.0 456.7,905.3 456.8,927.0 457.0,900.4 457.1,927.3 457.3,895.9 457.4,928.2 457.6,901.0 457.7,928.1 457.9,903.2 458.0,927.4 458.2,899.5 458.3,927.7 458.5,902.8 458.6,927.1 458.8,901.9 458.9,927.3 459.1,899.8 459.2,927.7 459.4,898.9 459.5,927.8 459.7,906.3 459.8,927.7 460.0,905.3 460.1,928.0 460.3,905.1 460.4,927.3 460.6,904.4 460.7,927.7 460.9,903.5 461.0,926.5 461.2,904.2 461.3,927.8 461.5,903.6 461.6,928.6 461.8,903.1 461.9,927.5 462.1,903.6 462.2,928.1 462.4,906.4 462.5,928.2 462.7,900.4 462.8,927.8 463.0,905.5 463.1,929.1 463.3,902.6 463.4,927.6 463.6,901.0 463.7,928.0 463.9,905.8 464.0,927.5 464.2,905.3 464.3,928.2 464.5,904.4 464.6,927.9 464.8,899.7 464.9,928.8 465.1,905.7 465.2,928.8 465.4,901.9 465.5,927.9 465.7,906.3 465.8,927.9 466.0,899.5 466.1,928.5 466.3,902.5 466.4,928.5 466.6,903.7 466.7,928.7 466.9,904.3 467.0,929.6 467.2,904.4 467.3,928.6 467.5,903.8 467.6,928.0 467.8,902.3 467.9,928.5 468.1,900.2 468.2,929.5 468.4,904.5 468.5,928.9 468.7,907.2 468.8,928.5 469.0,906.8 469.1,928.3 469.3,902.5 469.4,928.5 469.6,907.0 469.7,929.0 469.9,901.2 470.0,928.6 470.2,902.8 470.3,928.6 470.5,906.8 470.6,929.2 470.8,906.4 470.9,929.7 471.1,904.7 471.2,928.4 471.4,903.5 471.5,928.5 471.7,904.0 471.8,929.6 472.0,902.0 472.1,928.9 472.3,904.7 472.4,928.4 472.6,905.8 472.7,929.6 472.9,905.5 473.0,929.1 473.2,905.2 473.3,928.6 473.5,905.1 473.6,929.8 473.8,903.9 473.9,929.8 474.1,901.9 474.2,929.0 474.4,906.2 474.5,929.3 474.7,909.0 474.8,930.0 475.0,905.3 475.1,928.5 475.3,907.8 475.4,929.6 475.6,906.8 475.7,929.3 475.9,907.6 476.0,930.4 476.2,904.2 476.3,929.9 476.5,904.4 476.6,928.9 476.8,903.4 476.9,929.5 477.1,897.6 477.2,929.3 477.4,904.1 477.5,929.4 477.7,899.3 477.8,929.2 478.0,908.2 478.1,929.4 478.3,900.1 478.4,928.1 478.6,904.0 478.7,929.1 478.9,906.5 479.0,929.8 479.2,905.7 479.3,929.6 479.5,905.5 479.6,930.0 479.8,909.3 479.9,930.3 480.1,903.7 480.2,929.7 480.4,908.9 480.5,929.2 480.7,906.5 480.8,929.4 481.0,902.7 481.1,929.3 481.3,901.6 481.4,929.5 481.6,905.5 481.7,928.5 481.9,902.2 482.0,928.4 482.2,901.1 482.3,929.6 482.5,904.7 482.6,929.2 482.8,902.8 482.9,929.1 483.1,903.0 483.2,928.9 483.4,903.4 483.5,929.5 483.7,902.0 483.8,928.6 484.0,903.9 484.1,929.1 484.3,908.5 484.4,928.7 484.6,907.5 484.7,928.5 484.9,908.0 485.0,929.1 485.2,903.2 485.3,928.8 485.5,906.3 485.6,929.3 485.8,906.6 485.9,929.1 486.1,902.2 486.2,928.8 486.4,901.6 486.5,929.4 486.7,907.0 486.8,930.1 487.0,901.0 487.1,928.8 487.3,903.4 487.4,929.3 487.6,902.4 487.7,928.9 487.9,900.3 488.0,928.6 488.2,905.5 488.3,929.9 488.5,902.2 488.6,928.8 488.8,905.1 488.9,929.0 489.1,903.5 489.2,928.7 489.4,905.9 489.5,928.5 489.7,906.6 489.8,929.2 490.0,906.5 490.1,928.5 490.3,903.6 490.4,929.2 490.6,905.5 490.7,930.0 490.9,903.3 491.0,929.2 491.2,903.2 491.3,929.0 491.5,904.4 491.6,930.2 491.8,900.0 491.9,928.9 492.1,899.2 492.2,928.7 492.4,904.2 492.5,929.8 492.7,903.1 492.8,928.6 493.0,906.1 493.1,930.0 493.3,906.1 493.4,928.1 493.6,903.6 493.7,928.9 493.9,905.3 494.0,929.5 494.2,902.8 494.3,930.1 494.5,902.9 494.6,929.5 494.8,901.4 494.9,928.8 495.1,904.8 495.2,928.9 495.4,902.8 495.5,929.8 495.7,901.4 495.8,929.5 496.0,906.0 496.1,929.2 496.3,905.7 496.4,930.1 496.6,905.0 496.7,929.4 496.9,904.8 497.0,929.4 497.2,904.9 497.3,929.1 497.5,904.0 497.6,929.2 497.8,905.3 497.9,929.6 498.1,906.1 498.2,928.4 498.4,901.4 498.5,929.2 498.7,903.8 498.8,928.9 499.0,905.0 499.1,929.9 499.3,901.1 499.4,930.1 499.6,905.9 499.7,928.3 499.9,904.3 500.0,929.0 500.2,904.4 500.3,930.3 500.5,903.4 500.6,928.4 500.8,905.0 500.9,929.8 501.1,900.7 501.2,929.1 501.4,901.4 501.5,929.0 501.7,906.2 501.8,928.9 502.0,900.9 502.1,928.8 502.3,902.6 502.4,929.9 502.6,901.0 502.7,929.5 502.9,898.8 503.0,928.8 503.2,902.4 503.3,928.6 503.5,902.8 503.6,928.7 503.8,902.6 503.9,928.8 504.1,907.1 504.2,929.7 504.4,902.2 504.5,929.7 504.7,906.7 504.8,929.1 505.0,905.6 505.1,929.5 505.3,906.8 505.4,928.9 505.6,905.5 505.7,929.1 505.9,905.7 506.0,930.2 506.2,903.9 506.3,929.5 506.5,906.7 506.6,929.5 506.8,906.1 506.9,929.3 507.1,905.6 507.2,929.3 507.4,904.8 507.5,929.1 507.7,903.5 507.8,929.9 508.0,905.1 508.1,930.1 508.3,906.9 508.4,929.3 508.6,904.1 508.7,929.2 508.9,905.8 509.0,929.4 509.2,905.1 509.3,929.6 509.5,903.5 509.6,929.7 509.8,905.3 509.9,928.9 510.1,905.8 510.2,929.7 510.4,902.6 510.5,929.2 510.7,907.4 510.8,928.8 511.0,905.5 511.1,928.9 511.3,907.5 511.4,929.2 511.6,904.4 511.7,929.1 511.9,902.5 512.0,928.7 512.2,906.1 512.3,929.0 512.5,905.1 512.6,929.8 512.8,902.8 512.9,929.9 513.1,906.4 513.2,929.9 513.4,903.1 513.5,928.5 513.7,904.2 513.8,928.8 514.0,909.1 514.1,928.6 514.3,903.4 514.4,928.8 514.6,904.4 514.7,929.1 514.9,903.8 515.0,928.5 515.2,906.3 515.3,929.4 515.5,899.4 515.6,928.6 515.8,903.9 515.9,928.2 516.1,905.4 516.2,929.8 516.4,904.5 516.5,929.0 516.7,906.2 516.8,927.8 517.0,902.7 517.1,929.4 517.3,900.5 517.4,929.0 517.6,901.5 517.7,929.3 517.9,904.4 518.0,929.3 518.2,903.2 518.3,928.8 518.5,902.6 518.6,929.1 518.8,905.7 518.9,929.6 519.1,907.8 519.2,929.0 519.4,904.8 519.5,928.8 519.7,903.9 519.8,929.3 520.0,905.2 520.1,929.4 520.3,903.7 520.4,928.8 520.6,901.9 520.7,928.6 520.9,904.0 521.0,928.8 521.2,906.0 521.3,928.2 521.5,904.5 521.6,929.3 521.8,899.6 521.9,928.7 522.1,907.2 522.2,929.1 522.4,905.4 522.5,929.7 522.7,904.8 522.8,929.4 523.0,906.2 523.1,930.0 523.3,905.5 523.4,930.0 523.6,908.0 523.7,929.6 523.9,908.4 524.0,929.4 524.2,906.3 524.3,928.1 524.5,904.4 524.6,928.7 524.8,907.4 524.9,928.8 525.1,903.6 525.2,930.4 525.4,905.6 525.5,928.4 525.7,902.7 525.8,929.1 526.0,906.8 526.1,928.8 526.3,905.6 526.4,929.3 526.6,905.3 526.7,929.7 526.9,903.0 527.0,929.1 527.2,901.9 527.3,929.3 527.5,905.8 527.6,929.6 527.8,907.8 527.9,929.6 528.1,905.4 528.2,929.1 528.4,905.4 528.5,929.4 528.7,905.1 528.8,929.2 529.0,907.0 529.1,929.9 529.3,901.8 529.4,929.1 529.6,902.1 529.7,930.0 529.9,904.8 530.0,929.1 530.2,904.7 530.3,930.2 530.5,907.5 530.6,929.9 530.8,903.2 530.9,930.0 531.1,904.0 531.2,929.3 531.4,905.8 531.5,929.5 531.7,903.1 531.8,929.9 532.0,902.6 532.1,930.0 532.3,903.0 532.4,929.4 532.6,907.5 532.7,929.1 532.9,905.7 533.0,929.6 533.2,904.9 533.3,930.1 533.5,902.4 533.6,929.8 533.8,902.6 533.9,929.2 534.1,908.9 534.2,929.7 534.4,905.3 534.5,930.3 534.7,904.3 534.8,931.0 535.0,907.6 535.1,930.0 535.3,904.2 535.4,929.4 535.6,905.9 535.7,930.6 535.9,902.6 536.0,930.2 536.2,907.8 536.3,930.0 536.5,901.8 536.6,930.4 536.8,904.4 536.9,930.5 537.1,902.5 537.2,929.9 537.4,905.6 537.5,930.1 537.7,908.3 537.8,930.3 538.0,903.9 538.1,930.5 538.3,904.2 538.4,929.8 538.6,905.0 538.7,931.3 538.9,907.1 539.0,930.3 539.2,904.7 539.3,929.4 539.5,907.0 539.6,930.4 539.8,906.8 539.9,931.3 540.1,906.7 540.2,929.9 540.4,908.2 540.5,930.2 540.7,906.9 540.8,930.4 541.0,904.4 541.1,929.9 541.3,906.5 541.4,929.4 541.6,905.9 541.7,930.1 541.9,900.3 542.0,930.8 542.2,905.7 542.3,929.3 542.5,905.6 542.6,931.2 542.8,908.4 542.9,930.8 543.1,904.6 543.2,930.7 543.4,907.0 543.5,930.4 543.7,906.1 543.8,930.7 544.0,907.0 544.1,930.0 544.3,902.9 544.4,930.5 544.6,907.0 544.7,930.6 544.9,907.3 545.0,930.6 545.2,908.2 545.3,930.7 545.5,906.8 545.6,931.0 545.8,908.8 545.9,930.6 546.1,906.3 546.2,929.7 546.4,903.8 546.5,930.1 546.7,905.0 546.8,931.4 547.0,904.9 547.1,930.4 547.3,907.6 547.4,929.8 547.6,906.0 547.7,930.3 547.9,904.5 548.0,930.3 548.2,903.5 548.3,931.4 548.5,906.3 548.6,930.1 548.8,906.0 548.9,930.2 549.1,906.8 549.2,930.3 549.4,904.4 549.5,931.0 549.7,901.0 549.8,929.7 550.0,907.9 550.1,930.6 550.3,910.0 550.4,929.9 550.6,907.1 550.7,930.9 550.9,904.7 551.0,929.4 551.2,906.0 551.3,929.9 551.5,905.0 551.6,930.0 551.8,906.3 551.9,930.0 552.1,903.2 552.2,929.7 552.4,902.7 552.5,930.6 552.7,906.9 552.8,930.3 553.0,907.2 553.1,930.1 553.3,903.1 553.4,930.6 553.6,905.4 553.7,930.0 553.9,903.8 554.0,930.1 554.2,904.8 554.3,930.1 554.5,908.8 554.6,929.6 554.8,904.5 554.9,930.1 555.1,906.2 555.2,930.6 555.4,903.3 555.5,930.4 555.7,903.9 555.8,930.5 556.0,906.4 556.1,930.4 556.3,902.6 556.4,929.6 556.6,906.0 556.7,931.0 556.9,905.8 557.0,930.4 557.2,908.4 557.3,931.2 557.5,906.8 557.6,930.4 557.8,904.1 557.9,930.5 558.1,901.6 558.2,930.3 558.4,906.5 558.5,930.7 558.7,902.1 558.8,929.5 559.0,908.6 559.1,930.5 559.3,905.8 559.4,930.2 559.6,904.4 559.7,929.7 559.9,908.2 560.0,929.8 560.2,899.4 560.3,929.8 560.5,902.0 560.6,931.3 560.8,901.3 560.9,930.8 561.1,904.9 561.2,930.6 561.4,901.0 561.5,930.5 561.7,906.9 561.8,930.3 562.0,909.4 562.1,930.1 562.3,906.6 562.4,929.9 562.6,905.2 562.7,930.0 562.9,907.0 563.0,930.0 563.2,906.7 563.3,930.2 563.5,904.0 563.6,929.8 563.8,902.6 563.9,929.9 564.1,902.6 564.2,929.4 564.4,906.8 564.5,930.6 564.7,904.9 564.8,929.9 565.0,906.9 565.1,930.8 565.3,903.9 565.4,930.1 565.6,906.0 565.7,930.5 565.9,908.3 566.0,930.7 566.2,903.8 566.3,931.2 566.5,904.6 566.6,929.4 566.8,905.9 566.9,930.5 567.1,908.1 567.2,930.2 567.4,906.1 567.5,930.4 567.7,903.6 567.8,930.2 568.0,905.2 568.1,929.9 568.3,899.6 568.4,930.2 568.6,905.7 568.7,931.0 568.9,904.1 569.0,931.4 569.2,905.7 569.3,929.6 569.5,904.5 569.6,930.7 569.8,906.7 569.9,930.3 570.1,903.6 570.2,930.8 570.4,905.2 570.5,929.8 570.7,907.0 570.8,930.6 571.0,906.7 571.1,930.5 571.3,905.0 571.4,930.3 571.6,902.3 571.7,931.5 571.9,902.2 572.0,931.5 572.2,906.8 572.3,929.7 572.5,904.3 572.6,930.1 572.8,905.7 572.9,929.9 573.1,906.1 573.2,930.7 573.4,905.4 573.5,931.5 573.7,906.3 573.8,930.0 574.0,908.4 574.1,930.8 574.3,907.2 574.4,929.7 574.6,903.2 574.7,930.8 574.9,903.9 575.0,930.3 575.2,903.3 575.3,930.5 575.5,905.0 575.6,930.5 575.8,899.9 575.9,930.8 576.1,905.1 576.2,930.4 576.4,907.8 576.5,931.4 576.7,908.3 576.8,931.7 577.0,904.8 577.1,930.2 577.3,906.1 577.4,930.7 577.6,906.2 577.7,930.6 577.9,905.0 578.0,930.8 578.2,908.4 578.3,930.2 578.5,906.1 578.6,931.7 578.8,906.0 578.9,930.0 579.1,907.2 579.2,929.9 579.4,909.6 579.5,931.5 579.7,905.6 579.8,931.2 580.0,906.4 580.1,930.7 580.3,904.9 580.4,930.8 580.6,908.1 580.7,930.0 580.9,911.4 581.0,930.8 581.2,907.1 581.3,930.5 581.5,905.1 581.6,930.0 581.8,905.2 581.9,930.9 582.1,908.0 582.2,931.5 582.4,904.6 582.5,930.6 582.7,904.5 582.8,930.9 583.0,906.9 583.1,931.1 583.3,903.9 583.4,929.9 583.6,904.7 583.7,930.3 583.9,908.0 584.0,930.8 584.2,903.5 584.3,931.0 584.5,906.4 584.6,930.6 584.8,906.4 584.9,931.1 585.1,900.3 585.2,930.4 585.4,906.6 585.5,930.6 585.7,907.9 585.8,930.3 586.0,909.2 586.1,929.8 586.3,904.8 586.4,930.7 586.6,905.2 586.7,931.1 586.9,904.7 587.0,930.9 587.2,904.5 587.3,930.8 587.5,906.3 587.6,930.4 587.8,904.6 587.9,929.9 588.1,907.5 588.2,929.8 588.4,905.4 588.5,930.7 588.7,906.0 588.8,929.5 589.0,900.2 589.1,931.5 589.3,908.9 589.4,930.3 589.6,907.3 589.7,930.9 589.9,903.0 590.0,931.0 590.2,904.5 590.3,930.4 590.5,908.5 590.6,930.5 590.8,907.6 590.9,929.9 591.1,906.6 591.2,930.8 591.4,900.1 591.5,931.4 591.7,907.3 591.8,930.2 592.0,905.0 592.1,930.5 592.3,907.2 592.4,930.1 592.6,902.7 592.7,930.6 592.9,906.7 593.0,930.0 593.2,909.8 593.3,930.5 593.5,902.9 593.6,930.5 593.8,909.5 593.9,930.8 594.1,904.9 594.2,929.8 594.4,908.1 594.5,931.0 594.7,903.0 594.8,930.2 595.0,905.7 595.1,930.5 595.3,908.5 595.4,930.5 595.6,906.5 595.7,930.9 595.9,902.9 596.0,931.3 596.2,907.9 596.3,930.6 596.5,900.6 596.6,929.9 596.8,904.6 596.9,930.4 597.1,903.6 597.2,930.3 597.4,904.4 597.5,931.3 597.7,905.4 597.8,930.7 598.0,905.9 598.1,931.4 598.3,900.9 598.4,931.2 598.6,906.7 598.7,929.9 598.9,905.6 599.0,930.0 599.2,903.2 599.3,930.7 599.5,903.2 599.6,930.2 599.8,899.2 599.9,930.5 600.1,903.1 600.2,931.0 600.4,907.3 600.5,930.2 600.7,907.5 600.8,931.3 601.0,906.3 601.1,930.2 601.3,905.9 601.4,930.1 601.6,909.7 601.7,930.3 601.9,903.5 602.0,929.8 602.2,905.5 602.3,930.5 602.5,903.5 602.6,930.7 602.8,907.3 602.9,930.9 603.1,901.4 603.2,930.4 603.4,905.6 603.5,930.2 603.7,909.2 603.8,930.7 604.0,899.7 604.1,930.1 604.3,907.4 604.4,930.7 604.6,905.3 604.7,930.5 604.9,905.8 605.0,930.8 605.2,904.9 605.3,930.3 605.5,904.8 605.6,930.8 605.8,905.8 605.9,931.2 606.1,907.5 606.2,930.9 606.4,902.2 606.5,931.3 606.7,905.9 606.8,930.2 607.0,905.8 607.1,930.6 607.3,905.0 607.4,931.6 607.6,908.3 607.7,930.6 607.9,909.5 608.0,930.1 608.2,907.5 608.3,930.5 608.5,907.5 608.6,930.7 608.8,908.7 608.9,930.6 609.1,911.2 609.2,931.1 609.4,905.6 609.5,930.4 609.7,903.9 609.8,930.6 610.0,908.4 610.1,931.2 610.3,906.6 610.4,930.2 610.6,908.1 610.7,930.5 610.9,898.2 611.0,930.3 611.2,905.6 611.3,930.1 611.5,902.9 611.6,930.4 611.8,907.3 611.9,931.3 612.1,907.9 612.2,930.7 612.4,907.0 612.5,930.4 612.7,906.1 612.8,930.5 613.0,907.2 613.1,930.3 613.3,903.6 613.4,930.5 613.6,906.2 613.7,930.5 613.9,909.0 614.0,930.3 614.2,906.4 614.3,930.5 614.5,905.1 614.6,930.5 614.8,907.7 614.9,930.9 615.1,904.3 615.2,930.8 615.4,905.4 615.5,930.0 615.7,905.7 615.8,931.0 616.0,906.1 616.1,931.2 616.3,904.3 616.4,930.9 616.6,903.1 616.7,931.2 616.9,906.6 617.0,930.7 617.2,907.9 617.3,930.1 617.5,908.3 617.6,929.9 617.8,903.8 617.9,931.4 618.1,907.4 618.2,930.5 618.4,908.7 618.5,931.5 618.7,905.4 618.8,930.2 619.0,907.3 619.1,930.7 619.3,906.1 619.4,930.4 619.6,908.3 619.7,931.0 619.9,906.6 620.0,930.4 620.2,906.4 620.3,930.9 620.5,905.3 620.6,930.7 620.8,907.9 620.9,930.8 621.1,907.0 621.2,930.1 621.4,904.5 621.5,930.3 621.7,906.0 621.8,931.0 622.0,907.7 622.1,930.9 622.3,904.6 622.4,931.0 622.6,906.6 622.7,931.1 622.9,905.4 623.0,930.3 623.2,903.1 623.3,930.8 623.5,906.1 623.6,930.8 623.8,906.2 623.9,929.8 624.1,906.9 624.2,930.1 624.4,905.1 624.5,931.3 624.7,907.4 624.8,930.1 625.0,907.8 625.1,930.7 625.3,907.9 625.4,931.1 625.6,904.9 625.7,930.3 625.9,904.4 626.0,930.2 626.2,905.0 626.3,929.9 626.5,906.5 626.6,930.7 626.8,905.4 626.9,930.7 627.1,907.8 627.2,930.9 627.4,905.3 627.5,931.0 627.7,904.6 627.8,930.5 628.0,907.9 628.1,929.5 628.3,903.1 628.4,930.5 628.6,906.1 628.7,929.7 628.9,906.0 629.0,930.9 629.2,907.2 629.3,930.5 629.5,905.4 629.6,931.0 629.8,904.4 629.9,930.4 630.1,903.6 630.2,931.0 630.4,908.6 630.5,931.4 630.7,905.9 630.8,931.1 631.0,901.1 631.1,930.0 631.3,907.4 631.4,930.1 631.6,907.9 631.7,930.5 631.9,905.0 632.0,930.9 632.2,907.5 632.3,930.9 632.5,905.2 632.6,930.5 632.8,902.4 632.9,930.2 633.1,904.3 633.2,929.6 633.4,903.4 633.5,930.7 633.7,906.6 633.8,929.8 634.0,904.6 634.1,930.5 634.3,906.8 634.4,930.3 634.6,900.7 634.7,930.3 634.9,904.9 635.0,931.6 635.2,902.6 635.3,931.4 635.5,903.4 635.6,931.2 635.8,906.0 635.9,930.9 636.1,904.7 636.2,930.7 636.4,905.0 636.5,930.7 636.7,903.2 636.8,929.8 637.0,905.8 637.1,930.4 637.3,904.3 637.4,930.4 637.6,908.8 637.7,930.9 637.9,906.6 638.0,929.9 638.2,907.1 638.3,929.8 638.5,902.6 638.6,930.4 638.8,907.1 638.9,929.4 639.1,908.0 639.2,930.4 639.4,904.3 639.5,930.4 639.7,905.8 639.8,930.8 640.0,901.4 640.1,930.8 640.3,903.5 640.4,930.8 640.6,905.2 640.7,930.3 640.9,905.4 641.0,930.5 641.2,906.2 641.3,930.6 641.5,907.9 641.6,930.9 641.8,908.2 641.9,930.3 642.1,903.3 642.2,930.9 642.4,905.3 642.5,931.3 642.7,903.9 642.8,931.7 643.0,909.0 643.1,930.8 643.3,903.7 643.4,930.6 643.6,900.8 643.7,930.5 643.9,903.2 644.0,930.7 644.2,905.3 644.3,930.6 644.5,906.2 644.6,930.0 644.8,901.5 644.9,930.2 645.1,905.3 645.2,930.6 645.4,901.5 645.5,931.2 645.7,908.4 645.8,931.2 646.0,905.3 646.1,930.9 646.3,905.4 646.4,930.6 646.6,907.3 646.7,931.0 646.9,907.3 647.0,930.3 647.2,905.4 647.3,931.0 647.5,908.0 647.6,930.4 647.8,906.6 647.9,930.4 648.1,905.7 648.2,931.5 648.4,907.3 648.5,930.8 648.7,899.3 648.8,930.4 649.0,905.5 649.1,931.5 649.3,903.5 649.4,931.2 649.6,904.1 649.7,930.3 649.9,904.6 650.0,930.7 650.2,908.2 650.3,930.3 650.5,906.6 650.6,930.8 650.8,907.3 650.9,931.7 651.1,907.6 651.2,930.3 651.4,907.9 651.5,931.7 651.7,907.4 651.8,930.3 652.0,905.3 652.1,931.1 652.3,907.5 652.4,930.6 652.6,906.6 652.7,930.7 652.9,906.0 653.0,930.6 653.2,902.7 653.3,931.3 653.5,904.8 653.6,930.8 653.8,904.2 653.9,931.1 654.1,904.9 654.2,931.6 654.4,907.9 654.5,931.4 654.7,908.5 654.8,930.7 655.0,906.9 655.1,931.7 655.3,906.2 655.4,930.2 655.6,906.9 655.7,930.7 655.9,909.0 656.0,931.6 656.2,905.7 656.3,930.8 656.5,907.2 656.6,930.9 656.8,907.1 656.9,930.8 657.1,909.7 657.2,931.1 657.4,906.1 657.5,931.4 657.7,905.3 657.8,930.9 658.0,909.2 658.1,931.8 658.3,904.9 658.4,931.5 658.6,909.2 658.7,931.0 658.9,908.3 659.0,930.6 659.2,907.5 659.3,930.9 659.5,907.1 659.6,931.3 659.8,905.2 659.9,930.9 660.1,904.9 660.2,931.5 660.4,906.2 660.5,931.2 660.7,909.6 660.8,931.9 661.0,903.1 661.1,930.9 661.3,904.8 661.4,931.2 661.6,899.5 661.7,930.9 661.9,907.3 662.0,931.4 662.2,905.7 662.3,931.4 662.5,907.2 662.6,931.2 662.8,905.4 662.9,932.1 663.1,908.8 663.2,930.7 663.4,903.5 663.5,931.4 663.7,908.6 663.8,931.3 664.0,905.1 664.1,931.5 664.3,907.8 664.4,930.6 664.6,901.4 664.7,931.8 664.9,907.7 665.0,932.3 665.2,907.8 665.3,931.5 665.5,906.8 665.6,931.5 665.8,904.8 665.9,931.1 666.1,905.3 666.2,931.6 666.4,907.8 666.5,931.3 666.7,906.2 666.8,931.9 667.0,906.2 667.1,931.3 667.3,904.7 667.4,930.8 667.6,907.5 667.7,931.4 667.9,902.2 668.0,932.0 668.2,905.2 668.3,932.1 668.5,909.9 668.6,931.9 668.8,907.2 668.9,931.0 669.1,908.8 669.2,931.4 669.4,906.3 669.5,931.6 669.7,905.5 669.8,930.9 670.0,901.2 670.1,931.8 670.3,908.1 670.4,931.7 670.6,906.7 670.7,932.0 670.9,906.3 671.0,931.6 671.2,902.2 671.3,931.2 671.5,908.1 671.6,931.3 671.8,907.7 671.9,931.1 672.1,906.4 672.2,932.2 672.4,910.6 672.5,932.4 672.7,908.1 672.8,931.4 673.0,906.7 673.1,931.1 673.3,905.9 673.4,930.9 673.6,909.1 673.7,931.3 673.9,903.6 674.0,931.5 674.2,903.7 674.3,931.3 674.5,904.6 674.6,930.6 674.8,907.2 674.9,931.0 675.1,907.2 675.2,932.4 675.4,908.4 675.5,931.4 675.7,908.0 675.8,931.1 676.0,908.2 676.1,932.2 676.3,905.3 676.4,932.2 676.6,905.6 676.7,931.4 676.9,907.0 677.0,931.9 677.2,912.1 677.3,931.4 677.5,907.1 677.6,931.1 677.8,911.8 677.9,932.0 678.1,899.5 678.2,931.6 678.4,905.8 678.5,930.9 678.7,906.2 678.8,930.9 679.0,908.1 679.1,931.1 679.3,907.2 679.4,931.6 679.6,904.2 679.7,931.7 679.9,906.2 680.0,931.2 680.2,901.9 680.3,932.3 680.5,904.8 680.6,931.6 680.8,905.9 680.9,930.8 681.1,904.0 681.2,931.9 681.4,906.9 681.5,930.3 681.7,908.1 681.8,931.6 682.0,906.8 682.1,931.5 682.3,905.3 682.4,931.0 682.6,907.3 682.7,930.4 682.9,904.9 683.0,930.8 683.2,906.3 683.3,931.3 683.5,908.3 683.6,931.8 683.8,909.7 683.9,931.3 684.1,907.8 684.2,931.2 684.4,907.0 684.5,931.1 684.7,902.6 684.8,930.5 685.0,905.8 685.1,931.5 685.3,907.9 685.4,932.4 685.6,903.6 685.7,931.3 685.9,909.6 686.0,930.8 686.2,899.8 686.3,930.4 686.5,904.9 686.6,931.4 686.8,907.4 686.9,930.8 687.1,906.7 687.2,931.4 687.4,907.5 687.5,932.5 687.7,908.2 687.8,931.9 688.0,910.6 688.1,932.5 688.3,907.5 688.4,931.9 688.6,907.6 688.7,931.5 688.9,907.1 689.0,931.6 689.2,904.8 689.3,931.2 689.5,907.4 689.6,931.2 689.8,907.8 689.9,932.3 690.1,907.5 690.2,930.5 690.4,908.2 690.5,931.5 690.7,907.5 690.8,930.7 691.0,901.7 691.1,931.6 691.3,903.0 691.4,930.7 691.6,909.8 691.7,931.2 691.9,909.1 692.0,932.4 692.2,904.0 692.3,931.3 692.5,912.3 692.6,931.6 692.8,909.2 692.9,932.2 693.1,909.7 693.2,931.3 693.4,908.0 693.5,931.9 693.7,908.5 693.8,931.3 694.0,907.2 694.1,931.3 694.3,904.9 694.4,931.2 694.6,903.9 694.7,931.0 694.9,908.3 695.0,930.8 695.2,899.0 695.3,931.8 695.5,906.6 695.6,932.5 695.8,908.2 695.9,931.7 696.1,908.1 696.2,931.1 696.4,908.7 696.5,931.1 696.7,907.9 696.8,930.8 697.0,907.3 697.1,932.1 697.3,904.7 697.4,931.6 697.6,903.1 697.7,931.5 697.9,907.2 698.0,930.6 698.2,907.2 698.3,931.4 698.5,910.9 698.6,931.2 698.8,907.5 698.9,932.0 699.1,907.3 699.2,931.9 699.4,905.2 699.5,931.7 699.7,908.9 699.8,931.7 700.0,907.7 700.1,931.1 700.3,907.8 700.4,930.8 700.6,906.4 700.7,931.7 700.9,906.3 701.0,931.8 701.2,905.8 701.3,931.3 701.5,906.9 701.6,930.8 701.8,908.3 701.9,932.0 702.1,907.7 702.2,931.8 702.4,905.9 702.5,931.6 702.7,906.8 702.8,930.8 703.0,906.2 703.1,931.6 703.3,905.3 703.4,932.2 703.6,911.0 703.7,931.4 703.9,909.4 704.0,931.1 704.2,903.6 704.3,931.1 704.5,900.3 704.6,930.9 704.8,906.9 704.9,932.0 705.1,909.5 705.2,931.9 705.4,906.4 705.5,931.7 705.7,906.3 705.8,931.1 706.0,905.2 706.1,931.0 706.3,906.2 706.4,931.8 706.6,905.9 706.7,931.8 706.9,910.5 707.0,932.2 707.2,905.4 707.3,931.4 707.5,905.4 707.6,931.2 707.8,905.4 707.9,931.6 708.1,908.1 708.2,931.9 708.4,907.2 708.5,931.4 708.7,902.7 708.8,932.2 709.0,907.2 709.1,930.9 709.3,905.9 709.4,931.6 709.6,908.1 709.7,931.6 709.9,906.2 710.0,930.9 710.2,908.3 710.3,932.2 710.5,907.0 710.6,930.5 710.8,908.5 710.9,931.9 711.1,908.3 711.2,932.0 711.4,902.7 711.5,932.0 711.7,906.3 711.8,931.7 712.0,910.3 712.1,931.9 712.3,907.8 712.4,931.2 712.6,909.4 712.7,931.8 712.9,910.5 713.0,931.8 713.2,908.2 713.3,932.2 713.5,906.0 713.6,930.9 713.8,909.2 713.9,931.0 714.1,907.5 714.2,932.7 714.4,908.2 714.5,932.0 714.7,906.5 714.8,931.3 715.0,907.9 715.1,931.1 715.3,907.7 715.4,932.7 715.6,909.3 715.7,931.6 715.9,906.3 716.0,931.4 716.2,907.2 716.3,931.2 716.5,908.3 716.6,930.7 716.8,906.8 716.9,931.9 717.1,907.6 717.2,930.8 717.4,905.7 717.5,932.6 717.7,908.0 717.8,931.9 718.0,906.4 718.1,932.0 718.3,905.0 718.4,932.2 718.6,906.7 718.7,931.4 718.9,907.1 719.0,931.9 719.2,908.1 719.3,931.9 719.5,902.9 719.6,931.8 719.8,909.1 719.9,931.3 720.1,909.6 720.2,931.8 720.4,908.2 720.5,931.9 720.7,905.0 720.8,932.3 721.0,903.0 721.1,932.0 721.3,905.9 721.4,931.7 721.6,905.7 721.7,931.6 721.9,908.1 722.0,931.8 722.2,909.1 722.3,931.7 722.5,903.9 722.6,931.7 722.8,907.2 722.9,931.4 723.1,908.6 723.2,931.8 723.4,909.9 723.5,932.6 723.7,906.3 723.8,931.3 724.0,907.7 724.1,931.7 724.3,908.8 724.4,932.0 724.6,906.6 724.7,931.4 724.9,909.6 725.0,932.7 725.2,908.7 725.3,932.1 725.5,908.3 725.6,931.2 725.8,908.8 725.9,931.8 726.1,910.6 726.2,931.9 726.4,907.2 726.5,930.9 726.7,905.8 726.8,931.3 727.0,908.3 727.1,931.7 727.3,907.8 727.4,931.7 727.6,905.8 727.7,931.6 727.9,904.4 728.0,931.4 728.2,906.2 728.3,931.7 728.5,909.0 728.6,931.2 728.8,905.8 728.9,931.3 729.1,908.1 729.2,932.1 729.4,907.9 729.5,931.0 729.7,903.3 729.8,932.5 730.0,908.8 730.1,931.8 730.3,905.1 730.4,932.9 730.6,908.6 730.7,931.8 730.9,909.1 731.0,931.5 731.2,907.7 731.3,931.5 731.5,904.9 731.6,931.1 731.8,909.8 731.9,932.0 732.1,908.0 732.2,932.9 732.4,908.1 732.5,932.9 732.7,906.7 732.8,931.4 733.0,908.2 733.1,931.7 733.3,909.4 733.4,931.7 733.6,906.1 733.7,932.6 733.9,905.9 734.0,931.9 734.2,904.8 734.3,931.9 734.5,908.1 734.6,931.8 734.8,908.3 734.9,931.7 735.1,906.1 735.2,932.3 735.4,908.2 735.5,932.2 735.7,910.3 735.8,931.7 736.0,905.0 736.1,932.5 736.3,908.0 736.4,931.6 736.6,909.6 736.7,931.9 736.9,910.6 737.0,932.7 737.2,910.4 737.3,931.7 737.5,905.8 737.6,931.7 737.8,907.0 737.9,931.8 738.1,906.0 738.2,931.6 738.4,907.7 738.5,932.4 738.7,909.2 738.8,931.6 739.0,909.8 739.1,932.4 739.3,909.1 739.4,931.5 739.6,908.6 739.7,931.1 739.9,907.0 740.0,931.4 740.2,908.8 740.3,931.6 740.5,908.1 740.6,931.5 740.8,910.3 740.9,932.3 741.1,908.8 741.2,931.7 741.4,907.6 741.5,931.5 741.7,906.9 741.8,931.3 742.0,906.9 742.1,932.0 742.3,906.7 742.4,932.3 742.6,906.7 742.7,931.8 742.9,905.2 743.0,932.5 743.2,906.3 743.3,930.9 743.5,908.5 743.6,933.0 743.8,908.7 743.9,932.8 744.1,909.7 744.2,931.5 744.4,905.4 744.5,932.3 744.7,907.9 744.8,931.8 745.0,906.1 745.1,932.8 745.3,905.2 745.4,931.1 745.6,906.3 745.7,931.0 745.9,907.0 746.0,931.5 746.2,908.4 746.3,932.9 746.5,909.5 746.6,931.4 746.8,912.6 746.9,932.3 747.1,900.5 747.2,932.2 747.4,906.4 747.5,932.0 747.7,909.0 747.8,931.9 748.0,909.4 748.1,932.1 748.3,904.5 748.4,932.1 748.6,906.6 748.7,932.5 748.9,906.4 749.0,931.8 749.2,905.2 749.3,932.1 749.5,909.7 749.6,932.1 749.8,907.9 749.9,932.0 750.1,907.5 750.2,931.5 750.4,900.0 750.5,933.0 750.7,903.6 750.8,932.2 751.0,908.3 751.1,932.3 751.3,908.7 751.4,931.9 751.6,906.2 751.7,932.4 751.9,908.2 752.0,931.9 752.2,907.7 752.3,932.1 752.5,905.2 752.6,931.5 752.8,907.2 752.9,931.7 753.1,907.5 753.2,931.6 753.4,906.8 753.5,932.5 753.7,906.3 753.8,931.7 754.0,907.6 754.1,932.2 754.3,908.1 754.4,931.9 754.6,911.4 754.7,931.3 754.9,906.9 755.0,932.5 755.2,906.7 755.3,932.1 755.5,908.4 755.6,931.5 755.8,909.7 755.9,932.5 756.1,908.2 756.2,932.1 756.4,908.4 756.5,932.1 756.7,908.0 756.8,931.1 757.0,908.1 757.1,933.1 757.3,904.5 757.4,931.8 757.6,906.7 757.7,932.1 757.9,907.1 758.0,933.2 758.2,905.5 758.3,932.0 758.5,908.6 758.6,931.8 758.8,909.6 758.9,931.5 759.1,907.4 759.2,932.3 759.4,907.3 759.5,931.2 759.7,905.4 759.8,931.3 760.0,907.2 760.1,932.2 760.3,905.9 760.4,932.4 760.6,909.8 760.7,931.5 760.9,903.8 761.0,932.5 761.2,907.0 761.3,932.3 761.5,908.4 761.6,932.0 761.8,902.8 761.9,932.4 762.1,909.9 762.2,932.0 762.4,907.3 762.5,931.9 762.7,908.3 762.8,931.4 763.0,905.5 763.1,932.2 763.3,908.5 763.4,932.1 763.6,906.4 763.7,931.8 763.9,903.4 764.0,931.6 764.2,909.9 764.3,932.3 764.5,909.9 764.6,933.2 764.8,907.7 764.9,931.4 765.1,907.8 765.2,931.8 765.4,908.6 765.5,931.9 765.7,907.0 765.8,931.3 766.0,908.9 766.1,932.1 766.3,906.8 766.4,931.6 766.6,907.4 766.7,932.0 766.9,908.9 767.0,931.6 767.2,906.3 767.3,932.4 767.5,905.5 767.6,931.9 767.8,907.7 767.9,931.6 768.1,907.9 768.2,932.6 768.4,906.1 768.5,932.6 768.7,907.8 768.8,932.1 769.0,906.9 769.1,932.2 769.3,907.5 769.4,931.9 769.6,903.9 769.7,931.8 769.9,908.8 770.0,932.0 770.2,910.2 770.3,932.4 770.5,906.4 770.6,932.3 770.8,907.1 770.9,932.1 771.1,907.5 771.2,933.2 771.4,908.7 771.5,931.6 771.7,906.5 771.8,932.1 772.0,908.4 772.1,932.0 772.3,907.3 772.4,931.3 772.6,909.6 772.7,932.4 772.9,906.0 773.0,932.4 773.2,905.6 773.3,932.9 773.5,908.9 773.6,933.1 773.8,907.3 773.9,932.7 774.1,905.3 774.2,932.1 774.4,907.5 774.5,931.4 774.7,908.4 774.8,931.9 775.0,904.6 775.1,931.8 775.3,907.5 775.4,932.6 775.6,904.9 775.7,933.1 775.9,908.9 776.0,932.1 776.2,907.5 776.3,931.8 776.5,907.8 776.6,931.9 776.8,908.8 776.9,933.1 777.1,910.1 777.2,932.2 777.4,907.3 777.5,932.4 777.7,907.1 777.8,932.6 778.0,902.6 778.1,931.9 778.3,908.5 778.4,932.1 778.6,903.4 778.7,932.7 778.9,908.1 779.0,932.3 779.2,906.9 779.3,932.0 779.5,907.3 779.6,932.2 779.8,907.5 779.9,932.3 780.1,909.1 780.2,932.4 780.4,908.9 780.5,932.9 780.7,910.4 780.8,932.1 781.0,909.1 781.1,932.4 781.3,911.0 781.4,932.3 781.6,904.5 781.7,932.2 781.9,909.9 782.0,932.3 782.2,909.4 782.3,931.6 782.5,906.9 782.6,932.2 782.8,908.3 782.9,932.1 783.1,908.1 783.2,932.3 783.4,908.2 783.5,932.0 783.7,909.1 783.8,932.0 784.0,908.4 784.1,932.7 784.3,909.5 784.4,932.3 784.6,905.0 784.7,932.3 784.9,908.2 785.0,932.2 785.2,909.7 785.3,931.8 785.5,908.6 785.6,932.3 785.8,905.9 785.9,933.0 786.1,906.0 786.2,933.4 786.4,908.3 786.5,932.1 786.7,909.2 786.8,933.4 787.0,906.4 787.1,932.0 787.3,911.5 787.4,932.0 787.6,908.3 787.7,932.3 787.9,909.2 788.0,932.0 788.2,908.7 788.3,932.5 788.5,909.2 788.6,933.5 788.8,908.7 788.9,931.4 789.1,907.7 789.2,932.0 789.4,906.8 789.5,933.3 789.7,907.6 789.8,932.5 790.0,909.4 790.1,932.2 790.3,908.1 790.4,931.4 790.6,909.0 790.7,933.0 790.9,908.8 791.0,932.7 791.2,908.6 791.3,932.1 791.5,906.5 791.6,932.9 791.8,904.7 791.9,932.5 792.1,908.3 792.2,932.6 792.4,908.5 792.5,932.7 792.7,907.1 792.8,932.9 793.0,910.7 793.1,932.6 793.3,907.5 793.4,932.6 793.6,904.6 793.7,932.3 793.9,910.4 794.0,933.0 794.2,906.4 794.3,932.1 794.5,907.5 794.6,931.8 794.8,912.7 794.9,932.3 795.1,905.1 795.2,932.0 795.4,907.5 795.5,933.0 795.7,911.6 795.8,933.0 796.0,906.0 796.1,932.6 796.3,909.2 796.4,932.3 796.6,908.4 796.7,932.5 796.9,908.2 797.0,932.9 797.2,906.5 797.3,932.2 797.5,907.2 797.6,931.5 797.8,909.5 797.9,931.5 798.1,909.6 798.2,932.3 798.4,909.1 798.5,931.8 798.7,900.5 798.8,932.2 799.0,911.9 799.1,931.7 799.3,909.8 799.4,932.9 799.6,910.6 799.7,933.2 799.9,907.6 800.0,932.9 800.2,910.4 800.3,932.0 800.5,906.1 800.6,932.5 800.8,909.0 800.9,932.5 801.1,910.0 801.2,931.3 801.4,907.8 801.5,931.9 801.7,910.2 801.8,932.3 802.0,907.2 802.1,932.3 802.3,910.0 802.4,932.0 802.6,909.9 802.7,932.1 802.9,908.1 803.0,932.3 803.2,911.1 803.3,932.2 803.5,906.3 803.6,933.1 803.8,910.1 803.9,932.4 804.1,908.8 804.2,933.0 804.4,904.8 804.5,932.7 804.7,909.7 804.8,932.3 805.0,905.2 805.1,933.5 805.3,906.2 805.4,932.0 805.6,907.8 805.7,932.1 805.9,909.5 806.0,933.2 806.2,908.5 806.3,932.1 806.5,903.5 806.6,933.6 806.8,911.6 806.9,933.1 807.1,907.9 807.2,933.3 807.4,904.6 807.5,932.6 807.7,907.9 807.8,932.5 808.0,910.3 808.1,933.4 808.3,911.2 808.4,932.0 808.6,907.0 808.7,933.1 808.9,910.7 809.0,932.2 809.2,908.1 809.3,932.4 809.5,908.6 809.6,933.0 809.8,909.8 809.9,932.0 810.1,908.7 810.2,932.3 810.4,906.0 810.5,932.6 810.7,907.9 810.8,932.8 811.0,907.0 811.1,932.1 811.3,907.2 811.4,932.6 811.6,907.5 811.7,932.4 811.9,907.4 812.0,932.6 812.2,902.7 812.3,932.3 812.5,909.3 812.6,932.2 812.8,910.5 812.9,932.3 813.1,909.5 813.2,932.2 813.4,908.6 813.5,932.0 813.7,909.6 813.8,932.4 814.0,901.1 814.1,932.3 814.3,908.0 814.4,933.2 814.6,910.1 814.7,932.1 814.9,907.3 815.0,932.0 815.2,906.7 815.3,932.0 815.5,906.6 815.6,932.5 815.8,910.1 815.9,932.0 816.1,909.0 816.2,932.5 816.4,907.3 816.5,932.5 816.7,907.3 816.8,932.4 817.0,909.3 817.1,933.0 817.3,908.0 817.4,933.4 817.6,905.5 817.7,932.4 817.9,908.0 818.0,932.3 818.2,904.9 818.3,932.9 818.5,907.8 818.6,931.9 818.8,912.5 818.9,933.1 819.1,907.6 819.2,932.2 819.4,904.5 819.5,932.8 819.7,912.4 819.8,932.1 820.0,909.7 820.1,932.5 820.3,907.5 820.4,932.3 820.6,905.2 820.7,932.2 820.9,910.5 821.0,932.9 821.2,905.5 821.3,932.7 821.5,907.0 821.6,932.4 821.8,909.3 821.9,932.4 822.1,910.8 822.2,933.2 822.4,906.8 822.5,932.7 822.7,908.6 822.8,932.6 823.0,906.4 823.1,932.4 823.3,908.6 823.4,932.6 823.6,899.7 823.7,932.9 823.9,908.2 824.0,932.8 824.2,906.9 824.3,932.4 824.5,909.3 824.6,932.0 824.8,908.1 824.9,932.3 825.1,908.3 825.2,933.6 825.4,902.4 825.5,932.2 825.7,910.8 825.8,933.4 826.0,909.4 826.1,932.3 826.3,910.7 826.4,932.5 826.6,903.1 826.7,932.2 826.9,903.8 827.0,931.9 827.2,908.0 827.3,931.9 827.5,907.9 827.6,932.8 827.8,908.4 827.9,932.9 828.1,908.5 828.2,931.7 828.4,907.8 828.5,932.9 828.7,908.7 828.8,933.1 829.0,907.0 829.1,933.7 829.3,906.3 829.4,933.7 829.6,905.3 829.7,932.6 829.9,908.7 830.0,933.2 830.2,905.5 830.3,932.4 830.5,907.5 830.6,932.2 830.8,907.9 830.9,932.3 831.1,909.0 831.2,932.4 831.4,906.7 831.5,932.7 831.7,907.7 831.8,931.7 832.0,910.9 832.1,932.8 832.3,909.9 832.4,933.5 832.6,906.3 832.7,931.8 832.9,908.7 833.0,933.0 833.2,904.1 833.3,933.6 833.5,905.8 833.6,932.9 833.8,908.4 833.9,932.4 834.1,906.8 834.2,932.6 834.4,907.6 834.5,932.7 834.7,905.1 834.8,933.4 835.0,911.4 835.1,932.0 835.3,907.4 835.4,932.8 835.6,906.7 835.7,932.7 835.9,910.4 836.0,932.8 836.2,910.0 836.3,932.1 836.5,906.6 836.6,932.8 836.8,907.2 836.9,932.4 837.1,909.0 837.2,932.5 837.4,906.9 837.5,932.8 837.7,909.8 837.8,932.8 838.0,904.5 838.1,933.1 838.3,910.1 838.4,933.6 838.6,907.1 838.7,932.0 838.9,906.8 839.0,932.3 839.2,909.7 839.3,932.3 839.5,908.1 839.6,933.6 839.8,906.8 839.9,932.9 840.1,906.8 840.2,932.4 840.4,911.5 840.5,932.4 840.7,909.5 840.8,932.1 841.0,909.3 841.1,933.2 841.3,911.5 841.4,932.5 841.6,909.7 841.7,932.5 841.9,908.3 842.0,932.7 842.2,909.2 842.3,933.4 842.5,904.7 842.6,933.1 842.8,909.0 842.9,932.7 843.1,910.8 843.2,932.7 843.4,908.2 843.5,933.1 843.7,908.2 843.8,932.9 844.0,908.8 844.1,933.0 844.3,907.0 844.4,932.6 844.6,908.1 844.7,932.5 844.9,907.3 845.0,932.2 845.2,908.8 845.3,933.7 845.5,905.0 845.6,931.8 845.8,905.2 845.9,932.1 846.1,904.6 846.2,932.0 846.4,904.8 846.5,932.6 846.7,909.5 846.8,932.2 847.0,909.9 847.1,932.8 847.3,905.9 847.4,932.5 847.6,910.6 847.7,932.5 847.9,909.5 848.0,932.0 848.2,912.3 848.3,932.4 848.5,908.7 848.6,933.3 848.8,909.2 848.9,933.0 849.1,907.8 849.2,933.1 849.4,907.8 849.5,933.3 849.7,906.0 849.8,933.1 850.0,910.6 850.1,932.2 850.3,907.2 850.4,932.8 850.6,906.3 850.7,932.8 850.9,908.0 851.0,932.5 851.2,910.7 851.3,933.0 851.5,909.6 851.6,932.9 851.8,908.5 851.9,932.8 852.1,908.2 852.2,932.3 852.4,904.6 852.5,932.9 852.7,908.7 852.8,933.1 853.0,909.5 853.1,933.9 853.3,912.2 853.4,933.0 853.6,912.1 853.7,932.9 853.9,909.7 854.0,933.1 854.2,908.2 854.3,933.1 854.5,908.9 854.6,933.2 854.8,909.1 854.9,932.9 855.1,909.5 855.2,932.8 855.4,907.5 855.5,932.4 855.7,907.6 855.8,932.4 856.0,905.6 856.1,933.5 856.3,905.5 856.4,932.1 856.6,908.7 856.7,932.9 856.9,906.9 857.0,932.5 857.2,906.8 857.3,933.8 857.5,908.8 857.6,932.3 857.8,908.3 857.9,933.4" fill="none" stroke="#1171be" stroke-width="3" stroke-linejoin="round" stroke-linecap="round"/>
<path d="M108.6,829.2V821.1" stroke="#1171be" stroke-width="3" stroke-linecap="round"/>
<path d="M114.5,835.7V826.6" stroke="#1171be" stroke-width="3" stroke-linecap="round"/>
<path d="M122.1,842.5V831.1" stroke="#1171be" stroke-width="3" stroke-linecap="round"/>
<path d="M129.7,847.1V832.6" stroke="#1171be" stroke-width="3" stroke-linecap="round"/>
<path d="M150.8,859.1V844.6" stroke="#1171be" stroke-width="3" stroke-linecap="round"/>
<path d="M208.2,887.3V854.1" stroke="#1171be" stroke-width="3" stroke-linecap="round"/>
<path d="M200.6,879.7V863.1" stroke="#1171be" stroke-width="3" stroke-linecap="round"/>
<path d="M190.5,878.3V864.1" stroke="#1171be" stroke-width="3" stroke-linecap="round"/>
<path d="M228.5,893.4V869.1" stroke="#1171be" stroke-width="3.4" stroke-linecap="round"/>
<path d="M226.0,891.7V872.6" stroke="#1171be" stroke-width="3" stroke-linecap="round"/>
<path d="M251.3,898.3V882.6" stroke="#1171be" stroke-width="3" stroke-linecap="round"/>
<path d="M266.5,901.5V882.6" stroke="#1171be" stroke-width="3" stroke-linecap="round"/>
<path d="M275.8,903.1V880.1" stroke="#1171be" stroke-width="3" stroke-linecap="round"/>
<path d="M287.0,905.3V882.6" stroke="#1171be" stroke-width="3" stroke-linecap="round"/>
<path d="M343.0,912.8V894.1" stroke="#1171be" stroke-width="3" stroke-linecap="round"/>
<path d="M401.5,918.1V894.6" stroke="#1171be" stroke-width="3" stroke-linecap="round"/>
<path d="M372.5,915.5V895.1" stroke="#1171be" stroke-width="3" stroke-linecap="round"/>
<path d="M662.0,923.4V895.1" stroke="#1171be" stroke-width="3" stroke-linecap="round"/>
<path d="M840.5,924.8V900.1" stroke="#1171be" stroke-width="3" stroke-linecap="round"/>
<path d="M806.0,924.5V901.1" stroke="#1171be" stroke-width="3" stroke-linecap="round"/>
<path d="M464.5,920.6V898.1" stroke="#1171be" stroke-width="3" stroke-linecap="round"/>
<path d="M483.0,921.1V899.1" stroke="#1171be" stroke-width="3" stroke-linecap="round"/>
<path d="M536.5,922.4V898.1" stroke="#1171be" stroke-width="3" stroke-linecap="round"/>
<path d="M74.5,588.0 75.2,600.0 76.0,612.0 77.0,631.0 77.9,649.0 79.2,675.0 80.9,699.6 82.5,735.6 84.4,763.6 86.5,775.6 91.0,789.6 94.3,803.6 99.3,813.7 104.4,822.2 109.5,830.6 116.2,837.4 123.0,843.3 128.0,845.8 132.2,849.2 137.3,848.3 141.5,855.1 144.9,858.5 149.1,853.9 152.5,864.4 156.7,867.8 164.3,866.9 170.2,871.1 178.7,875.4 185.4,877.0 188.8,879.2 192.2,877.4 197.2,882.1 203.2,877.9 207.4,887.2 212.4,888.0 217.5,890.9 222.6,889.4 229.3,893.9 236.1,898.5 241.1,897.3 244.5,895.1 247.9,895.6 255.5,901.5 261.4,899.0 266.5,901.5 269.8,898.5 274.9,902.9 285.9,905.7 289.3,904.4 296.9,907.9 301.1,905.4 307.0,907.9 310.4,908.3 314.6,911.7 320.5,910.0 325.6,912.5 334.0,912.0 344.1,912.9 349.2,910.9 355.9,914.8 363.5,912.6 368.6,915.4 381.3,915.6 391.4,917.3 401.5,918.1 418.4,918.0 433.6,919.3 438.7,918.5 445.4,919.8 458.1,917.6 463.2,920.5 480.9,921.3 489.3,920.5 509.6,921.5 513.0,920.7 518.0,921.8 524.8,919.3 529.8,922.2 543.4,922.7 548.4,921.3 553.5,923.0 563.6,921.8 577.1,923.0 594.0,922.7 620.0,922.9 640.0,922.6 660.0,923.4 700.0,923.6 740.0,924.0 780.0,924.4 820.0,924.6 857.4,924.9" fill="none" stroke="#dd5400" stroke-width="3.2" stroke-linejoin="round" stroke-linecap="round"/>
<circle cx="841.6" cy="924.9" r="10.8" fill="none" stroke="#dd5400" stroke-width="1.1"/><circle cx="857.3" cy="924.9" r="7.4" fill="#dd5400"/><circle cx="841.6" cy="924.9" r="7" fill="#212121"/>
<rect x="765.6" y="601.9" width="208.8" height="67.2" fill="#fff" stroke="#1c1c1c" stroke-width="1.35"/>
<path d="M772.1,614.9h66" stroke="#1171be" stroke-width="3"/><path d="M772.1,635.5h66" stroke="#dd5400" stroke-width="3"/><circle cx="805.6" cy="656.5" r="7.3" fill="#212121"/>
<text x="842.9" y="621.0" font-size="17.7">Training Loss</text>
<text x="842.9" y="641.4" font-size="17.7">Validation Loss</text>
<text x="842.9" y="661.8" font-size="17.7">Output Network</text>
<g transform="translate(0 461.9)" fill="none" stroke="#555" stroke-width="1.5" stroke-linejoin="round" stroke-linecap="round">
<rect x="747.4" y="88.3" width="32.4" height="32.4" rx="7" fill="#dadada" stroke="#858585" stroke-width="1"/><rect x="751.6" y="92.6" width="24.8" height="24.8" rx="1" fill="#d2d2d2" stroke-width="1.7" stroke-linejoin="miter"/><path d="M753,98.3h22M753,100.9h22M753,106h22" stroke="#b4b4b4" stroke-width="1.4" stroke-linecap="butt"/><path d="M755.2,96.3C755.6,106 762,112.2 773.6,112.6" stroke-width="1.4"/><rect x="785.6" y="109" width="24.8" height="8.6" rx="0.6" stroke-width="1.6"/><circle cx="806.4" cy="113.5" r="1.2" stroke-width="1.2"/><path d="M790.6,108.4C790,101 794,97.2 799.2,97.4V93L808.4,100L799.2,107.4V103.2C795.4,103 792.6,104.6 791.8,108.4" stroke-width="1.4"/><path d="M816.2,104.2h10.8l-5.4,5.8z" fill="#555" stroke="none"/><path d="M837.4,109V92.7h21v20.2H840.6" stroke-width="1.6" stroke-linejoin="miter"/><circle cx="836.8" cy="112.8" r="3.3" fill="#f5f5f5" stroke-width="1.5"/><path d="M840.4,99.4h15.2M840.4,104.3h8.8" stroke-width="1.4"/><path d="M876.4,117.4C873.6,115.4 871.6,110.6 866.6,105.4C865.8,103.8 867.8,102.6 869.4,103.6L874.2,107.4L872.6,96.6C872.4,94.6 874.8,94.2 875.4,96L877.8,103.4L877.6,94.2C877.6,92 880.4,92 880.6,94.2L881.6,103L883.6,95.2C884,93.4 886.6,93.8 886.4,95.8L885.2,104.2L888.4,98.8C889.4,97.2 891.6,98.2 890.8,100.2C889.4,104.4 888.4,107.2 888.4,111C888.4,114 887.6,116.4 885.4,117.6Z" stroke-width="1.3"/><circle cx="909.6" cy="102.6" r="9.8" stroke-width="1.6"/><path d="M916.8,110L924,117" stroke-width="2.6" stroke-linecap="butt"/><path d="M932.8,107.6L945.2,92.8L950.4,99V95.4H954V103.4L957.4,107.6H954.4V117.4H947.6V109.4H942.6V117.4H935.8V107.6Z" stroke-width="1.5" stroke-linejoin="miter"/><rect x="962.2" y="88.3" width="32.6" height="32.4" rx="7.5" fill="#d9d9d9" stroke="#8a8a8a" stroke-width="1"/><path d="M967,94.2L977.2,104.5L967,114.6M978.8,94.2L989,104.5L978.8,114.6" stroke-width="1.4" stroke-linejoin="miter" stroke-linecap="butt"/></g>
</svg>

<div class="r" style="top:99px"><span class="l">Progress:</span></div>
<div class="r" style="top:141px"><span class="l">Status:</span><span class="v" style="left:1150px">Training stopped</span></div>
<div class="r" style="top:182px"><span class="l">Stop reason:</span><span class="v" style="left:1150px">Max epochs completed</span></div>
<div class="r" style="top:271px"><span class="l">Start time:</span><span class="v" style="left:1270px">08-Dec-2025 13:10:48</span></div>
<div class="r" style="top:309px"><span class="l">Elapsed time:</span><span class="v" style="left:1270px">00:41:30</span></div>
<div class="r" style="top:406px"><span class="l">Epoch:</span><span class="v" style="left:1270px">400 of 400</span></div>
<div class="r" style="top:443.6px"><span class="l">Iteration:</span><span class="v" style="left:1270px">51200 of 51200</span></div>
<div class="r" style="top:481px"><span class="l">Solver:</span><span class="v" style="left:1270px">Adam</span></div>
<div class="r" style="top:518.8px"><span class="l">Learning rate schedule:</span><span class="v" style="left:1270px">Custom</span></div>
<div class="r" style="top:556px"><span class="l">Learning rate:</span><span class="v" style="left:1270px">1.9531e-06</span></div>
<div class="r" style="top:593.8px"><span class="l">Validation frequency:</span><span class="v" style="left:1270px">256</span></div>
<div class="r" style="top:631px"><span class="l">Validation patience:</span><span class="v" style="left:1270px">10</span></div>
<div class="r" style="top:668.8px"><span class="l">Objective metric:</span><span class="v" style="left:1270px">Loss</span></div>
<div class="r" style="top:706px"><span class="l">Output network:</span><span class="v" style="left:1270px">Best validation</span></div>
<div class="r" style="top:743.8px"><span class="l">Hardware resource:</span><span class="v" style="left:1270px">Single CPU</span></div>
<div class="r h" style="top:237.5px"><span class="l" style="left:1019.5px">Time</span></div>
<div class="r h" style="top:367.5px"><span class="l">Information</span></div>

<div id="bar"></div>
<svg width="30" height="30" viewBox="1446 87 30 30" style="position:absolute;left:1446px;top:87px"><circle cx="1461.9" cy="102.9" r="12.4" fill="none" stroke="#bcbcbc" stroke-width="1.5"/><rect x="1457.2" y="98.2" width="9.6" height="9.6" rx="1" fill="#c2c2c2"/></svg>
<div id="btn">
<svg width="40" height="36" viewBox="1019.3 775.2 40 36" style="position:absolute;left:0;top:0" fill="none">
<rect x="1025.9" y="780.3" width="20.2" height="19.4" rx="2.2" fill="#fff" stroke="#666" stroke-width="1.6"/>
<rect x="1041.6" y="781" width="3.8" height="7" fill="#dcdcdc"/>
<path d="M1041,780.4v8.4M1026.4,789.3h9" stroke="#6a6a6a" stroke-width="1.4"/>
<path d="M1028.5,786.4C1031,784.2 1034,783.2 1037.6,782.9" stroke="#1171be" stroke-width="1.5" stroke-linecap="round"/>
<path d="M1028.8,792.6L1033.2,795.6" stroke="#dd5400" stroke-width="1.5" stroke-linecap="round"/>
<rect x="1034.4" y="788.3" width="15.8" height="15.8" rx="2" fill="#fff" stroke="#6a6a6a" stroke-width="1.4"/>
<path d="M1036.6,803.2C1036.2,797.6 1038.6,794.6 1041.6,794.6V790.8L1049.6,796.2L1042,801.6V798C1039.6,798.2 1037.8,800 1036.6,803.2Z" fill="#c4f0c0" stroke="#0c7c10" stroke-width="1.3" stroke-linejoin="round"/>
</svg>
<span>Export as Image</span></div>
</div></div>
<div style="position:absolute;left:1538.6px;top:286px;width:1.4px;height:2px;background:#2b3a55"></div><div style="position:absolute;left:1538.6px;top:294px;width:1.4px;height:3px;background:#444"></div><div style="position:absolute;left:1538.6px;top:321px;width:1.4px;height:2px;background:#3b4a60"></div><div style="position:absolute;left:1538.6px;top:326px;width:1.4px;height:2px;background:#3b4a60"></div><div style="position:absolute;left:1538.6px;top:330px;width:1.4px;height:2px;background:#3b4a60"></div><div style="position:absolute;left:1538.6px;top:351px;width:1.4px;height:10px;background:#35598a"></div><div style="position:absolute;left:1538.6px;top:395px;width:1.4px;height:5px;background:#35598a"></div><div style="position:absolute;left:1538.6px;top:638px;width:1.4px;height:13px;background:#2f3f5f"></div><div style="position:absolute;left:1538.6px;top:754px;width:1.4px;height:1.5px;background:#555"></div><div style="position:absolute;left:1538.6px;top:797px;width:1.4px;height:1.5px;background:#555"></div>
</body></html>
